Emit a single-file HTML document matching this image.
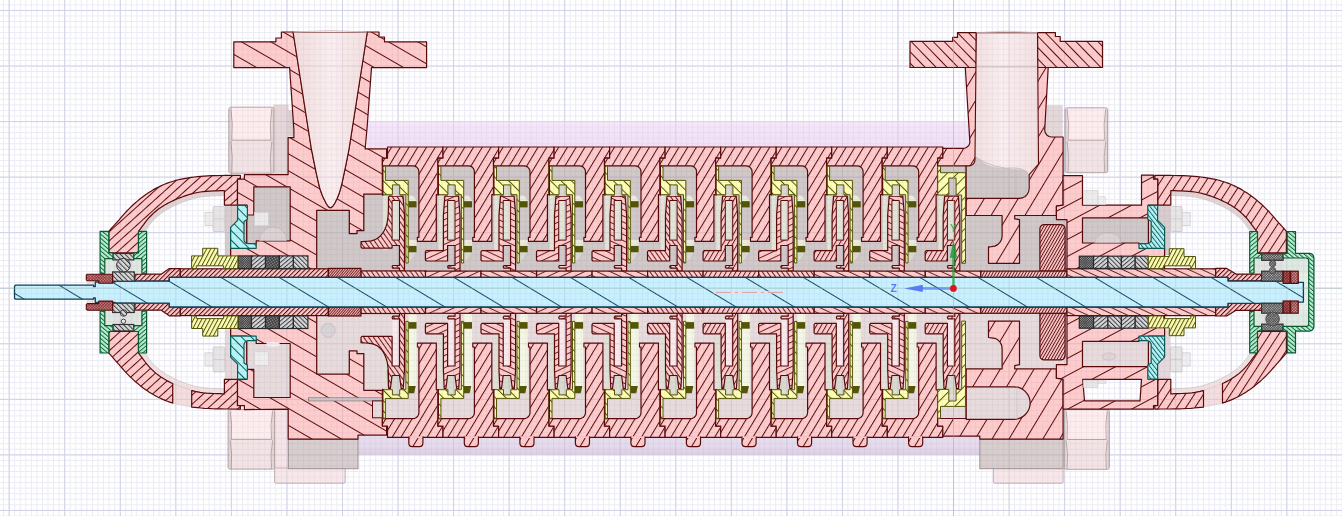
<!DOCTYPE html>
<html lang="en"><head><meta charset="utf-8"><title>Pump section view</title>
<style>html,body{margin:0;padding:0;background:#fff;overflow:hidden}body{width:1342px;height:516px;font-family:"Liberation Sans",sans-serif}svg{display:block;position:absolute;left:0;top:0}</style></head>
<body>
<svg width="1342" height="516" viewBox="0 0 1342 516" font-family="'Liberation Sans', sans-serif">
<defs>
<pattern id="hIn" patternUnits="userSpaceOnUse" width="14.7" height="10" patternTransform="rotate(-60) translate(10.5 0)"><line x1="0.5" y1="-1" x2="0.5" y2="11" stroke="#5a0a0a" stroke-width="1"/></pattern>
<pattern id="hSt" patternUnits="userSpaceOnUse" width="7.5" height="10" patternTransform="rotate(31) translate(1.2 0)"><line x1="0.5" y1="-1" x2="0.5" y2="11" stroke="#5a0a0a" stroke-width="1"/></pattern>
<pattern id="hSt0" patternUnits="userSpaceOnUse" width="7.5" height="10" patternTransform="rotate(31) translate(5.9 0)"><line x1="0.5" y1="-1" x2="0.5" y2="11" stroke="#5a0a0a" stroke-width="1"/></pattern>
<pattern id="hSt1" patternUnits="userSpaceOnUse" width="7.5" height="10" patternTransform="rotate(31) translate(1.2 0)"><line x1="0.5" y1="-1" x2="0.5" y2="11" stroke="#5a0a0a" stroke-width="1"/></pattern>
<pattern id="hSt2" patternUnits="userSpaceOnUse" width="7.5" height="10" patternTransform="rotate(31) translate(4 0)"><line x1="0.5" y1="-1" x2="0.5" y2="11" stroke="#5a0a0a" stroke-width="1"/></pattern>
<pattern id="hSt3" patternUnits="userSpaceOnUse" width="7.5" height="10" patternTransform="rotate(31) translate(6.7 0)"><line x1="0.5" y1="-1" x2="0.5" y2="11" stroke="#5a0a0a" stroke-width="1"/></pattern>
<pattern id="hSt4" patternUnits="userSpaceOnUse" width="7.5" height="10" patternTransform="rotate(31) translate(2 0)"><line x1="0.5" y1="-1" x2="0.5" y2="11" stroke="#5a0a0a" stroke-width="1"/></pattern>
<pattern id="hSt5" patternUnits="userSpaceOnUse" width="7.5" height="10" patternTransform="rotate(31) translate(4.8 0)"><line x1="0.5" y1="-1" x2="0.5" y2="11" stroke="#5a0a0a" stroke-width="1"/></pattern>
<pattern id="hSt6" patternUnits="userSpaceOnUse" width="7.5" height="10" patternTransform="rotate(31) translate(0.1 0)"><line x1="0.5" y1="-1" x2="0.5" y2="11" stroke="#5a0a0a" stroke-width="1"/></pattern>
<pattern id="hSt7" patternUnits="userSpaceOnUse" width="7.5" height="10" patternTransform="rotate(31) translate(2.9 0)"><line x1="0.5" y1="-1" x2="0.5" y2="11" stroke="#5a0a0a" stroke-width="1"/></pattern>
<pattern id="hSt8" patternUnits="userSpaceOnUse" width="7.5" height="10" patternTransform="rotate(31) translate(5.6 0)"><line x1="0.5" y1="-1" x2="0.5" y2="11" stroke="#5a0a0a" stroke-width="1"/></pattern>
<pattern id="hSt9" patternUnits="userSpaceOnUse" width="7.5" height="10" patternTransform="rotate(31) translate(0.9 0)"><line x1="0.5" y1="-1" x2="0.5" y2="11" stroke="#5a0a0a" stroke-width="1"/></pattern>
<pattern id="hOut" patternUnits="userSpaceOnUse" width="14.5" height="10" patternTransform="rotate(31) translate(3 0)"><line x1="0.5" y1="-1" x2="0.5" y2="11" stroke="#5a0a0a" stroke-width="1"/></pattern>
<pattern id="hOut2" patternUnits="userSpaceOnUse" width="15" height="10" patternTransform="rotate(62) translate(7 0)"><line x1="0.5" y1="-1" x2="0.5" y2="11" stroke="#5a0a0a" stroke-width="1"/></pattern>
<pattern id="hFl" patternUnits="userSpaceOnUse" width="7.9" height="10" patternTransform="rotate(-44) translate(2 0)"><line x1="0.5" y1="-1" x2="0.5" y2="11" stroke="#5a0a0a" stroke-width="1"/></pattern>
<pattern id="hArm" patternUnits="userSpaceOnUse" width="6.8" height="10" patternTransform="rotate(48) translate(0 0)"><line x1="0.5" y1="-1" x2="0.5" y2="11" stroke="#5a0a0a" stroke-width="1"/></pattern>
<pattern id="hArmR" patternUnits="userSpaceOnUse" width="7.6" height="10" patternTransform="rotate(33) translate(0 0)"><line x1="0.5" y1="-1" x2="0.5" y2="11" stroke="#5a0a0a" stroke-width="1"/></pattern>
<pattern id="hSl" patternUnits="userSpaceOnUse" width="3.3" height="10" patternTransform="rotate(45) translate(0 0)"><line x1="0.5" y1="-1" x2="0.5" y2="11" stroke="#5a0a0a" stroke-width="1"/></pattern>
<pattern id="hNut" patternUnits="userSpaceOnUse" width="1.9" height="10" patternTransform="rotate(40) translate(0 0)"><line x1="0.5" y1="-1" x2="0.5" y2="11" stroke="#5a0a0a" stroke-width="0.8"/></pattern>
<pattern id="hDrum" patternUnits="userSpaceOnUse" width="2.6" height="10" patternTransform="rotate(30) translate(0 0)"><line x1="0.5" y1="-1" x2="0.5" y2="11" stroke="#5a0a0a" stroke-width="0.9"/></pattern>
<pattern id="hImpA" patternUnits="userSpaceOnUse" width="5.6" height="10" patternTransform="rotate(65) translate(0 0)"><line x1="0.5" y1="-1" x2="0.5" y2="11" stroke="#5a0a0a" stroke-width="0.9"/></pattern>
<pattern id="hImpB" patternUnits="userSpaceOnUse" width="5.6" height="10" patternTransform="rotate(-65) translate(0 0)"><line x1="0.5" y1="-1" x2="0.5" y2="11" stroke="#5a0a0a" stroke-width="0.9"/></pattern>
<pattern id="hImpC" patternUnits="userSpaceOnUse" width="4.2" height="10" patternTransform="rotate(30) translate(0 0)"><line x1="0.5" y1="-1" x2="0.5" y2="11" stroke="#5a0a0a" stroke-width="0.9"/></pattern>
<pattern id="hImpD" patternUnits="userSpaceOnUse" width="4" height="10" patternTransform="rotate(-35) translate(0 0)"><line x1="0.5" y1="-1" x2="0.5" y2="11" stroke="#5a0a0a" stroke-width="0.9"/></pattern>
<pattern id="hYel" patternUnits="userSpaceOnUse" width="7.4" height="10" patternTransform="rotate(-45) translate(2 0)"><line x1="0.5" y1="-1" x2="0.5" y2="11" stroke="#55550a" stroke-width="1"/></pattern>
<pattern id="hYel2" patternUnits="userSpaceOnUse" width="7.4" height="10" patternTransform="rotate(45) translate(0 0)"><line x1="0.5" y1="-1" x2="0.5" y2="11" stroke="#55550a" stroke-width="1"/></pattern>
<pattern id="hGl" patternUnits="userSpaceOnUse" width="3.6" height="10" patternTransform="rotate(28) translate(0 0)"><line x1="0.5" y1="-1" x2="0.5" y2="11" stroke="#55550a" stroke-width="1"/></pattern>
<pattern id="hShaft" patternUnits="userSpaceOnUse" width="30" height="10" patternTransform="rotate(-59) translate(-4.5 0)"><line x1="0.5" y1="-1" x2="0.5" y2="11" stroke="#164c62" stroke-width="1"/></pattern>
<pattern id="hGrL" patternUnits="userSpaceOnUse" width="3.2" height="10" patternTransform="rotate(-50) translate(0 0)"><line x1="0.5" y1="-1" x2="0.5" y2="11" stroke="#0a5a2e" stroke-width="0.9"/></pattern>
<pattern id="hGrR" patternUnits="userSpaceOnUse" width="3.2" height="10" patternTransform="rotate(50) translate(0 0)"><line x1="0.5" y1="-1" x2="0.5" y2="11" stroke="#0a5a2e" stroke-width="0.9"/></pattern>
<pattern id="hCy" patternUnits="userSpaceOnUse" width="6.8" height="10" patternTransform="rotate(-45) translate(0 0)"><line x1="0.5" y1="-1" x2="0.5" y2="11" stroke="#0a5c5c" stroke-width="1"/></pattern>
<pattern id="hCy2" patternUnits="userSpaceOnUse" width="3.4" height="10" patternTransform="rotate(-38) translate(0 0)"><line x1="0.5" y1="-1" x2="0.5" y2="11" stroke="#0a5c5c" stroke-width="0.9"/></pattern>
<pattern id="hBr" patternUnits="userSpaceOnUse" width="3.4" height="10" patternTransform="rotate(-45) translate(0 0)"><line x1="0.5" y1="-1" x2="0.5" y2="11" stroke="#333" stroke-width="0.9"/></pattern>
<pattern id="hPk1" patternUnits="userSpaceOnUse" width="3.2" height="10" patternTransform="rotate(50) translate(0 0)"><line x1="0.5" y1="-1" x2="0.5" y2="11" stroke="#333" stroke-width="0.9"/></pattern>
<pattern id="hPk2" patternUnits="userSpaceOnUse" width="3.2" height="10" patternTransform="rotate(-45) translate(0 0)"><line x1="0.5" y1="-1" x2="0.5" y2="11" stroke="#333" stroke-width="0.9"/></pattern>
<pattern id="xPk" patternUnits="userSpaceOnUse" width="1.6" height="1.6" patternTransform="rotate(45)"><path d="M0.5 0V1.6 M0 0.5H1.6" stroke="#222" stroke-width="0.6" fill="none"/></pattern>
<pattern id="xPk2" patternUnits="userSpaceOnUse" width="1.5" height="1.5" patternTransform="rotate(20)"><path d="M0.5 0V1.5 M0 0.5H1.5" stroke="#222" stroke-width="0.6" fill="none"/></pattern>
<pattern id="xLn" patternUnits="userSpaceOnUse" width="2" height="2" patternTransform="rotate(45)"><path d="M0.5 0V2 M0 0.5H2" stroke="#5a0a0a" stroke-width="0.5" fill="none"/></pattern>
<pattern id="xBr" patternUnits="userSpaceOnUse" width="1.8" height="1.8" patternTransform="rotate(45)"><path d="M0.5 0V1.8 M0 0.5H1.8" stroke="#333" stroke-width="0.6" fill="none"/></pattern>
<linearGradient id="gRod" x1="0" y1="0" x2="0" y2="1"><stop offset="0" stop-color="#f5e7f8"/><stop offset="0.3" stop-color="#f4e4f7"/><stop offset="1" stop-color="#f2e1f5"/></linearGradient>
<linearGradient id="gRodB" x1="0" y1="0" x2="0" y2="1"><stop offset="0" stop-color="#e9dfee"/><stop offset="0.6" stop-color="#e4d9ea"/><stop offset="1" stop-color="#dccfe2"/></linearGradient>
<linearGradient id="gBore" x1="0" y1="0" x2="1" y2="0"><stop offset="0" stop-color="#f0dcdc"/><stop offset="0.5" stop-color="#faeeee"/><stop offset="1" stop-color="#f3e0e0"/></linearGradient>
<pattern id="gMin" patternUnits="userSpaceOnUse" x="3.1" y="4.4" width="5.555" height="5.555"><path d="M0.5 0V5.555 M0 0.5H5.555" stroke="#f5f5fa" stroke-width="1" fill="none"/></pattern>
<pattern id="gMaj" patternUnits="userSpaceOnUse" x="8.7" y="10" width="55.55" height="55.55"><path d="M0.5 0V55.55 M0 0.5H55.55" stroke="#e6e6f2" stroke-width="1" fill="none"/></pattern>
<pattern id="gMinF" patternUnits="userSpaceOnUse" x="3.1" y="4.4" width="5.555" height="5.555"><path d="M0.5 0V5.555 M0 0.5H5.555" stroke="#f4f4fa" stroke-width="1" fill="none"/></pattern>
<pattern id="gMajF" patternUnits="userSpaceOnUse" x="8.7" y="10" width="55.55" height="55.55"><path d="M0.5 0V55.55 M0 0.5H55.55" stroke="#e8e8f4" stroke-width="1" fill="none"/></pattern>
</defs>
<rect x="0" y="0" width="1342" height="516" fill="#ffffff"/>
<rect width="1342" height="516" fill="url(#gMin)"/><rect width="1342" height="516" fill="url(#gMaj)"/>
<rect x="367" y="121.3" width="604" height="27" fill="url(#gRod)"/>
<rect x="358" y="436" width="622" height="18.5" fill="url(#gRodB)"/>
<rect x="273.9" y="105" width="14.2" height="69.6" fill="#e6d8d8" />
<rect x="273.9" y="105" width="14.2" height="69.6" fill="none" stroke="#e2d0d0" stroke-width="0.8"/>
<rect x="228.8" y="107.2" width="45.1" height="33" rx="2" fill="#fdeded" />
<rect x="228.8" y="140.2" width="45.1" height="33" rx="2" fill="#f2e4e4" />
<rect x="228.8" y="109.2" width="45.1" height="31" fill="#fdeded"/>
<rect x="228.8" y="140.2" width="45.1" height="31" fill="#f2e4e4"/>
<rect x="228.8" y="109.2" width="2.6" height="62" fill="#e4d6d6"/><rect x="271.3" y="109.2" width="2.6" height="62" fill="#e4d6d6"/>
<rect x="228.8" y="107.2" width="45.1" height="66" rx="2" fill="none" stroke="#ad9d9d" stroke-width="0.9"/>
<line x1="231.8" y1="140.2" x2="270.9" y2="140.2" stroke="#ad9d9d" stroke-width="0.9"/>
<path d="M230.8 108.2 Q233.3 123.7 231.8 140.2 M271.9 108.2 Q269.4 123.7 270.9 140.2" fill="none" stroke="#ad9d9d" stroke-width="0.8"/>
<path d="M230.8 141.2 Q233.3 156.7 231.8 173.2 M271.9 141.2 Q269.4 156.7 270.9 173.2" fill="none" stroke="#ad9d9d" stroke-width="0.8"/>
<rect x="288.1" y="110" width="5.4" height="26.5" fill="#dccfcf" />
<rect x="274.6" y="409.1" width="13.6" height="60" fill="#f6e4e6" />
<rect x="274.6" y="409.1" width="13.6" height="60" fill="none" stroke="#cbbcbc" stroke-width="0.9"/>
<rect x="228.1" y="409.6" width="46.5" height="29.8" rx="2" fill="#fdeded" />
<rect x="228.1" y="439.4" width="46.5" height="29.8" rx="2" fill="#f2e4e4" />
<rect x="228.1" y="411.6" width="46.5" height="27.8" fill="#fdeded"/>
<rect x="228.1" y="439.4" width="46.5" height="27.8" fill="#f2e4e4"/>
<rect x="228.1" y="411.6" width="2.6" height="55.5" fill="#e4d6d6"/><rect x="272" y="411.6" width="2.6" height="55.5" fill="#e4d6d6"/>
<rect x="228.1" y="409.6" width="46.5" height="59.5" rx="2" fill="none" stroke="#ad9d9d" stroke-width="0.9"/>
<line x1="231.1" y1="439.4" x2="271.6" y2="439.4" stroke="#ad9d9d" stroke-width="0.9"/>
<path d="M230.1 410.6 Q232.6 424.5 231.1 439.4 M272.6 410.6 Q270.1 424.5 271.6 439.4" fill="none" stroke="#ad9d9d" stroke-width="0.8"/>
<path d="M230.1 440.4 Q232.6 454.2 231.1 469.1 M272.6 440.4 Q270.1 454.2 271.6 469.1" fill="none" stroke="#ad9d9d" stroke-width="0.8"/>
<rect x="274.6" y="468" width="70.6" height="15.2" rx="1" fill="#f8e7e9" />
<rect x="274.6" y="468" width="70.6" height="15.2" rx="1" fill="none" stroke="#c3b3b3" stroke-width="1"/>
<rect x="288.4" y="439.1" width="69.6" height="29.6" fill="#d8cece" />
<rect x="288.4" y="439.1" width="69.6" height="29.6" fill="none" stroke="#a39494" stroke-width="1"/>
<rect x="1044.7" y="105.8" width="17.5" height="30.7" fill="#e4d8d8" />
<rect x="1044.7" y="105.8" width="17.5" height="30.7" fill="none" stroke="#e2d0d0" stroke-width="0.8"/>
<rect x="1065.1" y="107.8" width="42.6" height="32.5" rx="2" fill="#fdeded" />
<rect x="1065.1" y="140.2" width="42.6" height="32.4" rx="2" fill="#f2e4e4" />
<rect x="1065.1" y="109.8" width="42.6" height="30.5" fill="#fdeded"/>
<rect x="1065.1" y="140.2" width="42.6" height="30.4" fill="#f2e4e4"/>
<rect x="1065.1" y="109.8" width="2.6" height="60.9" fill="#e4d6d6"/><rect x="1105.1" y="109.8" width="2.6" height="60.9" fill="#e4d6d6"/>
<rect x="1065.1" y="107.8" width="42.6" height="64.9" rx="2" fill="none" stroke="#ad9d9d" stroke-width="0.9"/>
<line x1="1068.1" y1="140.2" x2="1104.7" y2="140.2" stroke="#ad9d9d" stroke-width="0.9"/>
<path d="M1067.1 108.8 Q1069.6 124 1068.1 140.2 M1105.7 108.8 Q1103.2 124 1104.7 140.2" fill="none" stroke="#ad9d9d" stroke-width="0.8"/>
<path d="M1067.1 141.2 Q1069.6 156.5 1068.1 172.7 M1105.7 141.2 Q1103.2 156.5 1104.7 172.7" fill="none" stroke="#ad9d9d" stroke-width="0.8"/>
<rect x="1064.1" y="409.6" width="45.2" height="29.9" rx="2" fill="#fdeded" />
<rect x="1064.1" y="439.5" width="45.2" height="29.8" rx="2" fill="#f2e4e4" />
<rect x="1064.1" y="411.6" width="45.2" height="27.9" fill="#fdeded"/>
<rect x="1064.1" y="439.5" width="45.2" height="27.8" fill="#f2e4e4"/>
<rect x="1064.1" y="411.6" width="2.6" height="55.7" fill="#e4d6d6"/><rect x="1106.7" y="411.6" width="2.6" height="55.7" fill="#e4d6d6"/>
<rect x="1064.1" y="409.6" width="45.2" height="59.7" rx="2" fill="none" stroke="#ad9d9d" stroke-width="0.9"/>
<line x1="1067.1" y1="439.5" x2="1106.3" y2="439.5" stroke="#ad9d9d" stroke-width="0.9"/>
<path d="M1066.1 410.6 Q1068.6 424.5 1067.1 439.5 M1107.3 410.6 Q1104.8 424.5 1106.3 439.5" fill="none" stroke="#ad9d9d" stroke-width="0.8"/>
<path d="M1066.1 440.5 Q1068.6 454.4 1067.1 469.3 M1107.3 440.5 Q1104.8 454.4 1106.3 469.3" fill="none" stroke="#ad9d9d" stroke-width="0.8"/>
<rect x="993.4" y="468" width="69.7" height="15.2" rx="1" fill="#f8e7e9" />
<rect x="993.4" y="468" width="69.7" height="15.2" rx="1" fill="none" stroke="#c3b3b3" stroke-width="1"/>
<rect x="979.8" y="439.1" width="83.3" height="29.6" fill="#d8cece" />
<rect x="979.8" y="439.1" width="83.3" height="29.6" fill="none" stroke="#a39494" stroke-width="1"/>
<rect x="224.8" y="205" width="22.2" height="50" fill="#d8cccd" />
<rect x="224.8" y="329.4" width="22.2" height="50" fill="#e6d9db" />
<rect x="1148.2" y="205" width="22.2" height="50" fill="#d8cccd" />
<rect x="1148.2" y="329.4" width="22.2" height="50" fill="#e6d9db" />
<polygon points="224.4,190.5 222.5,190.6 220,190.7 216.9,190.8 213.6,190.9 210.1,191.1 206.6,191.3 203.3,191.6 200.3,192 197.6,192.5 195,193 192.4,193.7 189.9,194.3 187.4,195.1 185,195.9 182.7,196.7 180.3,197.6 178,198.5 175.6,199.5 173.3,200.6 171,201.7 168.8,202.8 166.7,203.9 164.6,205.1 162.7,206.3 160.9,207.5 159.2,208.6 157.6,209.8 156.1,211 154.6,212.3 153.1,213.6 151.7,215 150.2,216.5 148.6,218.2 146.9,220.2 145.2,222.4 143.6,224.6 142,226.7 140.6,228.6 139.4,230.2 138.5,231.4 143.5,233 144.3,232 145.3,230.6 146.5,228.9 147.8,227.1 149.2,225.2 150.7,223.3 152.2,221.5 153.6,220 155,218.6 156.3,217.4 157.7,216.2 159.1,215 160.6,213.9 162.2,212.8 163.8,211.7 165.5,210.6 167.3,209.5 169.2,208.4 171.2,207.3 173.3,206.3 175.4,205.2 177.6,204.2 179.8,203.3 182,202.4 184.2,201.6 186.5,200.8 188.7,200 191.1,199.3 193.4,198.6 195.9,198 198.4,197.5 201,197 203.9,196.6 207.1,196.3 210.5,196.1 213.9,195.9 217.1,195.8 220.1,195.7 222.6,195.6 224.4,195.5" fill="#e3d5d5" stroke="none"/>
<polygon points="224.4,190.5 222.5,190.6 220,190.7 216.9,190.8 213.6,190.9 210.1,191.1 206.6,191.3 203.3,191.6 200.3,192 197.6,192.5 195,193 192.4,193.7 189.9,194.3 187.4,195.1 185,195.9 182.7,196.7 180.3,197.6 178,198.5 175.6,199.5 173.3,200.6 171,201.7 168.8,202.8 166.7,203.9 164.6,205.1 162.7,206.3 160.9,207.5 159.2,208.6 157.6,209.8 156.1,211 154.6,212.3 153.1,213.6 151.7,215 150.2,216.5 148.6,218.2 146.9,220.2 145.2,222.4 143.6,224.6 142,226.7 140.6,228.6 139.4,230.2 138.5,231.4 143.5,233 144.3,232 145.3,230.6 146.5,228.9 147.8,227.1 149.2,225.2 150.7,223.3 152.2,221.5 153.6,220 155,218.6 156.3,217.4 157.7,216.2 159.1,215 160.6,213.9 162.2,212.8 163.8,211.7 165.5,210.6 167.3,209.5 169.2,208.4 171.2,207.3 173.3,206.3 175.4,205.2 177.6,204.2 179.8,203.3 182,202.4 184.2,201.6 186.5,200.8 188.7,200 191.1,199.3 193.4,198.6 195.9,198 198.4,197.5 201,197 203.9,196.6 207.1,196.3 210.5,196.1 213.9,195.9 217.1,195.8 220.1,195.7 222.6,195.6 224.4,195.5" fill="none" stroke="#d4c2c2" stroke-width="0.7" stroke-linejoin="round" />
<polygon points="108.8,252.9 108.8,231.4 109.5,230.6 110.3,229.7 111.3,228.5 112.5,227.2 113.7,225.8 115,224.3 116.4,222.8 117.7,221.3 119.1,219.8 120.5,218.1 122,216.4 123.6,214.6 125.2,212.8 126.8,211 128.5,209.3 130.2,207.6 131.9,206 133.7,204.3 135.5,202.7 137.4,201.1 139.3,199.5 141.2,197.9 143.2,196.4 145.2,195 147.3,193.6 149.3,192.2 151.5,190.9 153.6,189.6 155.8,188.4 158.1,187.2 160.4,186.1 162.7,185 165.1,184 167.4,183.1 169.8,182.3 172.3,181.5 174.8,180.7 177.4,180 180,179.4 182.8,178.8 185.6,178.3 188.5,177.8 191.5,177.4 194.5,177 197.7,176.7 200.9,176.4 204.3,176.1 207.8,175.9 211.7,175.7 216.2,175.6 220.9,175.5 225.7,175.4 230.2,175.4 234.4,175.4 237.8,175.3 240.4,175.3 240.4,179.2 237.5,179.2 237.5,205.1 224.4,205.1 224.4,190.5 222.5,190.6 220,190.7 216.9,190.8 213.6,190.9 210.1,191.1 206.6,191.3 203.3,191.6 200.3,192 197.6,192.5 195,193 192.4,193.7 189.9,194.3 187.4,195.1 185,195.9 182.7,196.7 180.3,197.6 178,198.5 175.6,199.5 173.3,200.6 171,201.7 168.8,202.8 166.7,203.9 164.6,205.1 162.7,206.3 160.9,207.5 159.2,208.6 157.6,209.8 156.1,211 154.6,212.3 153.1,213.6 151.7,215 150.2,216.5 148.6,218.2 146.9,220.2 145.2,222.4 143.6,224.6 142,226.7 140.6,228.6 139.4,230.2 138.5,231.4 138.5,252.9" fill="#fdcccc" stroke="none"/>
<polygon points="108.8,252.9 108.8,231.4 109.5,230.6 110.3,229.7 111.3,228.5 112.5,227.2 113.7,225.8 115,224.3 116.4,222.8 117.7,221.3 119.1,219.8 120.5,218.1 122,216.4 123.6,214.6 125.2,212.8 126.8,211 128.5,209.3 130.2,207.6 131.9,206 133.7,204.3 135.5,202.7 137.4,201.1 139.3,199.5 141.2,197.9 143.2,196.4 145.2,195 147.3,193.6 149.3,192.2 151.5,190.9 153.6,189.6 155.8,188.4 158.1,187.2 160.4,186.1 162.7,185 165.1,184 167.4,183.1 169.8,182.3 172.3,181.5 174.8,180.7 177.4,180 180,179.4 182.8,178.8 185.6,178.3 188.5,177.8 191.5,177.4 194.5,177 197.7,176.7 200.9,176.4 204.3,176.1 207.8,175.9 211.7,175.7 216.2,175.6 220.9,175.5 225.7,175.4 230.2,175.4 234.4,175.4 237.8,175.3 240.4,175.3 240.4,179.2 237.5,179.2 237.5,205.1 224.4,205.1 224.4,190.5 222.5,190.6 220,190.7 216.9,190.8 213.6,190.9 210.1,191.1 206.6,191.3 203.3,191.6 200.3,192 197.6,192.5 195,193 192.4,193.7 189.9,194.3 187.4,195.1 185,195.9 182.7,196.7 180.3,197.6 178,198.5 175.6,199.5 173.3,200.6 171,201.7 168.8,202.8 166.7,203.9 164.6,205.1 162.7,206.3 160.9,207.5 159.2,208.6 157.6,209.8 156.1,211 154.6,212.3 153.1,213.6 151.7,215 150.2,216.5 148.6,218.2 146.9,220.2 145.2,222.4 143.6,224.6 142,226.7 140.6,228.6 139.4,230.2 138.5,231.4 138.5,252.9" fill="url(#hArm)" stroke="none"/>
<polygon points="108.8,252.9 108.8,231.4 109.5,230.6 110.3,229.7 111.3,228.5 112.5,227.2 113.7,225.8 115,224.3 116.4,222.8 117.7,221.3 119.1,219.8 120.5,218.1 122,216.4 123.6,214.6 125.2,212.8 126.8,211 128.5,209.3 130.2,207.6 131.9,206 133.7,204.3 135.5,202.7 137.4,201.1 139.3,199.5 141.2,197.9 143.2,196.4 145.2,195 147.3,193.6 149.3,192.2 151.5,190.9 153.6,189.6 155.8,188.4 158.1,187.2 160.4,186.1 162.7,185 165.1,184 167.4,183.1 169.8,182.3 172.3,181.5 174.8,180.7 177.4,180 180,179.4 182.8,178.8 185.6,178.3 188.5,177.8 191.5,177.4 194.5,177 197.7,176.7 200.9,176.4 204.3,176.1 207.8,175.9 211.7,175.7 216.2,175.6 220.9,175.5 225.7,175.4 230.2,175.4 234.4,175.4 237.8,175.3 240.4,175.3 240.4,179.2 237.5,179.2 237.5,205.1 224.4,205.1 224.4,190.5 222.5,190.6 220,190.7 216.9,190.8 213.6,190.9 210.1,191.1 206.6,191.3 203.3,191.6 200.3,192 197.6,192.5 195,193 192.4,193.7 189.9,194.3 187.4,195.1 185,195.9 182.7,196.7 180.3,197.6 178,198.5 175.6,199.5 173.3,200.6 171,201.7 168.8,202.8 166.7,203.9 164.6,205.1 162.7,206.3 160.9,207.5 159.2,208.6 157.6,209.8 156.1,211 154.6,212.3 153.1,213.6 151.7,215 150.2,216.5 148.6,218.2 146.9,220.2 145.2,222.4 143.6,224.6 142,226.7 140.6,228.6 139.4,230.2 138.5,231.4 138.5,252.9" fill="none" stroke="#5a0a0a" stroke-width="1.2" stroke-linejoin="round" />
<polygon points="224.4,393.9 222.5,393.8 220,393.7 216.9,393.6 213.6,393.5 210.1,393.3 206.6,393.1 203.3,392.8 200.3,392.4 197.6,391.9 195,391.4 192.4,390.7 189.9,390 187.4,389.3 185,388.5 182.7,387.7 180.3,386.8 178,385.9 175.6,384.9 173.3,383.8 171,382.7 168.8,381.6 166.7,380.5 164.6,379.3 162.7,378.1 160.9,376.9 159.2,375.8 157.6,374.6 156.1,373.4 154.6,372.1 153.1,370.8 151.7,369.4 150.2,367.9 148.6,366.2 146.9,364.2 145.2,362 143.6,359.8 142,357.7 140.6,355.8 139.4,354.2 138.5,353 143.5,351.4 144.3,352.4 145.3,353.8 146.5,355.5 147.8,357.3 149.2,359.2 150.7,361.1 152.2,362.9 153.6,364.4 155,365.8 156.3,367 157.7,368.2 159.1,369.4 160.6,370.5 162.2,371.6 163.8,372.7 165.5,373.8 167.3,374.9 169.2,376 171.2,377.1 173.3,378.1 175.4,379.2 177.6,380.2 179.8,381.1 182,382 184.2,382.8 186.5,383.6 188.7,384.4 191.1,385.1 193.4,385.8 195.9,386.4 198.4,386.9 201,387.4 203.9,387.8 207.1,388.1 210.5,388.3 213.9,388.5 217.1,388.6 220.1,388.7 222.6,388.8 224.4,388.9" fill="#f0e2e2" stroke="none"/>
<polygon points="224.4,393.9 222.5,393.8 220,393.7 216.9,393.6 213.6,393.5 210.1,393.3 206.6,393.1 203.3,392.8 200.3,392.4 197.6,391.9 195,391.4 192.4,390.7 189.9,390 187.4,389.3 185,388.5 182.7,387.7 180.3,386.8 178,385.9 175.6,384.9 173.3,383.8 171,382.7 168.8,381.6 166.7,380.5 164.6,379.3 162.7,378.1 160.9,376.9 159.2,375.8 157.6,374.6 156.1,373.4 154.6,372.1 153.1,370.8 151.7,369.4 150.2,367.9 148.6,366.2 146.9,364.2 145.2,362 143.6,359.8 142,357.7 140.6,355.8 139.4,354.2 138.5,353 143.5,351.4 144.3,352.4 145.3,353.8 146.5,355.5 147.8,357.3 149.2,359.2 150.7,361.1 152.2,362.9 153.6,364.4 155,365.8 156.3,367 157.7,368.2 159.1,369.4 160.6,370.5 162.2,371.6 163.8,372.7 165.5,373.8 167.3,374.9 169.2,376 171.2,377.1 173.3,378.1 175.4,379.2 177.6,380.2 179.8,381.1 182,382 184.2,382.8 186.5,383.6 188.7,384.4 191.1,385.1 193.4,385.8 195.9,386.4 198.4,386.9 201,387.4 203.9,387.8 207.1,388.1 210.5,388.3 213.9,388.5 217.1,388.6 220.1,388.7 222.6,388.8 224.4,388.9" fill="none" stroke="#d4c2c2" stroke-width="0.7" stroke-linejoin="round" />
<polygon points="172.7,403.1 191.7,407.1 191.7,390.5 172.7,383.5" fill="#f5dede" stroke="none"/>
<polygon points="172.7,403.1 191.7,407.1 191.7,390.5 172.7,383.5" fill="none" stroke="#e0cccc" stroke-width="0.7" stroke-linejoin="round" />
<polygon points="108.8,331.5 108.8,353 109.5,353.8 110.3,354.7 111.3,355.9 112.5,357.2 113.7,358.6 115,360.1 116.4,361.6 117.7,363.1 119.1,364.6 120.5,366.3 122,368 123.6,369.8 125.2,371.6 126.8,373.4 128.5,375.1 130.2,376.8 131.9,378.4 133.7,380.1 135.5,381.7 137.4,383.3 139.3,384.9 141.2,386.5 143.2,388 145.2,389.4 147.3,390.8 149.3,392.2 151.5,393.5 153.6,394.8 155.8,396 158.1,397.2 160.4,398.3 162.7,399.4 165.1,400.4 167.4,401.3 169.8,402.1 172.3,402.9 172.7,403.1 172.7,383.5 171,382.7 168.8,381.6 166.7,380.5 164.6,379.3 162.7,378.1 160.9,376.9 159.2,375.8 157.6,374.6 156.1,373.4 154.6,372.1 153.1,370.8 151.7,369.4 150.2,367.9 148.6,366.2 146.9,364.2 145.2,362 143.6,359.8 142,357.7 140.6,355.8 139.4,354.2 138.5,353 138.5,331.5" fill="#fdcccc" stroke="none"/>
<polygon points="108.8,331.5 108.8,353 109.5,353.8 110.3,354.7 111.3,355.9 112.5,357.2 113.7,358.6 115,360.1 116.4,361.6 117.7,363.1 119.1,364.6 120.5,366.3 122,368 123.6,369.8 125.2,371.6 126.8,373.4 128.5,375.1 130.2,376.8 131.9,378.4 133.7,380.1 135.5,381.7 137.4,383.3 139.3,384.9 141.2,386.5 143.2,388 145.2,389.4 147.3,390.8 149.3,392.2 151.5,393.5 153.6,394.8 155.8,396 158.1,397.2 160.4,398.3 162.7,399.4 165.1,400.4 167.4,401.3 169.8,402.1 172.3,402.9 172.7,403.1 172.7,383.5 171,382.7 168.8,381.6 166.7,380.5 164.6,379.3 162.7,378.1 160.9,376.9 159.2,375.8 157.6,374.6 156.1,373.4 154.6,372.1 153.1,370.8 151.7,369.4 150.2,367.9 148.6,366.2 146.9,364.2 145.2,362 143.6,359.8 142,357.7 140.6,355.8 139.4,354.2 138.5,353 138.5,331.5" fill="url(#hArm)" stroke="none"/>
<polygon points="108.8,331.5 108.8,353 109.5,353.8 110.3,354.7 111.3,355.9 112.5,357.2 113.7,358.6 115,360.1 116.4,361.6 117.7,363.1 119.1,364.6 120.5,366.3 122,368 123.6,369.8 125.2,371.6 126.8,373.4 128.5,375.1 130.2,376.8 131.9,378.4 133.7,380.1 135.5,381.7 137.4,383.3 139.3,384.9 141.2,386.5 143.2,388 145.2,389.4 147.3,390.8 149.3,392.2 151.5,393.5 153.6,394.8 155.8,396 158.1,397.2 160.4,398.3 162.7,399.4 165.1,400.4 167.4,401.3 169.8,402.1 172.3,402.9 172.7,403.1 172.7,383.5 171,382.7 168.8,381.6 166.7,380.5 164.6,379.3 162.7,378.1 160.9,376.9 159.2,375.8 157.6,374.6 156.1,373.4 154.6,372.1 153.1,370.8 151.7,369.4 150.2,367.9 148.6,366.2 146.9,364.2 145.2,362 143.6,359.8 142,357.7 140.6,355.8 139.4,354.2 138.5,353 138.5,331.5" fill="none" stroke="#5a0a0a" stroke-width="1.2" stroke-linejoin="round" />
<polygon points="191.7,407.1 194.5,407.4 197.7,407.7 200.9,408 204.3,408.3 207.8,408.5 211.7,408.7 216.2,408.8 220.9,408.9 225.7,409 230.2,409 234.4,409 237.8,409.1 240.4,409.1 240.4,405.2 237.5,405.2 237.5,379.3 224.4,379.3 224.4,393.9 222.5,393.8 220,393.7 216.9,393.6 213.6,393.5 210.1,393.3 206.6,393.1 203.3,392.8 200.3,392.4 197.6,391.9 195,391.4 192.4,390.7 191.7,390.5" fill="#fdcccc" stroke="none"/>
<polygon points="191.7,407.1 194.5,407.4 197.7,407.7 200.9,408 204.3,408.3 207.8,408.5 211.7,408.7 216.2,408.8 220.9,408.9 225.7,409 230.2,409 234.4,409 237.8,409.1 240.4,409.1 240.4,405.2 237.5,405.2 237.5,379.3 224.4,379.3 224.4,393.9 222.5,393.8 220,393.7 216.9,393.6 213.6,393.5 210.1,393.3 206.6,393.1 203.3,392.8 200.3,392.4 197.6,391.9 195,391.4 192.4,390.7 191.7,390.5" fill="url(#hArm)" stroke="none"/>
<polygon points="191.7,407.1 194.5,407.4 197.7,407.7 200.9,408 204.3,408.3 207.8,408.5 211.7,408.7 216.2,408.8 220.9,408.9 225.7,409 230.2,409 234.4,409 237.8,409.1 240.4,409.1 240.4,405.2 237.5,405.2 237.5,379.3 224.4,379.3 224.4,393.9 222.5,393.8 220,393.7 216.9,393.6 213.6,393.5 210.1,393.3 206.6,393.1 203.3,392.8 200.3,392.4 197.6,391.9 195,391.4 192.4,390.7 191.7,390.5" fill="none" stroke="#5a0a0a" stroke-width="1.2" stroke-linejoin="round" />
<polygon points="1170.8,190.5 1172.7,190.6 1175.2,190.7 1178.3,190.8 1181.6,190.9 1185.1,191.1 1188.6,191.3 1191.9,191.6 1194.9,192 1197.6,192.5 1200.2,193 1202.8,193.7 1205.3,194.3 1207.8,195.1 1210.2,195.9 1212.5,196.7 1214.9,197.6 1217.2,198.5 1219.6,199.5 1221.9,200.6 1224.2,201.7 1226.4,202.8 1228.5,203.9 1230.6,205.1 1232.5,206.3 1234.3,207.5 1236,208.6 1237.6,209.8 1239.1,211 1240.6,212.3 1242.1,213.6 1243.5,215 1245,216.5 1246.6,218.2 1248.3,220.2 1250,222.4 1251.6,224.6 1253.2,226.7 1254.6,228.6 1255.8,230.2 1256.7,231.4 1251.7,233 1250.9,232 1249.9,230.6 1248.7,228.9 1247.4,227.1 1246,225.2 1244.5,223.3 1243,221.5 1241.6,220 1240.2,218.6 1238.9,217.4 1237.5,216.2 1236.1,215 1234.6,213.9 1233,212.8 1231.4,211.7 1229.7,210.6 1227.9,209.5 1226,208.4 1224,207.3 1221.9,206.3 1219.8,205.2 1217.6,204.2 1215.4,203.3 1213.2,202.4 1211,201.6 1208.7,200.8 1206.5,200 1204.1,199.3 1201.8,198.6 1199.3,198 1196.8,197.5 1194.2,197 1191.3,196.6 1188.1,196.3 1184.7,196.1 1181.3,195.9 1178.1,195.8 1175.1,195.7 1172.6,195.6 1170.8,195.5" fill="#e3d5d5" stroke="none"/>
<polygon points="1170.8,190.5 1172.7,190.6 1175.2,190.7 1178.3,190.8 1181.6,190.9 1185.1,191.1 1188.6,191.3 1191.9,191.6 1194.9,192 1197.6,192.5 1200.2,193 1202.8,193.7 1205.3,194.3 1207.8,195.1 1210.2,195.9 1212.5,196.7 1214.9,197.6 1217.2,198.5 1219.6,199.5 1221.9,200.6 1224.2,201.7 1226.4,202.8 1228.5,203.9 1230.6,205.1 1232.5,206.3 1234.3,207.5 1236,208.6 1237.6,209.8 1239.1,211 1240.6,212.3 1242.1,213.6 1243.5,215 1245,216.5 1246.6,218.2 1248.3,220.2 1250,222.4 1251.6,224.6 1253.2,226.7 1254.6,228.6 1255.8,230.2 1256.7,231.4 1251.7,233 1250.9,232 1249.9,230.6 1248.7,228.9 1247.4,227.1 1246,225.2 1244.5,223.3 1243,221.5 1241.6,220 1240.2,218.6 1238.9,217.4 1237.5,216.2 1236.1,215 1234.6,213.9 1233,212.8 1231.4,211.7 1229.7,210.6 1227.9,209.5 1226,208.4 1224,207.3 1221.9,206.3 1219.8,205.2 1217.6,204.2 1215.4,203.3 1213.2,202.4 1211,201.6 1208.7,200.8 1206.5,200 1204.1,199.3 1201.8,198.6 1199.3,198 1196.8,197.5 1194.2,197 1191.3,196.6 1188.1,196.3 1184.7,196.1 1181.3,195.9 1178.1,195.8 1175.1,195.7 1172.6,195.6 1170.8,195.5" fill="none" stroke="#d4c2c2" stroke-width="0.7" stroke-linejoin="round" />
<polygon points="1286.4,252.9 1286.4,231.4 1285.7,230.6 1284.9,229.7 1283.9,228.5 1282.7,227.2 1281.5,225.8 1280.2,224.3 1278.8,222.8 1277.5,221.3 1276.1,219.8 1274.7,218.1 1273.2,216.4 1271.6,214.6 1270,212.8 1268.4,211 1266.7,209.3 1265,207.6 1263.3,206 1261.5,204.3 1259.7,202.7 1257.8,201.1 1255.9,199.5 1254,197.9 1252,196.4 1250,195 1247.9,193.6 1245.9,192.2 1243.7,190.9 1241.6,189.6 1239.4,188.4 1237.1,187.2 1234.8,186.1 1232.5,185 1230.1,184 1227.8,183.1 1225.4,182.3 1222.9,181.5 1220.4,180.7 1217.8,180 1215.2,179.4 1212.4,178.8 1209.6,178.3 1206.7,177.8 1203.7,177.4 1200.7,177 1197.5,176.7 1194.3,176.4 1190.9,176.1 1187.4,175.9 1183.5,175.7 1179,175.6 1174.3,175.5 1169.5,175.4 1165,175.4 1160.8,175.4 1157.4,175.3 1154.8,175.3 1154.8,179.2 1157.7,179.2 1157.7,205.1 1170.8,205.1 1170.8,190.5 1172.7,190.6 1175.2,190.7 1178.3,190.8 1181.6,190.9 1185.1,191.1 1188.6,191.3 1191.9,191.6 1194.9,192 1197.6,192.5 1200.2,193 1202.8,193.7 1205.3,194.3 1207.8,195.1 1210.2,195.9 1212.5,196.7 1214.9,197.6 1217.2,198.5 1219.6,199.5 1221.9,200.6 1224.2,201.7 1226.4,202.8 1228.5,203.9 1230.6,205.1 1232.5,206.3 1234.3,207.5 1236,208.6 1237.6,209.8 1239.1,211 1240.6,212.3 1242.1,213.6 1243.5,215 1245,216.5 1246.6,218.2 1248.3,220.2 1250,222.4 1251.6,224.6 1253.2,226.7 1254.6,228.6 1255.8,230.2 1256.7,231.4 1256.7,252.9" fill="#fdcccc" stroke="none"/>
<polygon points="1286.4,252.9 1286.4,231.4 1285.7,230.6 1284.9,229.7 1283.9,228.5 1282.7,227.2 1281.5,225.8 1280.2,224.3 1278.8,222.8 1277.5,221.3 1276.1,219.8 1274.7,218.1 1273.2,216.4 1271.6,214.6 1270,212.8 1268.4,211 1266.7,209.3 1265,207.6 1263.3,206 1261.5,204.3 1259.7,202.7 1257.8,201.1 1255.9,199.5 1254,197.9 1252,196.4 1250,195 1247.9,193.6 1245.9,192.2 1243.7,190.9 1241.6,189.6 1239.4,188.4 1237.1,187.2 1234.8,186.1 1232.5,185 1230.1,184 1227.8,183.1 1225.4,182.3 1222.9,181.5 1220.4,180.7 1217.8,180 1215.2,179.4 1212.4,178.8 1209.6,178.3 1206.7,177.8 1203.7,177.4 1200.7,177 1197.5,176.7 1194.3,176.4 1190.9,176.1 1187.4,175.9 1183.5,175.7 1179,175.6 1174.3,175.5 1169.5,175.4 1165,175.4 1160.8,175.4 1157.4,175.3 1154.8,175.3 1154.8,179.2 1157.7,179.2 1157.7,205.1 1170.8,205.1 1170.8,190.5 1172.7,190.6 1175.2,190.7 1178.3,190.8 1181.6,190.9 1185.1,191.1 1188.6,191.3 1191.9,191.6 1194.9,192 1197.6,192.5 1200.2,193 1202.8,193.7 1205.3,194.3 1207.8,195.1 1210.2,195.9 1212.5,196.7 1214.9,197.6 1217.2,198.5 1219.6,199.5 1221.9,200.6 1224.2,201.7 1226.4,202.8 1228.5,203.9 1230.6,205.1 1232.5,206.3 1234.3,207.5 1236,208.6 1237.6,209.8 1239.1,211 1240.6,212.3 1242.1,213.6 1243.5,215 1245,216.5 1246.6,218.2 1248.3,220.2 1250,222.4 1251.6,224.6 1253.2,226.7 1254.6,228.6 1255.8,230.2 1256.7,231.4 1256.7,252.9" fill="url(#hArmR)" stroke="none"/>
<polygon points="1286.4,252.9 1286.4,231.4 1285.7,230.6 1284.9,229.7 1283.9,228.5 1282.7,227.2 1281.5,225.8 1280.2,224.3 1278.8,222.8 1277.5,221.3 1276.1,219.8 1274.7,218.1 1273.2,216.4 1271.6,214.6 1270,212.8 1268.4,211 1266.7,209.3 1265,207.6 1263.3,206 1261.5,204.3 1259.7,202.7 1257.8,201.1 1255.9,199.5 1254,197.9 1252,196.4 1250,195 1247.9,193.6 1245.9,192.2 1243.7,190.9 1241.6,189.6 1239.4,188.4 1237.1,187.2 1234.8,186.1 1232.5,185 1230.1,184 1227.8,183.1 1225.4,182.3 1222.9,181.5 1220.4,180.7 1217.8,180 1215.2,179.4 1212.4,178.8 1209.6,178.3 1206.7,177.8 1203.7,177.4 1200.7,177 1197.5,176.7 1194.3,176.4 1190.9,176.1 1187.4,175.9 1183.5,175.7 1179,175.6 1174.3,175.5 1169.5,175.4 1165,175.4 1160.8,175.4 1157.4,175.3 1154.8,175.3 1154.8,179.2 1157.7,179.2 1157.7,205.1 1170.8,205.1 1170.8,190.5 1172.7,190.6 1175.2,190.7 1178.3,190.8 1181.6,190.9 1185.1,191.1 1188.6,191.3 1191.9,191.6 1194.9,192 1197.6,192.5 1200.2,193 1202.8,193.7 1205.3,194.3 1207.8,195.1 1210.2,195.9 1212.5,196.7 1214.9,197.6 1217.2,198.5 1219.6,199.5 1221.9,200.6 1224.2,201.7 1226.4,202.8 1228.5,203.9 1230.6,205.1 1232.5,206.3 1234.3,207.5 1236,208.6 1237.6,209.8 1239.1,211 1240.6,212.3 1242.1,213.6 1243.5,215 1245,216.5 1246.6,218.2 1248.3,220.2 1250,222.4 1251.6,224.6 1253.2,226.7 1254.6,228.6 1255.8,230.2 1256.7,231.4 1256.7,252.9" fill="none" stroke="#5a0a0a" stroke-width="1.2" stroke-linejoin="round" />
<polygon points="1170.8,393.9 1172.7,393.8 1175.2,393.7 1178.3,393.6 1181.6,393.5 1185.1,393.3 1188.6,393.1 1191.9,392.8 1194.9,392.4 1197.6,391.9 1200.2,391.4 1202.8,390.7 1205.3,390 1207.8,389.3 1210.2,388.5 1212.5,387.7 1214.9,386.8 1217.2,385.9 1219.6,384.9 1221.9,383.8 1224.2,382.7 1226.4,381.6 1228.5,380.5 1230.6,379.3 1232.5,378.1 1234.3,376.9 1236,375.8 1237.6,374.6 1239.1,373.4 1240.6,372.1 1242.1,370.8 1243.5,369.4 1245,367.9 1246.6,366.2 1248.3,364.2 1250,362 1251.6,359.8 1253.2,357.7 1254.6,355.8 1255.8,354.2 1256.7,353 1251.7,351.4 1250.9,352.4 1249.9,353.8 1248.7,355.5 1247.4,357.3 1246,359.2 1244.5,361.1 1243,362.9 1241.6,364.4 1240.2,365.8 1238.9,367 1237.5,368.2 1236.1,369.4 1234.6,370.5 1233,371.6 1231.4,372.7 1229.7,373.8 1227.9,374.9 1226,376 1224,377.1 1221.9,378.1 1219.8,379.2 1217.6,380.2 1215.4,381.1 1213.2,382 1211,382.8 1208.7,383.6 1206.5,384.4 1204.1,385.1 1201.8,385.8 1199.3,386.4 1196.8,386.9 1194.2,387.4 1191.3,387.8 1188.1,388.1 1184.7,388.3 1181.3,388.5 1178.1,388.6 1175.1,388.7 1172.6,388.8 1170.8,388.9" fill="#f0e2e2" stroke="none"/>
<polygon points="1170.8,393.9 1172.7,393.8 1175.2,393.7 1178.3,393.6 1181.6,393.5 1185.1,393.3 1188.6,393.1 1191.9,392.8 1194.9,392.4 1197.6,391.9 1200.2,391.4 1202.8,390.7 1205.3,390 1207.8,389.3 1210.2,388.5 1212.5,387.7 1214.9,386.8 1217.2,385.9 1219.6,384.9 1221.9,383.8 1224.2,382.7 1226.4,381.6 1228.5,380.5 1230.6,379.3 1232.5,378.1 1234.3,376.9 1236,375.8 1237.6,374.6 1239.1,373.4 1240.6,372.1 1242.1,370.8 1243.5,369.4 1245,367.9 1246.6,366.2 1248.3,364.2 1250,362 1251.6,359.8 1253.2,357.7 1254.6,355.8 1255.8,354.2 1256.7,353 1251.7,351.4 1250.9,352.4 1249.9,353.8 1248.7,355.5 1247.4,357.3 1246,359.2 1244.5,361.1 1243,362.9 1241.6,364.4 1240.2,365.8 1238.9,367 1237.5,368.2 1236.1,369.4 1234.6,370.5 1233,371.6 1231.4,372.7 1229.7,373.8 1227.9,374.9 1226,376 1224,377.1 1221.9,378.1 1219.8,379.2 1217.6,380.2 1215.4,381.1 1213.2,382 1211,382.8 1208.7,383.6 1206.5,384.4 1204.1,385.1 1201.8,385.8 1199.3,386.4 1196.8,386.9 1194.2,387.4 1191.3,387.8 1188.1,388.1 1184.7,388.3 1181.3,388.5 1178.1,388.6 1175.1,388.7 1172.6,388.8 1170.8,388.9" fill="none" stroke="#d4c2c2" stroke-width="0.7" stroke-linejoin="round" />
<polygon points="1222.5,403.1 1203.5,407.1 1203.5,390.5 1222.5,383.5" fill="#f5dede" stroke="none"/>
<polygon points="1222.5,403.1 1203.5,407.1 1203.5,390.5 1222.5,383.5" fill="none" stroke="#e0cccc" stroke-width="0.7" stroke-linejoin="round" />
<polygon points="1286.4,331.5 1286.4,353 1285.7,353.8 1284.9,354.7 1283.9,355.9 1282.7,357.2 1281.5,358.6 1280.2,360.1 1278.8,361.6 1277.5,363.1 1276.1,364.6 1274.7,366.3 1273.2,368 1271.6,369.8 1270,371.6 1268.4,373.4 1266.7,375.1 1265,376.8 1263.3,378.4 1261.5,380.1 1259.7,381.7 1257.8,383.3 1255.9,384.9 1254,386.5 1252,388 1250,389.4 1247.9,390.8 1245.9,392.2 1243.7,393.5 1241.6,394.8 1239.4,396 1237.1,397.2 1234.8,398.3 1232.5,399.4 1230.1,400.4 1227.8,401.3 1225.4,402.1 1222.9,402.9 1222.5,403.1 1222.5,383.5 1224.2,382.7 1226.4,381.6 1228.5,380.5 1230.6,379.3 1232.5,378.1 1234.3,376.9 1236,375.8 1237.6,374.6 1239.1,373.4 1240.6,372.1 1242.1,370.8 1243.5,369.4 1245,367.9 1246.6,366.2 1248.3,364.2 1250,362 1251.6,359.8 1253.2,357.7 1254.6,355.8 1255.8,354.2 1256.7,353 1256.7,331.5" fill="#fdcccc" stroke="none"/>
<polygon points="1286.4,331.5 1286.4,353 1285.7,353.8 1284.9,354.7 1283.9,355.9 1282.7,357.2 1281.5,358.6 1280.2,360.1 1278.8,361.6 1277.5,363.1 1276.1,364.6 1274.7,366.3 1273.2,368 1271.6,369.8 1270,371.6 1268.4,373.4 1266.7,375.1 1265,376.8 1263.3,378.4 1261.5,380.1 1259.7,381.7 1257.8,383.3 1255.9,384.9 1254,386.5 1252,388 1250,389.4 1247.9,390.8 1245.9,392.2 1243.7,393.5 1241.6,394.8 1239.4,396 1237.1,397.2 1234.8,398.3 1232.5,399.4 1230.1,400.4 1227.8,401.3 1225.4,402.1 1222.9,402.9 1222.5,403.1 1222.5,383.5 1224.2,382.7 1226.4,381.6 1228.5,380.5 1230.6,379.3 1232.5,378.1 1234.3,376.9 1236,375.8 1237.6,374.6 1239.1,373.4 1240.6,372.1 1242.1,370.8 1243.5,369.4 1245,367.9 1246.6,366.2 1248.3,364.2 1250,362 1251.6,359.8 1253.2,357.7 1254.6,355.8 1255.8,354.2 1256.7,353 1256.7,331.5" fill="url(#hArmR)" stroke="none"/>
<polygon points="1286.4,331.5 1286.4,353 1285.7,353.8 1284.9,354.7 1283.9,355.9 1282.7,357.2 1281.5,358.6 1280.2,360.1 1278.8,361.6 1277.5,363.1 1276.1,364.6 1274.7,366.3 1273.2,368 1271.6,369.8 1270,371.6 1268.4,373.4 1266.7,375.1 1265,376.8 1263.3,378.4 1261.5,380.1 1259.7,381.7 1257.8,383.3 1255.9,384.9 1254,386.5 1252,388 1250,389.4 1247.9,390.8 1245.9,392.2 1243.7,393.5 1241.6,394.8 1239.4,396 1237.1,397.2 1234.8,398.3 1232.5,399.4 1230.1,400.4 1227.8,401.3 1225.4,402.1 1222.9,402.9 1222.5,403.1 1222.5,383.5 1224.2,382.7 1226.4,381.6 1228.5,380.5 1230.6,379.3 1232.5,378.1 1234.3,376.9 1236,375.8 1237.6,374.6 1239.1,373.4 1240.6,372.1 1242.1,370.8 1243.5,369.4 1245,367.9 1246.6,366.2 1248.3,364.2 1250,362 1251.6,359.8 1253.2,357.7 1254.6,355.8 1255.8,354.2 1256.7,353 1256.7,331.5" fill="none" stroke="#5a0a0a" stroke-width="1.2" stroke-linejoin="round" />
<polygon points="1203.5,407.1 1200.7,407.4 1197.5,407.7 1194.3,408 1190.9,408.3 1187.4,408.5 1183.5,408.7 1179,408.8 1174.3,408.9 1169.5,409 1165,409 1160.8,409 1157.4,409.1 1154.8,409.1 1154.8,405.2 1157.7,405.2 1157.7,379.3 1170.8,379.3 1170.8,393.9 1172.7,393.8 1175.2,393.7 1178.3,393.6 1181.6,393.5 1185.1,393.3 1188.6,393.1 1191.9,392.8 1194.9,392.4 1197.6,391.9 1200.2,391.4 1202.8,390.7 1203.5,390.5" fill="#fdcccc" stroke="none"/>
<polygon points="1203.5,407.1 1200.7,407.4 1197.5,407.7 1194.3,408 1190.9,408.3 1187.4,408.5 1183.5,408.7 1179,408.8 1174.3,408.9 1169.5,409 1165,409 1160.8,409 1157.4,409.1 1154.8,409.1 1154.8,405.2 1157.7,405.2 1157.7,379.3 1170.8,379.3 1170.8,393.9 1172.7,393.8 1175.2,393.7 1178.3,393.6 1181.6,393.5 1185.1,393.3 1188.6,393.1 1191.9,392.8 1194.9,392.4 1197.6,391.9 1200.2,391.4 1202.8,390.7 1203.5,390.5" fill="url(#hArmR)" stroke="none"/>
<polygon points="1203.5,407.1 1200.7,407.4 1197.5,407.7 1194.3,408 1190.9,408.3 1187.4,408.5 1183.5,408.7 1179,408.8 1174.3,408.9 1169.5,409 1165,409 1160.8,409 1157.4,409.1 1154.8,409.1 1154.8,405.2 1157.7,405.2 1157.7,379.3 1170.8,379.3 1170.8,393.9 1172.7,393.8 1175.2,393.7 1178.3,393.6 1181.6,393.5 1185.1,393.3 1188.6,393.1 1191.9,392.8 1194.9,392.4 1197.6,391.9 1200.2,391.4 1202.8,390.7 1203.5,390.5" fill="none" stroke="#5a0a0a" stroke-width="1.2" stroke-linejoin="round" />
<rect x="382.4" y="160" width="584.6" height="132.2" fill="#d1c8c8" />
<rect x="382.4" y="292.2" width="584.6" height="132.2" fill="#e8dbdc" />
<polygon points="233.8,41.8 275.9,41.8 275.9,38 281.4,38 281.4,32 293.1,32 311.4,149 311.4,149 312.3,153.2 313.4,159.1 314.9,166.1 316.3,173.2 317.8,179.8 319,185 320,188.8 321,191.8 321.9,194.3 322.7,196.3 323.6,198.2 324.5,200 325.5,201.9 326.4,203.7 327.4,205.3 328.4,206.5 329.4,207.4 330.4,207.7 331.4,207.4 332.4,206.5 333.4,205.3 334.4,203.7 335.4,201.9 336.3,200 337.2,198.2 338,196.3 338.8,194.3 339.6,191.8 340.5,188.8 341.5,185 342.7,179.8 344.1,173.2 345.6,166.1 347,159.1 348.2,153.2 349,149 349,149 367.3,32 379,32 379,37 384.5,37 384.5,41.8 426.6,41.8 426.6,67.6 371.5,67.6 367.3,125 365.2,148.8 386.6,148.8 386.6,158.7 382.4,158.7 382.4,425.7 386.6,425.7 386.6,435.2 358,435.2 358,439.1 288.2,439.1 288.2,409.1 244.4,409.6 244.4,405.6 237.5,405.6 237.5,379.3 246.8,379.3 246.8,336.1 230.6,336.1 230.6,292.2 230.6,248.3 246.8,248.3 246.8,205.1 237.5,205.1 237.5,179.2 244.4,179.2 244.4,174.6 288.1,174.6 288.1,137.7 293.9,137.7 293.9,130 289.6,67.6 233.8,67.6" fill="#fdcccc" stroke="none"/>
<polygon points="233.8,41.8 275.9,41.8 275.9,38 281.4,38 281.4,32 293.1,32 311.4,149 311.4,149 312.3,153.2 313.4,159.1 314.9,166.1 316.3,173.2 317.8,179.8 319,185 320,188.8 321,191.8 321.9,194.3 322.7,196.3 323.6,198.2 324.5,200 325.5,201.9 326.4,203.7 327.4,205.3 328.4,206.5 329.4,207.4 330.4,207.7 331.4,207.4 332.4,206.5 333.4,205.3 334.4,203.7 335.4,201.9 336.3,200 337.2,198.2 338,196.3 338.8,194.3 339.6,191.8 340.5,188.8 341.5,185 342.7,179.8 344.1,173.2 345.6,166.1 347,159.1 348.2,153.2 349,149 349,149 367.3,32 379,32 379,37 384.5,37 384.5,41.8 426.6,41.8 426.6,67.6 371.5,67.6 367.3,125 365.2,148.8 386.6,148.8 386.6,158.7 382.4,158.7 382.4,425.7 386.6,425.7 386.6,435.2 358,435.2 358,439.1 288.2,439.1 288.2,409.1 244.4,409.6 244.4,405.6 237.5,405.6 237.5,379.3 246.8,379.3 246.8,336.1 230.6,336.1 230.6,292.2 230.6,248.3 246.8,248.3 246.8,205.1 237.5,205.1 237.5,179.2 244.4,179.2 244.4,174.6 288.1,174.6 288.1,137.7 293.9,137.7 293.9,130 289.6,67.6 233.8,67.6" fill="url(#hIn)" stroke="none"/>
<polygon points="233.8,41.8 275.9,41.8 275.9,38 281.4,38 281.4,32 293.1,32 311.4,149 311.4,149 312.3,153.2 313.4,159.1 314.9,166.1 316.3,173.2 317.8,179.8 319,185 320,188.8 321,191.8 321.9,194.3 322.7,196.3 323.6,198.2 324.5,200 325.5,201.9 326.4,203.7 327.4,205.3 328.4,206.5 329.4,207.4 330.4,207.7 331.4,207.4 332.4,206.5 333.4,205.3 334.4,203.7 335.4,201.9 336.3,200 337.2,198.2 338,196.3 338.8,194.3 339.6,191.8 340.5,188.8 341.5,185 342.7,179.8 344.1,173.2 345.6,166.1 347,159.1 348.2,153.2 349,149 349,149 367.3,32 379,32 379,37 384.5,37 384.5,41.8 426.6,41.8 426.6,67.6 371.5,67.6 367.3,125 365.2,148.8 386.6,148.8 386.6,158.7 382.4,158.7 382.4,425.7 386.6,425.7 386.6,435.2 358,435.2 358,439.1 288.2,439.1 288.2,409.1 244.4,409.6 244.4,405.6 237.5,405.6 237.5,379.3 246.8,379.3 246.8,336.1 230.6,336.1 230.6,292.2 230.6,248.3 246.8,248.3 246.8,205.1 237.5,205.1 237.5,179.2 244.4,179.2 244.4,174.6 288.1,174.6 288.1,137.7 293.9,137.7 293.9,130 289.6,67.6 233.8,67.6" fill="none" stroke="#5a0a0a" stroke-width="1.2" stroke-linejoin="round" />
<polygon points="293.1,32 311.4,149 311.4,149 312.3,153.2 313.4,159.1 314.9,166.1 316.3,173.2 317.8,179.8 319,185 320,188.8 321,191.8 321.9,194.3 322.7,196.3 323.6,198.2 324.5,200 325.5,201.9 326.4,203.7 327.4,205.3 328.4,206.5 329.4,207.4 330.4,207.7 331.4,207.4 332.4,206.5 333.4,205.3 334.4,203.7 335.4,201.9 336.3,200 337.2,198.2 338,196.3 338.8,194.3 339.6,191.8 340.5,188.8 341.5,185 342.7,179.8 344.1,173.2 345.6,166.1 347,159.1 348.2,153.2 349,149 349,149 367.3,32" fill="url(#gBore)" stroke="none"/>
<polygon points="293.1,32 311.4,149 311.4,149 312.3,153.2 313.4,159.1 314.9,166.1 316.3,173.2 317.8,179.8 319,185 320,188.8 321,191.8 321.9,194.3 322.7,196.3 323.6,198.2 324.5,200 325.5,201.9 326.4,203.7 327.4,205.3 328.4,206.5 329.4,207.4 330.4,207.7 331.4,207.4 332.4,206.5 333.4,205.3 334.4,203.7 335.4,201.9 336.3,200 337.2,198.2 338,196.3 338.8,194.3 339.6,191.8 340.5,188.8 341.5,185 342.7,179.8 344.1,173.2 345.6,166.1 347,159.1 348.2,153.2 349,149 349,149 367.3,32" fill="none" stroke="#5a0a0a" stroke-width="1.1" stroke-linejoin="round" />
<path d="M293.1 32 Q330 29 367.3 32" fill="#f7eaea" stroke="#d8c4c4" stroke-width="0.8"/>
<polygon points="253.8,186.9 290.2,186.9 290.2,240.9 256.2,240.9 256.2,244 246.8,244 246.8,215 253.8,215" fill="#d1c8c8" stroke="none"/>
<polygon points="253.8,186.9 290.2,186.9 290.2,240.9 256.2,240.9 256.2,244 246.8,244 246.8,215 253.8,215" fill="none" stroke="#5a0a0a" stroke-width="1.2" stroke-linejoin="round" />
<polygon points="253.8,397.5 290.2,397.5 290.2,343.5 256.2,343.5 256.2,340.4 246.8,340.4 246.8,369.4 253.8,369.4" fill="#e8dbdc" stroke="none"/>
<polygon points="253.8,397.5 290.2,397.5 290.2,343.5 256.2,343.5 256.2,340.4 246.8,340.4 246.8,369.4 253.8,369.4" fill="none" stroke="#5a0a0a" stroke-width="1.2" stroke-linejoin="round" />
<polygon points="316.7,210.3 349.3,210.3 349.3,233.6 357,233.6 357,230.7 363.8,230.7 363.8,194.1 382.4,194.1 382.4,196 383.3,196 383.3,292.2 316.7,292.2" fill="#d1c8c8" stroke="none"/>
<polygon points="316.7,374.1 349.3,374.1 349.3,350.8 357,350.8 357,353.7 363.8,353.7 363.8,390.3 382.4,390.3 382.4,388.4 383.3,388.4 383.3,292.2 316.7,292.2" fill="#e8dbdc" stroke="none"/>
<polyline points="382.4,194.1 363.8,194.1 363.8,230.7 357,230.7 357,233.6 349.3,233.6 349.3,210.3 316.7,210.3 316.7,270" fill="none" stroke="#5a0a0a" stroke-width="1.25" stroke-linejoin="round"/>
<polyline points="382.4,390.3 363.8,390.3 363.8,353.7 357,353.7 357,350.8 349.3,350.8 349.3,374.1 316.7,374.1 316.7,314.4" fill="none" stroke="#5a0a0a" stroke-width="1.25" stroke-linejoin="round"/>
<path d="M259.5 240.5 A13.5 13.5 0 0 1 286.5 240.5 Z" fill="#ddd3d3" stroke="#c9b9b9" stroke-width="0.8"/>
<rect x="254.4" y="212.5" width="14" height="13.1" fill="#eceaea" />
<rect x="254.4" y="212.5" width="14" height="13.1" fill="none" stroke="#d5d0d0" stroke-width="0.7"/>
<rect x="254.4" y="351.8" width="14" height="13.8" fill="#efeded" />
<rect x="254.4" y="351.8" width="14" height="13.8" fill="none" stroke="#d5d0d0" stroke-width="0.7"/>
<ellipse cx="273" cy="344.2" rx="7" ry="2.5" fill="#f6f0f0"/>
<circle cx="328.2" cy="330.3" r="7" fill="#d9d5d6" stroke="#c5bcbc" stroke-width="0.8"/>
<rect x="308.5" y="397.8" width="73.7" height="3.1" fill="#d8d4d8" />
<rect x="308.5" y="397.8" width="73.7" height="3.1" fill="none" stroke="#8a7a7a" stroke-width="0.8"/>
<rect x="372.5" y="400.9" width="9.9" height="16.9" fill="#e8dbdc" />
<rect x="372.5" y="400.9" width="9.9" height="16.9" fill="none" stroke="#5a0a0a" stroke-width="1"/>
<polygon points="387.5,147 443,147 443,158.2 437.9,158.2 437.9,194.6 436.3,194.6 436.3,241.3 417.3,241.3 417.3,237.4 418.9,237.4 418.9,171.8 418.9,171.8 418.6,169.9 417.8,168.3 416.4,166.9 414.8,166.1 412.9,165.8 382.4,165.8 382.4,158.2 387.5,158.2" fill="#fdcccc" stroke="none"/>
<polygon points="387.5,147 443,147 443,158.2 437.9,158.2 437.9,194.6 436.3,194.6 436.3,241.3 417.3,241.3 417.3,237.4 418.9,237.4 418.9,171.8 418.9,171.8 418.6,169.9 417.8,168.3 416.4,166.9 414.8,166.1 412.9,165.8 382.4,165.8 382.4,158.2 387.5,158.2" fill="url(#hSt0)" stroke="none"/>
<polygon points="387.5,147 443,147 443,158.2 437.9,158.2 437.9,194.6 436.3,194.6 436.3,241.3 417.3,241.3 417.3,237.4 418.9,237.4 418.9,171.8 418.9,171.8 418.6,169.9 417.8,168.3 416.4,166.9 414.8,166.1 412.9,165.8 382.4,165.8 382.4,158.2 387.5,158.2" fill="none" stroke="#5a0a0a" stroke-width="1.2" stroke-linejoin="round" />
<polygon points="387.5,437.4 443,437.4 443,426.2 437.9,426.2 437.9,389.8 436.3,389.8 436.3,343.1 417.3,343.1 417.3,347 418.9,347 418.9,412.6 418.9,412.6 418.6,414.5 417.8,416.1 416.4,417.5 414.8,418.3 412.9,418.6 382.4,418.6 382.4,426.2 387.5,426.2" fill="#fdcccc" stroke="none"/>
<polygon points="387.5,437.4 443,437.4 443,426.2 437.9,426.2 437.9,389.8 436.3,389.8 436.3,343.1 417.3,343.1 417.3,347 418.9,347 418.9,412.6 418.9,412.6 418.6,414.5 417.8,416.1 416.4,417.5 414.8,418.3 412.9,418.6 382.4,418.6 382.4,426.2 387.5,426.2" fill="url(#hSt0)" stroke="none"/>
<polygon points="387.5,437.4 443,437.4 443,426.2 437.9,426.2 437.9,389.8 436.3,389.8 436.3,343.1 417.3,343.1 417.3,347 418.9,347 418.9,412.6 418.9,412.6 418.6,414.5 417.8,416.1 416.4,417.5 414.8,418.3 412.9,418.6 382.4,418.6 382.4,426.2 387.5,426.2" fill="none" stroke="#5a0a0a" stroke-width="1.2" stroke-linejoin="round" />
<polygon points="443,147 498.6,147 498.6,158.2 493.5,158.2 493.5,194.6 491.8,194.6 491.8,241.3 472.8,241.3 472.8,237.4 474.4,237.4 474.4,171.8 474.4,171.8 474.1,169.9 473.3,168.3 472,166.9 470.3,166.1 468.4,165.8 437.9,165.8 437.9,158.2 443,158.2" fill="#fdcccc" stroke="none"/>
<polygon points="443,147 498.6,147 498.6,158.2 493.5,158.2 493.5,194.6 491.8,194.6 491.8,241.3 472.8,241.3 472.8,237.4 474.4,237.4 474.4,171.8 474.4,171.8 474.1,169.9 473.3,168.3 472,166.9 470.3,166.1 468.4,165.8 437.9,165.8 437.9,158.2 443,158.2" fill="url(#hSt1)" stroke="none"/>
<polygon points="443,147 498.6,147 498.6,158.2 493.5,158.2 493.5,194.6 491.8,194.6 491.8,241.3 472.8,241.3 472.8,237.4 474.4,237.4 474.4,171.8 474.4,171.8 474.1,169.9 473.3,168.3 472,166.9 470.3,166.1 468.4,165.8 437.9,165.8 437.9,158.2 443,158.2" fill="none" stroke="#5a0a0a" stroke-width="1.2" stroke-linejoin="round" />
<polygon points="443,437.4 498.6,437.4 498.6,426.2 493.5,426.2 493.5,389.8 491.8,389.8 491.8,343.1 472.8,343.1 472.8,347 474.4,347 474.4,412.6 474.4,412.6 474.1,414.5 473.3,416.1 472,417.5 470.3,418.3 468.4,418.6 437.9,418.6 437.9,426.2 443,426.2" fill="#fdcccc" stroke="none"/>
<polygon points="443,437.4 498.6,437.4 498.6,426.2 493.5,426.2 493.5,389.8 491.8,389.8 491.8,343.1 472.8,343.1 472.8,347 474.4,347 474.4,412.6 474.4,412.6 474.1,414.5 473.3,416.1 472,417.5 470.3,418.3 468.4,418.6 437.9,418.6 437.9,426.2 443,426.2" fill="url(#hSt1)" stroke="none"/>
<polygon points="443,437.4 498.6,437.4 498.6,426.2 493.5,426.2 493.5,389.8 491.8,389.8 491.8,343.1 472.8,343.1 472.8,347 474.4,347 474.4,412.6 474.4,412.6 474.1,414.5 473.3,416.1 472,417.5 470.3,418.3 468.4,418.6 437.9,418.6 437.9,426.2 443,426.2" fill="none" stroke="#5a0a0a" stroke-width="1.2" stroke-linejoin="round" />
<polygon points="498.6,147 554.1,147 554.1,158.2 549,158.2 549,194.6 547.4,194.6 547.4,241.3 528.4,241.3 528.4,237.4 530,237.4 530,171.8 530,171.8 529.7,169.9 528.8,168.3 527.5,166.9 525.8,166.1 524,165.8 493.5,165.8 493.5,158.2 498.6,158.2" fill="#fdcccc" stroke="none"/>
<polygon points="498.6,147 554.1,147 554.1,158.2 549,158.2 549,194.6 547.4,194.6 547.4,241.3 528.4,241.3 528.4,237.4 530,237.4 530,171.8 530,171.8 529.7,169.9 528.8,168.3 527.5,166.9 525.8,166.1 524,165.8 493.5,165.8 493.5,158.2 498.6,158.2" fill="url(#hSt2)" stroke="none"/>
<polygon points="498.6,147 554.1,147 554.1,158.2 549,158.2 549,194.6 547.4,194.6 547.4,241.3 528.4,241.3 528.4,237.4 530,237.4 530,171.8 530,171.8 529.7,169.9 528.8,168.3 527.5,166.9 525.8,166.1 524,165.8 493.5,165.8 493.5,158.2 498.6,158.2" fill="none" stroke="#5a0a0a" stroke-width="1.2" stroke-linejoin="round" />
<polygon points="498.6,437.4 554.1,437.4 554.1,426.2 549,426.2 549,389.8 547.4,389.8 547.4,343.1 528.4,343.1 528.4,347 530,347 530,412.6 530,412.6 529.7,414.5 528.8,416.1 527.5,417.5 525.8,418.3 524,418.6 493.5,418.6 493.5,426.2 498.6,426.2" fill="#fdcccc" stroke="none"/>
<polygon points="498.6,437.4 554.1,437.4 554.1,426.2 549,426.2 549,389.8 547.4,389.8 547.4,343.1 528.4,343.1 528.4,347 530,347 530,412.6 530,412.6 529.7,414.5 528.8,416.1 527.5,417.5 525.8,418.3 524,418.6 493.5,418.6 493.5,426.2 498.6,426.2" fill="url(#hSt2)" stroke="none"/>
<polygon points="498.6,437.4 554.1,437.4 554.1,426.2 549,426.2 549,389.8 547.4,389.8 547.4,343.1 528.4,343.1 528.4,347 530,347 530,412.6 530,412.6 529.7,414.5 528.8,416.1 527.5,417.5 525.8,418.3 524,418.6 493.5,418.6 493.5,426.2 498.6,426.2" fill="none" stroke="#5a0a0a" stroke-width="1.2" stroke-linejoin="round" />
<polygon points="554.1,147 609.6,147 609.6,158.2 604.5,158.2 604.5,194.6 602.9,194.6 602.9,241.3 583.9,241.3 583.9,237.4 585.5,237.4 585.5,171.8 585.5,171.8 585.2,169.9 584.3,168.3 583,166.9 581.3,166.1 579.5,165.8 549,165.8 549,158.2 554.1,158.2" fill="#fdcccc" stroke="none"/>
<polygon points="554.1,147 609.6,147 609.6,158.2 604.5,158.2 604.5,194.6 602.9,194.6 602.9,241.3 583.9,241.3 583.9,237.4 585.5,237.4 585.5,171.8 585.5,171.8 585.2,169.9 584.3,168.3 583,166.9 581.3,166.1 579.5,165.8 549,165.8 549,158.2 554.1,158.2" fill="url(#hSt3)" stroke="none"/>
<polygon points="554.1,147 609.6,147 609.6,158.2 604.5,158.2 604.5,194.6 602.9,194.6 602.9,241.3 583.9,241.3 583.9,237.4 585.5,237.4 585.5,171.8 585.5,171.8 585.2,169.9 584.3,168.3 583,166.9 581.3,166.1 579.5,165.8 549,165.8 549,158.2 554.1,158.2" fill="none" stroke="#5a0a0a" stroke-width="1.2" stroke-linejoin="round" />
<polygon points="554.1,437.4 609.6,437.4 609.6,426.2 604.5,426.2 604.5,389.8 602.9,389.8 602.9,343.1 583.9,343.1 583.9,347 585.5,347 585.5,412.6 585.5,412.6 585.2,414.5 584.3,416.1 583,417.5 581.3,418.3 579.5,418.6 549,418.6 549,426.2 554.1,426.2" fill="#fdcccc" stroke="none"/>
<polygon points="554.1,437.4 609.6,437.4 609.6,426.2 604.5,426.2 604.5,389.8 602.9,389.8 602.9,343.1 583.9,343.1 583.9,347 585.5,347 585.5,412.6 585.5,412.6 585.2,414.5 584.3,416.1 583,417.5 581.3,418.3 579.5,418.6 549,418.6 549,426.2 554.1,426.2" fill="url(#hSt3)" stroke="none"/>
<polygon points="554.1,437.4 609.6,437.4 609.6,426.2 604.5,426.2 604.5,389.8 602.9,389.8 602.9,343.1 583.9,343.1 583.9,347 585.5,347 585.5,412.6 585.5,412.6 585.2,414.5 584.3,416.1 583,417.5 581.3,418.3 579.5,418.6 549,418.6 549,426.2 554.1,426.2" fill="none" stroke="#5a0a0a" stroke-width="1.2" stroke-linejoin="round" />
<polygon points="609.6,147 665.1,147 665.1,158.2 660,158.2 660,194.6 658.4,194.6 658.4,241.3 639.4,241.3 639.4,237.4 641,237.4 641,171.8 641,171.8 640.7,169.9 639.9,168.3 638.5,166.9 636.9,166.1 635,165.8 604.5,165.8 604.5,158.2 609.6,158.2" fill="#fdcccc" stroke="none"/>
<polygon points="609.6,147 665.1,147 665.1,158.2 660,158.2 660,194.6 658.4,194.6 658.4,241.3 639.4,241.3 639.4,237.4 641,237.4 641,171.8 641,171.8 640.7,169.9 639.9,168.3 638.5,166.9 636.9,166.1 635,165.8 604.5,165.8 604.5,158.2 609.6,158.2" fill="url(#hSt4)" stroke="none"/>
<polygon points="609.6,147 665.1,147 665.1,158.2 660,158.2 660,194.6 658.4,194.6 658.4,241.3 639.4,241.3 639.4,237.4 641,237.4 641,171.8 641,171.8 640.7,169.9 639.9,168.3 638.5,166.9 636.9,166.1 635,165.8 604.5,165.8 604.5,158.2 609.6,158.2" fill="none" stroke="#5a0a0a" stroke-width="1.2" stroke-linejoin="round" />
<polygon points="609.6,437.4 665.1,437.4 665.1,426.2 660,426.2 660,389.8 658.4,389.8 658.4,343.1 639.4,343.1 639.4,347 641,347 641,412.6 641,412.6 640.7,414.5 639.9,416.1 638.5,417.5 636.9,418.3 635,418.6 604.5,418.6 604.5,426.2 609.6,426.2" fill="#fdcccc" stroke="none"/>
<polygon points="609.6,437.4 665.1,437.4 665.1,426.2 660,426.2 660,389.8 658.4,389.8 658.4,343.1 639.4,343.1 639.4,347 641,347 641,412.6 641,412.6 640.7,414.5 639.9,416.1 638.5,417.5 636.9,418.3 635,418.6 604.5,418.6 604.5,426.2 609.6,426.2" fill="url(#hSt4)" stroke="none"/>
<polygon points="609.6,437.4 665.1,437.4 665.1,426.2 660,426.2 660,389.8 658.4,389.8 658.4,343.1 639.4,343.1 639.4,347 641,347 641,412.6 641,412.6 640.7,414.5 639.9,416.1 638.5,417.5 636.9,418.3 635,418.6 604.5,418.6 604.5,426.2 609.6,426.2" fill="none" stroke="#5a0a0a" stroke-width="1.2" stroke-linejoin="round" />
<polygon points="665.1,147 720.7,147 720.7,158.2 715.6,158.2 715.6,194.6 713.9,194.6 713.9,241.3 694.9,241.3 694.9,237.4 696.5,237.4 696.5,171.8 696.5,171.8 696.3,169.9 695.4,168.3 694.1,166.9 692.4,166.1 690.5,165.8 660,165.8 660,158.2 665.1,158.2" fill="#fdcccc" stroke="none"/>
<polygon points="665.1,147 720.7,147 720.7,158.2 715.6,158.2 715.6,194.6 713.9,194.6 713.9,241.3 694.9,241.3 694.9,237.4 696.5,237.4 696.5,171.8 696.5,171.8 696.3,169.9 695.4,168.3 694.1,166.9 692.4,166.1 690.5,165.8 660,165.8 660,158.2 665.1,158.2" fill="url(#hSt5)" stroke="none"/>
<polygon points="665.1,147 720.7,147 720.7,158.2 715.6,158.2 715.6,194.6 713.9,194.6 713.9,241.3 694.9,241.3 694.9,237.4 696.5,237.4 696.5,171.8 696.5,171.8 696.3,169.9 695.4,168.3 694.1,166.9 692.4,166.1 690.5,165.8 660,165.8 660,158.2 665.1,158.2" fill="none" stroke="#5a0a0a" stroke-width="1.2" stroke-linejoin="round" />
<polygon points="665.1,437.4 720.7,437.4 720.7,426.2 715.6,426.2 715.6,389.8 713.9,389.8 713.9,343.1 694.9,343.1 694.9,347 696.5,347 696.5,412.6 696.5,412.6 696.3,414.5 695.4,416.1 694.1,417.5 692.4,418.3 690.5,418.6 660,418.6 660,426.2 665.1,426.2" fill="#fdcccc" stroke="none"/>
<polygon points="665.1,437.4 720.7,437.4 720.7,426.2 715.6,426.2 715.6,389.8 713.9,389.8 713.9,343.1 694.9,343.1 694.9,347 696.5,347 696.5,412.6 696.5,412.6 696.3,414.5 695.4,416.1 694.1,417.5 692.4,418.3 690.5,418.6 660,418.6 660,426.2 665.1,426.2" fill="url(#hSt5)" stroke="none"/>
<polygon points="665.1,437.4 720.7,437.4 720.7,426.2 715.6,426.2 715.6,389.8 713.9,389.8 713.9,343.1 694.9,343.1 694.9,347 696.5,347 696.5,412.6 696.5,412.6 696.3,414.5 695.4,416.1 694.1,417.5 692.4,418.3 690.5,418.6 660,418.6 660,426.2 665.1,426.2" fill="none" stroke="#5a0a0a" stroke-width="1.2" stroke-linejoin="round" />
<polygon points="720.7,147 776.2,147 776.2,158.2 771.1,158.2 771.1,194.6 769.5,194.6 769.5,241.3 750.5,241.3 750.5,237.4 752.1,237.4 752.1,171.8 752.1,171.8 751.8,169.9 750.9,168.3 749.6,166.9 747.9,166.1 746.1,165.8 715.6,165.8 715.6,158.2 720.7,158.2" fill="#fdcccc" stroke="none"/>
<polygon points="720.7,147 776.2,147 776.2,158.2 771.1,158.2 771.1,194.6 769.5,194.6 769.5,241.3 750.5,241.3 750.5,237.4 752.1,237.4 752.1,171.8 752.1,171.8 751.8,169.9 750.9,168.3 749.6,166.9 747.9,166.1 746.1,165.8 715.6,165.8 715.6,158.2 720.7,158.2" fill="url(#hSt6)" stroke="none"/>
<polygon points="720.7,147 776.2,147 776.2,158.2 771.1,158.2 771.1,194.6 769.5,194.6 769.5,241.3 750.5,241.3 750.5,237.4 752.1,237.4 752.1,171.8 752.1,171.8 751.8,169.9 750.9,168.3 749.6,166.9 747.9,166.1 746.1,165.8 715.6,165.8 715.6,158.2 720.7,158.2" fill="none" stroke="#5a0a0a" stroke-width="1.2" stroke-linejoin="round" />
<polygon points="720.7,437.4 776.2,437.4 776.2,426.2 771.1,426.2 771.1,389.8 769.5,389.8 769.5,343.1 750.5,343.1 750.5,347 752.1,347 752.1,412.6 752.1,412.6 751.8,414.5 750.9,416.1 749.6,417.5 747.9,418.3 746.1,418.6 715.6,418.6 715.6,426.2 720.7,426.2" fill="#fdcccc" stroke="none"/>
<polygon points="720.7,437.4 776.2,437.4 776.2,426.2 771.1,426.2 771.1,389.8 769.5,389.8 769.5,343.1 750.5,343.1 750.5,347 752.1,347 752.1,412.6 752.1,412.6 751.8,414.5 750.9,416.1 749.6,417.5 747.9,418.3 746.1,418.6 715.6,418.6 715.6,426.2 720.7,426.2" fill="url(#hSt6)" stroke="none"/>
<polygon points="720.7,437.4 776.2,437.4 776.2,426.2 771.1,426.2 771.1,389.8 769.5,389.8 769.5,343.1 750.5,343.1 750.5,347 752.1,347 752.1,412.6 752.1,412.6 751.8,414.5 750.9,416.1 749.6,417.5 747.9,418.3 746.1,418.6 715.6,418.6 715.6,426.2 720.7,426.2" fill="none" stroke="#5a0a0a" stroke-width="1.2" stroke-linejoin="round" />
<polygon points="776.2,147 831.7,147 831.7,158.2 826.6,158.2 826.6,194.6 825,194.6 825,241.3 806,241.3 806,237.4 807.6,237.4 807.6,171.8 807.6,171.8 807.3,169.9 806.5,168.3 805.1,166.9 803.5,166.1 801.6,165.8 771.1,165.8 771.1,158.2 776.2,158.2" fill="#fdcccc" stroke="none"/>
<polygon points="776.2,147 831.7,147 831.7,158.2 826.6,158.2 826.6,194.6 825,194.6 825,241.3 806,241.3 806,237.4 807.6,237.4 807.6,171.8 807.6,171.8 807.3,169.9 806.5,168.3 805.1,166.9 803.5,166.1 801.6,165.8 771.1,165.8 771.1,158.2 776.2,158.2" fill="url(#hSt7)" stroke="none"/>
<polygon points="776.2,147 831.7,147 831.7,158.2 826.6,158.2 826.6,194.6 825,194.6 825,241.3 806,241.3 806,237.4 807.6,237.4 807.6,171.8 807.6,171.8 807.3,169.9 806.5,168.3 805.1,166.9 803.5,166.1 801.6,165.8 771.1,165.8 771.1,158.2 776.2,158.2" fill="none" stroke="#5a0a0a" stroke-width="1.2" stroke-linejoin="round" />
<polygon points="776.2,437.4 831.7,437.4 831.7,426.2 826.6,426.2 826.6,389.8 825,389.8 825,343.1 806,343.1 806,347 807.6,347 807.6,412.6 807.6,412.6 807.3,414.5 806.5,416.1 805.1,417.5 803.5,418.3 801.6,418.6 771.1,418.6 771.1,426.2 776.2,426.2" fill="#fdcccc" stroke="none"/>
<polygon points="776.2,437.4 831.7,437.4 831.7,426.2 826.6,426.2 826.6,389.8 825,389.8 825,343.1 806,343.1 806,347 807.6,347 807.6,412.6 807.6,412.6 807.3,414.5 806.5,416.1 805.1,417.5 803.5,418.3 801.6,418.6 771.1,418.6 771.1,426.2 776.2,426.2" fill="url(#hSt7)" stroke="none"/>
<polygon points="776.2,437.4 831.7,437.4 831.7,426.2 826.6,426.2 826.6,389.8 825,389.8 825,343.1 806,343.1 806,347 807.6,347 807.6,412.6 807.6,412.6 807.3,414.5 806.5,416.1 805.1,417.5 803.5,418.3 801.6,418.6 771.1,418.6 771.1,426.2 776.2,426.2" fill="none" stroke="#5a0a0a" stroke-width="1.2" stroke-linejoin="round" />
<polygon points="831.7,147 887.3,147 887.3,158.2 882.2,158.2 882.2,194.6 880.5,194.6 880.5,241.3 861.5,241.3 861.5,237.4 863.1,237.4 863.1,171.8 863.1,171.8 862.8,169.9 862,168.3 860.7,166.9 859,166.1 857.1,165.8 826.6,165.8 826.6,158.2 831.7,158.2" fill="#fdcccc" stroke="none"/>
<polygon points="831.7,147 887.3,147 887.3,158.2 882.2,158.2 882.2,194.6 880.5,194.6 880.5,241.3 861.5,241.3 861.5,237.4 863.1,237.4 863.1,171.8 863.1,171.8 862.8,169.9 862,168.3 860.7,166.9 859,166.1 857.1,165.8 826.6,165.8 826.6,158.2 831.7,158.2" fill="url(#hSt8)" stroke="none"/>
<polygon points="831.7,147 887.3,147 887.3,158.2 882.2,158.2 882.2,194.6 880.5,194.6 880.5,241.3 861.5,241.3 861.5,237.4 863.1,237.4 863.1,171.8 863.1,171.8 862.8,169.9 862,168.3 860.7,166.9 859,166.1 857.1,165.8 826.6,165.8 826.6,158.2 831.7,158.2" fill="none" stroke="#5a0a0a" stroke-width="1.2" stroke-linejoin="round" />
<polygon points="831.7,437.4 887.3,437.4 887.3,426.2 882.2,426.2 882.2,389.8 880.5,389.8 880.5,343.1 861.5,343.1 861.5,347 863.1,347 863.1,412.6 863.1,412.6 862.8,414.5 862,416.1 860.7,417.5 859,418.3 857.1,418.6 826.6,418.6 826.6,426.2 831.7,426.2" fill="#fdcccc" stroke="none"/>
<polygon points="831.7,437.4 887.3,437.4 887.3,426.2 882.2,426.2 882.2,389.8 880.5,389.8 880.5,343.1 861.5,343.1 861.5,347 863.1,347 863.1,412.6 863.1,412.6 862.8,414.5 862,416.1 860.7,417.5 859,418.3 857.1,418.6 826.6,418.6 826.6,426.2 831.7,426.2" fill="url(#hSt8)" stroke="none"/>
<polygon points="831.7,437.4 887.3,437.4 887.3,426.2 882.2,426.2 882.2,389.8 880.5,389.8 880.5,343.1 861.5,343.1 861.5,347 863.1,347 863.1,412.6 863.1,412.6 862.8,414.5 862,416.1 860.7,417.5 859,418.3 857.1,418.6 826.6,418.6 826.6,426.2 831.7,426.2" fill="none" stroke="#5a0a0a" stroke-width="1.2" stroke-linejoin="round" />
<polygon points="887.3,147 942.8,147 942.8,158.2 937.7,158.2 937.7,194.6 936.1,194.6 936.1,241.3 917.1,241.3 917.1,237.4 918.7,237.4 918.7,171.8 918.7,171.8 918.4,169.9 917.5,168.3 916.2,166.9 914.5,166.1 912.7,165.8 882.2,165.8 882.2,158.2 887.3,158.2" fill="#fdcccc" stroke="none"/>
<polygon points="887.3,147 942.8,147 942.8,158.2 937.7,158.2 937.7,194.6 936.1,194.6 936.1,241.3 917.1,241.3 917.1,237.4 918.7,237.4 918.7,171.8 918.7,171.8 918.4,169.9 917.5,168.3 916.2,166.9 914.5,166.1 912.7,165.8 882.2,165.8 882.2,158.2 887.3,158.2" fill="url(#hSt9)" stroke="none"/>
<polygon points="887.3,147 942.8,147 942.8,158.2 937.7,158.2 937.7,194.6 936.1,194.6 936.1,241.3 917.1,241.3 917.1,237.4 918.7,237.4 918.7,171.8 918.7,171.8 918.4,169.9 917.5,168.3 916.2,166.9 914.5,166.1 912.7,165.8 882.2,165.8 882.2,158.2 887.3,158.2" fill="none" stroke="#5a0a0a" stroke-width="1.2" stroke-linejoin="round" />
<polygon points="887.3,437.4 942.8,437.4 942.8,426.2 937.7,426.2 937.7,389.8 936.1,389.8 936.1,343.1 917.1,343.1 917.1,347 918.7,347 918.7,412.6 918.7,412.6 918.4,414.5 917.5,416.1 916.2,417.5 914.5,418.3 912.7,418.6 882.2,418.6 882.2,426.2 887.3,426.2" fill="#fdcccc" stroke="none"/>
<polygon points="887.3,437.4 942.8,437.4 942.8,426.2 937.7,426.2 937.7,389.8 936.1,389.8 936.1,343.1 917.1,343.1 917.1,347 918.7,347 918.7,412.6 918.7,412.6 918.4,414.5 917.5,416.1 916.2,417.5 914.5,418.3 912.7,418.6 882.2,418.6 882.2,426.2 887.3,426.2" fill="url(#hSt9)" stroke="none"/>
<polygon points="887.3,437.4 942.8,437.4 942.8,426.2 937.7,426.2 937.7,389.8 936.1,389.8 936.1,343.1 917.1,343.1 917.1,347 918.7,347 918.7,412.6 918.7,412.6 918.4,414.5 917.5,416.1 916.2,417.5 914.5,418.3 912.7,418.6 882.2,418.6 882.2,426.2 887.3,426.2" fill="none" stroke="#5a0a0a" stroke-width="1.2" stroke-linejoin="round" />
<path d="M408.8 436.6 V443 Q408.8 446.6 412.3 446.6 H419.4 Q422.9 446.6 422.9 443 V436.6" fill="#fdcccc" stroke="none" />
<path d="M408.8 436.6 V443 Q408.8 446.6 412.3 446.6 H419.4 Q422.9 446.6 422.9 443 V436.6" fill="url(#hSt0)" stroke="none"/>
<path d="M408.8 436.6 V443 Q408.8 446.6 412.3 446.6 H419.4 Q422.9 446.6 422.9 443 V436.6" fill="none" stroke="#5a0a0a" stroke-width="1.2" stroke-linejoin="round"/>
<line x1="409.5" y1="437.2" x2="422.2" y2="437.2" stroke="#fdcccc" stroke-width="1.6"/>
<path d="M464.3 436.6 V443 Q464.3 446.6 467.8 446.6 H474.9 Q478.4 446.6 478.4 443 V436.6" fill="#fdcccc" stroke="none" />
<path d="M464.3 436.6 V443 Q464.3 446.6 467.8 446.6 H474.9 Q478.4 446.6 478.4 443 V436.6" fill="url(#hSt1)" stroke="none"/>
<path d="M464.3 436.6 V443 Q464.3 446.6 467.8 446.6 H474.9 Q478.4 446.6 478.4 443 V436.6" fill="none" stroke="#5a0a0a" stroke-width="1.2" stroke-linejoin="round"/>
<line x1="465" y1="437.2" x2="477.7" y2="437.2" stroke="#fdcccc" stroke-width="1.6"/>
<path d="M519.9 436.6 V443 Q519.9 446.6 523.4 446.6 H530.5 Q534 446.6 534 443 V436.6" fill="#fdcccc" stroke="none" />
<path d="M519.9 436.6 V443 Q519.9 446.6 523.4 446.6 H530.5 Q534 446.6 534 443 V436.6" fill="url(#hSt2)" stroke="none"/>
<path d="M519.9 436.6 V443 Q519.9 446.6 523.4 446.6 H530.5 Q534 446.6 534 443 V436.6" fill="none" stroke="#5a0a0a" stroke-width="1.2" stroke-linejoin="round"/>
<line x1="520.6" y1="437.2" x2="533.3" y2="437.2" stroke="#fdcccc" stroke-width="1.6"/>
<path d="M575.4 436.6 V443 Q575.4 446.6 578.9 446.6 H586 Q589.5 446.6 589.5 443 V436.6" fill="#fdcccc" stroke="none" />
<path d="M575.4 436.6 V443 Q575.4 446.6 578.9 446.6 H586 Q589.5 446.6 589.5 443 V436.6" fill="url(#hSt3)" stroke="none"/>
<path d="M575.4 436.6 V443 Q575.4 446.6 578.9 446.6 H586 Q589.5 446.6 589.5 443 V436.6" fill="none" stroke="#5a0a0a" stroke-width="1.2" stroke-linejoin="round"/>
<line x1="576.1" y1="437.2" x2="588.8" y2="437.2" stroke="#fdcccc" stroke-width="1.6"/>
<path d="M630.9 436.6 V443 Q630.9 446.6 634.4 446.6 H641.5 Q645 446.6 645 443 V436.6" fill="#fdcccc" stroke="none" />
<path d="M630.9 436.6 V443 Q630.9 446.6 634.4 446.6 H641.5 Q645 446.6 645 443 V436.6" fill="url(#hSt4)" stroke="none"/>
<path d="M630.9 436.6 V443 Q630.9 446.6 634.4 446.6 H641.5 Q645 446.6 645 443 V436.6" fill="none" stroke="#5a0a0a" stroke-width="1.2" stroke-linejoin="round"/>
<line x1="631.6" y1="437.2" x2="644.3" y2="437.2" stroke="#fdcccc" stroke-width="1.6"/>
<path d="M686.4 436.6 V443 Q686.4 446.6 689.9 446.6 H697 Q700.5 446.6 700.5 443 V436.6" fill="#fdcccc" stroke="none" />
<path d="M686.4 436.6 V443 Q686.4 446.6 689.9 446.6 H697 Q700.5 446.6 700.5 443 V436.6" fill="url(#hSt5)" stroke="none"/>
<path d="M686.4 436.6 V443 Q686.4 446.6 689.9 446.6 H697 Q700.5 446.6 700.5 443 V436.6" fill="none" stroke="#5a0a0a" stroke-width="1.2" stroke-linejoin="round"/>
<line x1="687.1" y1="437.2" x2="699.8" y2="437.2" stroke="#fdcccc" stroke-width="1.6"/>
<path d="M742 436.6 V443 Q742 446.6 745.5 446.6 H752.6 Q756.1 446.6 756.1 443 V436.6" fill="#fdcccc" stroke="none" />
<path d="M742 436.6 V443 Q742 446.6 745.5 446.6 H752.6 Q756.1 446.6 756.1 443 V436.6" fill="url(#hSt6)" stroke="none"/>
<path d="M742 436.6 V443 Q742 446.6 745.5 446.6 H752.6 Q756.1 446.6 756.1 443 V436.6" fill="none" stroke="#5a0a0a" stroke-width="1.2" stroke-linejoin="round"/>
<line x1="742.7" y1="437.2" x2="755.4" y2="437.2" stroke="#fdcccc" stroke-width="1.6"/>
<path d="M797.5 436.6 V443 Q797.5 446.6 801 446.6 H808.1 Q811.6 446.6 811.6 443 V436.6" fill="#fdcccc" stroke="none" />
<path d="M797.5 436.6 V443 Q797.5 446.6 801 446.6 H808.1 Q811.6 446.6 811.6 443 V436.6" fill="url(#hSt7)" stroke="none"/>
<path d="M797.5 436.6 V443 Q797.5 446.6 801 446.6 H808.1 Q811.6 446.6 811.6 443 V436.6" fill="none" stroke="#5a0a0a" stroke-width="1.2" stroke-linejoin="round"/>
<line x1="798.2" y1="437.2" x2="810.9" y2="437.2" stroke="#fdcccc" stroke-width="1.6"/>
<path d="M853 436.6 V443 Q853 446.6 856.5 446.6 H863.6 Q867.1 446.6 867.1 443 V436.6" fill="#fdcccc" stroke="none" />
<path d="M853 436.6 V443 Q853 446.6 856.5 446.6 H863.6 Q867.1 446.6 867.1 443 V436.6" fill="url(#hSt8)" stroke="none"/>
<path d="M853 436.6 V443 Q853 446.6 856.5 446.6 H863.6 Q867.1 446.6 867.1 443 V436.6" fill="none" stroke="#5a0a0a" stroke-width="1.2" stroke-linejoin="round"/>
<line x1="853.7" y1="437.2" x2="866.4" y2="437.2" stroke="#fdcccc" stroke-width="1.6"/>
<path d="M908.6 436.6 V443 Q908.6 446.6 912.1 446.6 H919.2 Q922.7 446.6 922.7 443 V436.6" fill="#fdcccc" stroke="none" />
<path d="M908.6 436.6 V443 Q908.6 446.6 912.1 446.6 H919.2 Q922.7 446.6 922.7 443 V436.6" fill="url(#hSt9)" stroke="none"/>
<path d="M908.6 436.6 V443 Q908.6 446.6 912.1 446.6 H919.2 Q922.7 446.6 922.7 443 V436.6" fill="none" stroke="#5a0a0a" stroke-width="1.2" stroke-linejoin="round"/>
<line x1="909.3" y1="437.2" x2="922" y2="437.2" stroke="#fdcccc" stroke-width="1.6"/>
<polygon points="910,41.3 952.7,41.3 952.7,37.4 957.5,37.4 957.5,32.6 976.3,32.6 976.3,67.5 910,67.5" fill="#fdcccc" stroke="none"/>
<polygon points="910,41.3 952.7,41.3 952.7,37.4 957.5,37.4 957.5,32.6 976.3,32.6 976.3,67.5 910,67.5" fill="url(#hFl)" stroke="none"/>
<polygon points="910,41.3 952.7,41.3 952.7,37.4 957.5,37.4 957.5,32.6 976.3,32.6 976.3,67.5 910,67.5" fill="none" stroke="#5a0a0a" stroke-width="1.2" stroke-linejoin="round" />
<polygon points="1037.5,32.6 1055.4,32.6 1055.4,36.5 1060.2,36.5 1060.2,41.3 1102.5,41.3 1102.5,67.5 1037.5,67.5" fill="#fdcccc" stroke="none"/>
<polygon points="1037.5,32.6 1055.4,32.6 1055.4,36.5 1060.2,36.5 1060.2,41.3 1102.5,41.3 1102.5,67.5 1037.5,67.5" fill="url(#hFl)" stroke="none"/>
<polygon points="1037.5,32.6 1055.4,32.6 1055.4,36.5 1060.2,36.5 1060.2,41.3 1102.5,41.3 1102.5,67.5 1037.5,67.5" fill="none" stroke="#5a0a0a" stroke-width="1.2" stroke-linejoin="round" />
<rect x="966.2" y="215.5" width="100.8" height="76.7" fill="#d1c8c8" />
<rect x="966.2" y="292.2" width="100.8" height="76.7" fill="#e8dbdc" />
<polygon points="942.8,148.4 963,148.4 963,148.4 965.4,148 967.5,146.8 969.1,144.9 969.9,142.6 965.3,67.5 1048.2,67.5 1044.7,130 1044.7,130 1045.2,132.7 1046.8,134.9 1049,136.5 1051.7,137 1063.1,137 1063.1,205.2 1056.4,206.2 1056.4,215.5 1014.7,215.5 1014.7,218.8 1019.5,219.7 1019.5,263.3 988.5,263.3 988.5,246.9 991.5,246.6 994.8,246.1 997.7,244.6 1000.1,242.2 1001.6,239.3 1002.1,236 1002.1,215.5 966.2,215.5 966.2,165.9 937.7,165.9 937.7,158.2 942.8,158.2" fill="#fdcccc" stroke="none"/>
<polygon points="942.8,148.4 963,148.4 963,148.4 965.4,148 967.5,146.8 969.1,144.9 969.9,142.6 965.3,67.5 1048.2,67.5 1044.7,130 1044.7,130 1045.2,132.7 1046.8,134.9 1049,136.5 1051.7,137 1063.1,137 1063.1,205.2 1056.4,206.2 1056.4,215.5 1014.7,215.5 1014.7,218.8 1019.5,219.7 1019.5,263.3 988.5,263.3 988.5,246.9 991.5,246.6 994.8,246.1 997.7,244.6 1000.1,242.2 1001.6,239.3 1002.1,236 1002.1,215.5 966.2,215.5 966.2,165.9 937.7,165.9 937.7,158.2 942.8,158.2" fill="url(#hOut)" stroke="none"/>
<polygon points="942.8,148.4 963,148.4 963,148.4 965.4,148 967.5,146.8 969.1,144.9 969.9,142.6 965.3,67.5 1048.2,67.5 1044.7,130 1044.7,130 1045.2,132.7 1046.8,134.9 1049,136.5 1051.7,137 1063.1,137 1063.1,205.2 1056.4,206.2 1056.4,215.5 1014.7,215.5 1014.7,218.8 1019.5,219.7 1019.5,263.3 988.5,263.3 988.5,246.9 991.5,246.6 994.8,246.1 997.7,244.6 1000.1,242.2 1001.6,239.3 1002.1,236 1002.1,215.5 966.2,215.5 966.2,165.9 937.7,165.9 937.7,158.2 942.8,158.2" fill="none" stroke="#5a0a0a" stroke-width="1.2" stroke-linejoin="round" />
<polygon points="942.8,436.2 979.8,436.2 979.8,439.1 1063.1,439.1 1063.1,379.2 1056.4,378.2 1056.4,368.9 1014.7,368.9 1014.7,365.6 1019.5,364.7 1019.5,321.1 988.5,321.1 988.5,337.5 991.5,337.8 994.8,338.3 997.7,339.8 1000.1,342.2 1001.6,345.1 1002.1,348.4 1002.1,368.9 966.2,368.9 966.2,418.5 937.7,418.5 937.7,426.2 942.8,426.2" fill="#fdcccc" stroke="none"/>
<polygon points="942.8,436.2 979.8,436.2 979.8,439.1 1063.1,439.1 1063.1,379.2 1056.4,378.2 1056.4,368.9 1014.7,368.9 1014.7,365.6 1019.5,364.7 1019.5,321.1 988.5,321.1 988.5,337.5 991.5,337.8 994.8,338.3 997.7,339.8 1000.1,342.2 1001.6,345.1 1002.1,348.4 1002.1,368.9 966.2,368.9 966.2,418.5 937.7,418.5 937.7,426.2 942.8,426.2" fill="url(#hOut)" stroke="none"/>
<polygon points="942.8,436.2 979.8,436.2 979.8,439.1 1063.1,439.1 1063.1,379.2 1056.4,378.2 1056.4,368.9 1014.7,368.9 1014.7,365.6 1019.5,364.7 1019.5,321.1 988.5,321.1 988.5,337.5 991.5,337.8 994.8,338.3 997.7,339.8 1000.1,342.2 1001.6,345.1 1002.1,348.4 1002.1,368.9 966.2,368.9 966.2,418.5 937.7,418.5 937.7,426.2 942.8,426.2" fill="none" stroke="#5a0a0a" stroke-width="1.2" stroke-linejoin="round" />
<polygon points="976.3,32.6 1037.5,32.6 1038.5,164 1029.2,174.6 1029.2,188.4 1029.2,188.4 1028.7,191.5 1027.3,194.3 1025.1,196.5 1022.3,197.9 1019.2,198.4 966.2,198.4 966.2,165.9 969,165.9 969,165.9 971.3,165.4 973.2,164.1 974.5,162.2 975,159.9 975,156.2" fill="url(#gBore)" stroke="none"/>
<polygon points="975,156.2 975,156.2 977,157.6 979.7,159.8 982.9,162.1 986.4,164.4 990,166 993.8,167 997.9,167.5 1002.1,167.9 1006.2,168.1 1010,168.5 1013.5,168.9 1016.9,169.2 1020,169.5 1022.8,169.9 1025,170.5 1026.6,171.5 1027.7,172.7 1028.3,174 1028.8,175.2 1029.2,176 1029.2,188.4 1029.2,188.4 1028.7,191.5 1027.3,194.3 1025.1,196.5 1022.3,197.9 1019.2,198.4 966.2,198.4 966.2,165.9 969,165.9 969,165.9 971.3,165.4 973.2,164.1 974.5,162.2 975,159.9" fill="#d1c8c8" stroke="none"/>
<path d="M975.5 157 Q995 170 1016 168 Q1027 169 1029 176" fill="none" stroke="#c4b6b6" stroke-width="0.8"/>
<path d="M1016 168 V197" fill="none" stroke="#c4b6b6" stroke-width="0.7"/>
<path d="M976.3 66.9 H1037.8" fill="none" stroke="#cbb9b9" stroke-width="0.8"/>
<polygon points="976.3,32.6 1037.5,32.6 1038.5,164 1029.2,174.6 1029.2,188.4 1029.2,188.4 1028.7,191.5 1027.3,194.3 1025.1,196.5 1022.3,197.9 1019.2,198.4 966.2,198.4 966.2,165.9 969,165.9 969,165.9 971.3,165.4 973.2,164.1 974.5,162.2 975,159.9 975,156.2" fill="none" stroke="#5a0a0a" stroke-width="1.1" stroke-linejoin="round" />
<path d="M976.3 32.6 Q1007 29.6 1037.5 32.6" fill="#f7eaea" stroke="#d8c4c4" stroke-width="0.8"/>
<path d="M966.2 386.8 H1013.9 A16.25 16.25 0 0 1 1013.9 419.3 H966.2 Z" fill="#e8dbdc" stroke="none" />
<path d="M966.2 386.8 H1013.9 A16.25 16.25 0 0 1 1013.9 419.3 H966.2 Z" fill="none" stroke="#5a0a0a" stroke-width="1.2" stroke-linejoin="round"/>
<path d="M1017 387 V419" fill="none" stroke="#cdbfc2" stroke-width="0.7"/>
<polygon points="1063.1,175.6 1082.5,175.6 1082.5,205.2 1141.5,205.2 1141.5,175.1 1153.5,175.1 1153.5,179.2 1157.7,179.2 1157.7,205.2 1148.4,205.2 1148.4,248.3 1164.6,248.3 1164.6,292.2 1164.6,336.1 1148.4,336.1 1148.4,379.2 1157.7,379.2 1157.7,405.6 1153.5,405.6 1153.5,409.1 1063.1,409.1 1063.1,379.2 1056.4,378.2 1056.4,364.7 1067,364.7 1067,292.2 1067,219.7 1056.4,219.7 1056.4,206.2 1063.1,205.2" fill="#fdcccc" stroke="none"/>
<polygon points="1063.1,175.6 1082.5,175.6 1082.5,205.2 1141.5,205.2 1141.5,175.1 1153.5,175.1 1153.5,179.2 1157.7,179.2 1157.7,205.2 1148.4,205.2 1148.4,248.3 1164.6,248.3 1164.6,292.2 1164.6,336.1 1148.4,336.1 1148.4,379.2 1157.7,379.2 1157.7,405.6 1153.5,405.6 1153.5,409.1 1063.1,409.1 1063.1,379.2 1056.4,378.2 1056.4,364.7 1067,364.7 1067,292.2 1067,219.7 1056.4,219.7 1056.4,206.2 1063.1,205.2" fill="url(#hOut2)" stroke="none"/>
<polygon points="1063.1,175.6 1082.5,175.6 1082.5,205.2 1141.5,205.2 1141.5,175.1 1153.5,175.1 1153.5,179.2 1157.7,179.2 1157.7,205.2 1148.4,205.2 1148.4,248.3 1164.6,248.3 1164.6,292.2 1164.6,336.1 1148.4,336.1 1148.4,379.2 1157.7,379.2 1157.7,405.6 1153.5,405.6 1153.5,409.1 1063.1,409.1 1063.1,379.2 1056.4,378.2 1056.4,364.7 1067,364.7 1067,292.2 1067,219.7 1056.4,219.7 1056.4,206.2 1063.1,205.2" fill="none" stroke="#5a0a0a" stroke-width="1.2" stroke-linejoin="round" />
<polygon points="1082.5,217.8 1148.4,217.8 1148.4,244 1139,244 1139,243 1082.5,243" fill="#d1c8c8" stroke="none"/>
<polygon points="1082.5,217.8 1148.4,217.8 1148.4,244 1139,244 1139,243 1082.5,243" fill="none" stroke="#5a0a0a" stroke-width="1.2" stroke-linejoin="round" />
<polygon points="1082.5,366.6 1148.4,366.6 1148.4,340.4 1139,340.4 1139,341.4 1082.5,341.4" fill="#e8dbdc" stroke="none"/>
<polygon points="1082.5,366.6 1148.4,366.6 1148.4,340.4 1139,340.4 1139,341.4 1082.5,341.4" fill="none" stroke="#5a0a0a" stroke-width="1.2" stroke-linejoin="round" />
<path d="M1095 242.6 A13 10 0 0 1 1121 242.6 Z" fill="#ddd3d3" stroke="#c9b9b9" stroke-width="0.8"/>
<ellipse cx="1109" cy="356.5" rx="7" ry="3.6" fill="#ded6d8" stroke="#cdc0c2" stroke-width="0.7"/>
<rect x="1083.5" y="190.7" width="14.5" height="13.9" fill="#ececec" />
<rect x="1083.5" y="190.7" width="14.5" height="13.9" fill="none" stroke="#d5d0d0" stroke-width="0.7"/>
<rect x="1098" y="196.5" width="7.5" height="8.1" fill="#f0f0f0" />
<rect x="1098" y="196.5" width="7.5" height="8.1" fill="none" stroke="#dad6d6" stroke-width="0.6"/>
<polygon points="1082.7,379.4 1141.5,379.4 1140,400.9 1084.5,400.9" fill="#ffffff" stroke="none"/>
<polygon points="1082.7,379.4 1141.5,379.4 1140,400.9 1084.5,400.9" fill="url(#gMin)" stroke="none"/>
<polygon points="1082.7,379.4 1141.5,379.4 1140,400.9 1084.5,400.9" fill="url(#gMaj)" stroke="none"/>
<polygon points="1082.7,379.4 1141.5,379.4 1140,400.9 1084.5,400.9" fill="none" stroke="#5a0a0a" stroke-width="1.2" stroke-linejoin="round" />
<rect x="1083.5" y="380.2" width="14.5" height="7.3" fill="#e9e6e6" />
<rect x="1083.5" y="380.2" width="14.5" height="7.3" fill="none" stroke="#d5d0d0" stroke-width="0.6"/>
<rect x="1098" y="380.2" width="8" height="3.3" fill="#eeeaea" />
<rect x="1098" y="380.2" width="8" height="3.3" fill="none" stroke="#d5d0d0" stroke-width="0.6"/>
<path d="M408.4 200.9 V196 Q413.8 194 416.5 200.9 Z" fill="#ebebe0" stroke="none" />
<rect x="408.4" y="201.2" width="8.1" height="6.2" fill="#55550a" />
<rect x="408.4" y="240" width="8.1" height="5.6" fill="#ebebe0" />
<rect x="408.4" y="246" width="8.1" height="6.5" fill="#55550a" />
<polygon points="408.4,252.5 416.5,252.5 408.4,263" fill="#dcd9cf" stroke="none"/>
<rect x="383.1" y="196" width="4.7" height="54" fill="#e3e3d6" />
<polygon points="389.4,196.2 403,196.2 404.5,215 404.5,271.1 399.5,271.1 399.5,268.2 392.8,268.2 392.1,266.8 392.8,265.5 399.5,265.5 399.5,245.5 392.1,245.5 392,248.1 362,248.1 361,247.1 361,241.7 362.8,241.6 365.4,241.4 368.3,241.2 371.2,240.8 373.7,240.2 375.7,239.3 377.5,238.3 379.1,237.1 380.6,235.7 381.9,234.2 383.1,232.6 384.1,230.8 385,228.9 385.8,227 386.5,224.9 387.1,222.8 387.5,220.7 387.8,218.4 388.1,216 388.3,213.3 388.4,210.1 388.5,206.3 388.5,202.6 388.5,199.3 388.5,197" fill="#fdcccc" stroke="none"/>
<polygon points="389.4,196.2 403,196.2 404.5,215 404.5,271.1 399.5,271.1 399.5,268.2 392.8,268.2 392.1,266.8 392.8,265.5 399.5,265.5 399.5,245.5 392.1,245.5 392,248.1 362,248.1 361,247.1 361,241.7 362.8,241.6 365.4,241.4 368.3,241.2 371.2,240.8 373.7,240.2 375.7,239.3 377.5,238.3 379.1,237.1 380.6,235.7 381.9,234.2 383.1,232.6 384.1,230.8 385,228.9 385.8,227 386.5,224.9 387.1,222.8 387.5,220.7 387.8,218.4 388.1,216 388.3,213.3 388.4,210.1 388.5,206.3 388.5,202.6 388.5,199.3 388.5,197" fill="url(#hImpD)" stroke="none"/>
<polygon points="389.4,196.2 403,196.2 404.5,215 404.5,271.1 399.5,271.1 399.5,268.2 392.8,268.2 392.1,266.8 392.8,265.5 399.5,265.5 399.5,245.5 392.1,245.5 392,248.1 362,248.1 361,247.1 361,241.7 362.8,241.6 365.4,241.4 368.3,241.2 371.2,240.8 373.7,240.2 375.7,239.3 377.5,238.3 379.1,237.1 380.6,235.7 381.9,234.2 383.1,232.6 384.1,230.8 385,228.9 385.8,227 386.5,224.9 387.1,222.8 387.5,220.7 387.8,218.4 388.1,216 388.3,213.3 388.4,210.1 388.5,206.3 388.5,202.6 388.5,199.3 388.5,197" fill="none" stroke="#5a0a0a" stroke-width="1.2" stroke-linejoin="round" />
<polygon points="392.1,200.5 399.5,200.5 399.5,240.1 392.1,240.1" fill="#e3e3d6" stroke="none"/>
<polygon points="392.1,200.5 399.5,200.5 399.5,240.1 392.1,240.1" fill="none" stroke="#5a0a0a" stroke-width="1" stroke-linejoin="round" />
<polygon points="392.4,184.9 399.7,184.9 399.7,196 392.4,196" fill="#d9d9cf" stroke="none"/>
<polygon points="382.4,166.2 385.4,166.2 385.4,180.4 408.2,180.4 408.2,263 405.9,263 405.9,194.7 399.7,194.7 399.7,184.9 392.4,184.9 392.4,194.7 382.4,194.7" fill="#ffffb6" stroke="none"/>
<polygon points="382.4,166.2 385.4,166.2 385.4,180.4 408.2,180.4 408.2,263 405.9,263 405.9,194.7 399.7,194.7 399.7,184.9 392.4,184.9 392.4,194.7 382.4,194.7" fill="url(#hYel)" stroke="none"/>
<polygon points="382.4,166.2 385.4,166.2 385.4,180.4 408.2,180.4 408.2,263 405.9,263 405.9,194.7 399.7,194.7 399.7,184.9 392.4,184.9 392.4,194.7 382.4,194.7" fill="none" stroke="#55550a" stroke-width="1" stroke-linejoin="round" />
<line x1="382.8" y1="165.8" x2="382.8" y2="195.5" stroke="#5a0a0a" stroke-width="1.3"/>
<rect x="408.4" y="314" width="8.1" height="75.8" fill="#f5f7e5" />
<rect x="408.4" y="322.1" width="8.1" height="6.6" fill="#55550a" />
<polygon points="408.4,386 415.8,386 414.1,393.3 408.4,393.3" fill="#55550a" stroke="none"/>
<rect x="383.1" y="334.4" width="4.7" height="54" fill="#dfe1d5" />
<polygon points="392.1,375.5 399.5,375.5 401.1,388.5 399.9,394.5 392.1,394.5 390.5,388.5" fill="#d9d9d0" stroke="none"/>
<rect x="392.1" y="318.9" width="7.4" height="47.1" fill="#f9e9ea" />
<polygon points="399.5,313.3 404.5,313.3 404.5,370 403.2,388.5 401.2,388.5 399.5,375.5 392.1,375.5 390.4,388.5 388.7,388.5 387.9,370 388.5,387.4 388.5,385.1 388.5,381.8 388.5,378.1 388.4,374.3 388.3,371.1 388.1,368.4 387.8,366 387.5,363.7 387.1,361.6 386.5,359.5 385.8,357.4 385,355.5 384.1,353.6 383.1,351.8 381.9,350.2 380.6,348.7 379.1,347.3 377.5,346.1 375.7,345.1 373.7,344.2 371.2,343.6 368.3,343.2 365.4,343 362.8,342.8 361,342.7 361,337.3 362,336.3 392.1,336.3 392.1,366 399.5,366 399.5,318.9 392.8,318.9 392.1,317.5 392.8,316.2 399.5,316.2" fill="#fdcccc" stroke="none"/>
<polygon points="399.5,313.3 404.5,313.3 404.5,370 403.2,388.5 401.2,388.5 399.5,375.5 392.1,375.5 390.4,388.5 388.7,388.5 387.9,370 388.5,387.4 388.5,385.1 388.5,381.8 388.5,378.1 388.4,374.3 388.3,371.1 388.1,368.4 387.8,366 387.5,363.7 387.1,361.6 386.5,359.5 385.8,357.4 385,355.5 384.1,353.6 383.1,351.8 381.9,350.2 380.6,348.7 379.1,347.3 377.5,346.1 375.7,345.1 373.7,344.2 371.2,343.6 368.3,343.2 365.4,343 362.8,342.8 361,342.7 361,337.3 362,336.3 392.1,336.3 392.1,366 399.5,366 399.5,318.9 392.8,318.9 392.1,317.5 392.8,316.2 399.5,316.2" fill="url(#hImpD)" stroke="none"/>
<polygon points="399.5,313.3 404.5,313.3 404.5,370 403.2,388.5 401.2,388.5 399.5,375.5 392.1,375.5 390.4,388.5 388.7,388.5 387.9,370 388.5,387.4 388.5,385.1 388.5,381.8 388.5,378.1 388.4,374.3 388.3,371.1 388.1,368.4 387.8,366 387.5,363.7 387.1,361.6 386.5,359.5 385.8,357.4 385,355.5 384.1,353.6 383.1,351.8 381.9,350.2 380.6,348.7 379.1,347.3 377.5,346.1 375.7,345.1 373.7,344.2 371.2,343.6 368.3,343.2 365.4,343 362.8,342.8 361,342.7 361,337.3 362,336.3 392.1,336.3 392.1,366 399.5,366 399.5,318.9 392.8,318.9 392.1,317.5 392.8,316.2 399.5,316.2" fill="none" stroke="#5a0a0a" stroke-width="1.2" stroke-linejoin="round" />
<polygon points="392.4,394.9 399.7,394.9 399.7,388.4 392.4,388.4" fill="#deded4" stroke="none"/>
<polygon points="382.4,418.2 385.4,418.2 385.4,398.4 408.2,398.4 408.2,321.4 405.9,321.4 405.9,389.7 399.7,389.7 399.7,394.9 392.4,394.9 392.4,389.7 382.4,389.7" fill="#ffffb6" stroke="none"/>
<polygon points="382.4,418.2 385.4,418.2 385.4,398.4 408.2,398.4 408.2,321.4 405.9,321.4 405.9,389.7 399.7,389.7 399.7,394.9 392.4,394.9 392.4,389.7 382.4,389.7" fill="url(#hYel)" stroke="none"/>
<polygon points="382.4,418.2 385.4,418.2 385.4,398.4 408.2,398.4 408.2,321.4 405.9,321.4 405.9,389.7 399.7,389.7 399.7,394.9 392.4,394.9 392.4,389.7 382.4,389.7" fill="none" stroke="#55550a" stroke-width="1" stroke-linejoin="round" />
<line x1="382.8" y1="388.9" x2="382.8" y2="418.6" stroke="#5a0a0a" stroke-width="1.3"/>
<path d="M463.9 200.9 V196 Q469.3 194 472 200.9 Z" fill="#ebebe0" stroke="none" />
<rect x="463.9" y="201.2" width="8.1" height="6.2" fill="#55550a" />
<rect x="463.9" y="240" width="8.1" height="5.6" fill="#ebebe0" />
<rect x="463.9" y="246" width="8.1" height="6.5" fill="#55550a" />
<polygon points="463.9,252.5 472,252.5 463.9,263" fill="#dcd9cf" stroke="none"/>
<rect x="438.6" y="196" width="4.7" height="54" fill="#e3e3d6" />
<polygon points="444.9,196.2 458.5,196.2 460,215 460,271.1 455,271.1 455,268.2 448.3,268.2 447.6,266.8 448.3,265.5 455,265.5 455,245.5 447.6,245.5 447.6,261 426.4,261 425.4,260 425.4,251.6 426.4,250.6 443.4,250.6 443.4,215" fill="#fdcccc" stroke="none"/>
<polygon points="444.9,196.2 458.5,196.2 460,215 460,271.1 455,271.1 455,268.2 448.3,268.2 447.6,266.8 448.3,265.5 455,265.5 455,245.5 447.6,245.5 447.6,261 426.4,261 425.4,260 425.4,251.6 426.4,250.6 443.4,250.6 443.4,215" fill="url(#hImpA)" stroke="none"/>
<polygon points="444.9,196.2 458.5,196.2 460,215 460,271.1 455,271.1 455,268.2 448.3,268.2 447.6,266.8 448.3,265.5 455,265.5 455,245.5 447.6,245.5 447.6,261 426.4,261 425.4,260 425.4,251.6 426.4,250.6 443.4,250.6 443.4,215" fill="none" stroke="#5a0a0a" stroke-width="1.2" stroke-linejoin="round" />
<polygon points="447.6,200.5 455,200.5 455,240.1 447.6,240.1" fill="#e3e3d6" stroke="none"/>
<polygon points="447.6,200.5 455,200.5 455,240.1 447.6,240.1" fill="none" stroke="#5a0a0a" stroke-width="1" stroke-linejoin="round" />
<polygon points="447.9,184.9 455.2,184.9 455.2,196 447.9,196" fill="#d9d9cf" stroke="none"/>
<polygon points="437.9,166.2 440.9,166.2 440.9,180.4 463.7,180.4 463.7,263 461.4,263 461.4,194.7 455.2,194.7 455.2,184.9 447.9,184.9 447.9,194.7 437.9,194.7" fill="#ffffb6" stroke="none"/>
<polygon points="437.9,166.2 440.9,166.2 440.9,180.4 463.7,180.4 463.7,263 461.4,263 461.4,194.7 455.2,194.7 455.2,184.9 447.9,184.9 447.9,194.7 437.9,194.7" fill="url(#hYel)" stroke="none"/>
<polygon points="437.9,166.2 440.9,166.2 440.9,180.4 463.7,180.4 463.7,263 461.4,263 461.4,194.7 455.2,194.7 455.2,184.9 447.9,184.9 447.9,194.7 437.9,194.7" fill="none" stroke="#55550a" stroke-width="1" stroke-linejoin="round" />
<line x1="438.3" y1="165.8" x2="438.3" y2="195.5" stroke="#5a0a0a" stroke-width="1.3"/>
<rect x="463.9" y="314" width="8.1" height="75.8" fill="#f5f7e5" />
<rect x="463.9" y="322.1" width="8.1" height="6.6" fill="#55550a" />
<polygon points="463.9,386 471.3,386 469.6,393.3 463.9,393.3" fill="#55550a" stroke="none"/>
<rect x="438.6" y="334.4" width="4.7" height="54" fill="#dfe1d5" />
<polygon points="447.6,375.5 455,375.5 456.6,388.5 455.4,394.5 447.6,394.5 446,388.5" fill="#d9d9d0" stroke="none"/>
<rect x="447.6" y="318.9" width="7.4" height="47.1" fill="#f9e9ea" />
<polygon points="455,313.3 460,313.3 460,370 458.7,388.5 456.7,388.5 455,375.5 447.6,375.5 445.9,388.5 444.2,388.5 443.4,370 443.4,333.8 426.4,333.8 425.4,332.8 425.4,324.4 426.4,323.4 447.6,323.4 447.6,366 455,366 455,318.9 448.3,318.9 447.6,317.5 448.3,316.2 455,316.2" fill="#fdcccc" stroke="none"/>
<polygon points="455,313.3 460,313.3 460,370 458.7,388.5 456.7,388.5 455,375.5 447.6,375.5 445.9,388.5 444.2,388.5 443.4,370 443.4,333.8 426.4,333.8 425.4,332.8 425.4,324.4 426.4,323.4 447.6,323.4 447.6,366 455,366 455,318.9 448.3,318.9 447.6,317.5 448.3,316.2 455,316.2" fill="url(#hImpA)" stroke="none"/>
<polygon points="455,313.3 460,313.3 460,370 458.7,388.5 456.7,388.5 455,375.5 447.6,375.5 445.9,388.5 444.2,388.5 443.4,370 443.4,333.8 426.4,333.8 425.4,332.8 425.4,324.4 426.4,323.4 447.6,323.4 447.6,366 455,366 455,318.9 448.3,318.9 447.6,317.5 448.3,316.2 455,316.2" fill="none" stroke="#5a0a0a" stroke-width="1.2" stroke-linejoin="round" />
<polygon points="447.9,394.9 455.2,394.9 455.2,388.4 447.9,388.4" fill="#deded4" stroke="none"/>
<polygon points="437.9,418.2 440.9,418.2 440.9,398.4 463.7,398.4 463.7,321.4 461.4,321.4 461.4,389.7 455.2,389.7 455.2,394.9 447.9,394.9 447.9,389.7 437.9,389.7" fill="#ffffb6" stroke="none"/>
<polygon points="437.9,418.2 440.9,418.2 440.9,398.4 463.7,398.4 463.7,321.4 461.4,321.4 461.4,389.7 455.2,389.7 455.2,394.9 447.9,394.9 447.9,389.7 437.9,389.7" fill="url(#hYel)" stroke="none"/>
<polygon points="437.9,418.2 440.9,418.2 440.9,398.4 463.7,398.4 463.7,321.4 461.4,321.4 461.4,389.7 455.2,389.7 455.2,394.9 447.9,394.9 447.9,389.7 437.9,389.7" fill="none" stroke="#55550a" stroke-width="1" stroke-linejoin="round" />
<line x1="438.3" y1="388.9" x2="438.3" y2="418.6" stroke="#5a0a0a" stroke-width="1.3"/>
<path d="M519.5 200.9 V196 Q524.9 194 527.6 200.9 Z" fill="#ebebe0" stroke="none" />
<rect x="519.5" y="201.2" width="8.1" height="6.2" fill="#55550a" />
<rect x="519.5" y="240" width="8.1" height="5.6" fill="#ebebe0" />
<rect x="519.5" y="246" width="8.1" height="6.5" fill="#55550a" />
<polygon points="519.5,252.5 527.6,252.5 519.5,263" fill="#dcd9cf" stroke="none"/>
<rect x="494.2" y="196" width="4.7" height="54" fill="#e3e3d6" />
<polygon points="500.5,196.2 514.1,196.2 515.6,215 515.6,271.1 510.6,271.1 510.6,268.2 503.9,268.2 503.2,266.8 503.9,265.5 510.6,265.5 510.6,245.5 503.2,245.5 503.2,261 482,261 481,260 481,251.6 482,250.6 499,250.6 499,215" fill="#fdcccc" stroke="none"/>
<polygon points="500.5,196.2 514.1,196.2 515.6,215 515.6,271.1 510.6,271.1 510.6,268.2 503.9,268.2 503.2,266.8 503.9,265.5 510.6,265.5 510.6,245.5 503.2,245.5 503.2,261 482,261 481,260 481,251.6 482,250.6 499,250.6 499,215" fill="url(#hImpB)" stroke="none"/>
<polygon points="500.5,196.2 514.1,196.2 515.6,215 515.6,271.1 510.6,271.1 510.6,268.2 503.9,268.2 503.2,266.8 503.9,265.5 510.6,265.5 510.6,245.5 503.2,245.5 503.2,261 482,261 481,260 481,251.6 482,250.6 499,250.6 499,215" fill="none" stroke="#5a0a0a" stroke-width="1.2" stroke-linejoin="round" />
<polygon points="503.2,200.5 510.6,200.5 510.6,240.1 503.2,240.1" fill="#e3e3d6" stroke="none"/>
<polygon points="503.2,200.5 510.6,200.5 510.6,240.1 503.2,240.1" fill="none" stroke="#5a0a0a" stroke-width="1" stroke-linejoin="round" />
<polygon points="503.5,184.9 510.8,184.9 510.8,196 503.5,196" fill="#d9d9cf" stroke="none"/>
<polygon points="493.5,166.2 496.5,166.2 496.5,180.4 519.3,180.4 519.3,263 517,263 517,194.7 510.8,194.7 510.8,184.9 503.5,184.9 503.5,194.7 493.5,194.7" fill="#ffffb6" stroke="none"/>
<polygon points="493.5,166.2 496.5,166.2 496.5,180.4 519.3,180.4 519.3,263 517,263 517,194.7 510.8,194.7 510.8,184.9 503.5,184.9 503.5,194.7 493.5,194.7" fill="url(#hYel)" stroke="none"/>
<polygon points="493.5,166.2 496.5,166.2 496.5,180.4 519.3,180.4 519.3,263 517,263 517,194.7 510.8,194.7 510.8,184.9 503.5,184.9 503.5,194.7 493.5,194.7" fill="none" stroke="#55550a" stroke-width="1" stroke-linejoin="round" />
<line x1="493.9" y1="165.8" x2="493.9" y2="195.5" stroke="#5a0a0a" stroke-width="1.3"/>
<rect x="519.5" y="314" width="8.1" height="75.8" fill="#f5f7e5" />
<rect x="519.5" y="322.1" width="8.1" height="6.6" fill="#55550a" />
<polygon points="519.5,386 526.9,386 525.2,393.3 519.5,393.3" fill="#55550a" stroke="none"/>
<rect x="494.2" y="334.4" width="4.7" height="54" fill="#dfe1d5" />
<polygon points="503.2,375.5 510.6,375.5 512.2,388.5 511,394.5 503.2,394.5 501.6,388.5" fill="#d9d9d0" stroke="none"/>
<rect x="503.2" y="318.9" width="7.4" height="47.1" fill="#f9e9ea" />
<polygon points="510.6,313.3 515.6,313.3 515.6,370 514.3,388.5 512.3,388.5 510.6,375.5 503.2,375.5 501.5,388.5 499.8,388.5 499,370 499,333.8 482,333.8 481,332.8 481,324.4 482,323.4 503.2,323.4 503.2,366 510.6,366 510.6,318.9 503.9,318.9 503.2,317.5 503.9,316.2 510.6,316.2" fill="#fdcccc" stroke="none"/>
<polygon points="510.6,313.3 515.6,313.3 515.6,370 514.3,388.5 512.3,388.5 510.6,375.5 503.2,375.5 501.5,388.5 499.8,388.5 499,370 499,333.8 482,333.8 481,332.8 481,324.4 482,323.4 503.2,323.4 503.2,366 510.6,366 510.6,318.9 503.9,318.9 503.2,317.5 503.9,316.2 510.6,316.2" fill="url(#hImpB)" stroke="none"/>
<polygon points="510.6,313.3 515.6,313.3 515.6,370 514.3,388.5 512.3,388.5 510.6,375.5 503.2,375.5 501.5,388.5 499.8,388.5 499,370 499,333.8 482,333.8 481,332.8 481,324.4 482,323.4 503.2,323.4 503.2,366 510.6,366 510.6,318.9 503.9,318.9 503.2,317.5 503.9,316.2 510.6,316.2" fill="none" stroke="#5a0a0a" stroke-width="1.2" stroke-linejoin="round" />
<polygon points="503.5,394.9 510.8,394.9 510.8,388.4 503.5,388.4" fill="#deded4" stroke="none"/>
<polygon points="493.5,418.2 496.5,418.2 496.5,398.4 519.3,398.4 519.3,321.4 517,321.4 517,389.7 510.8,389.7 510.8,394.9 503.5,394.9 503.5,389.7 493.5,389.7" fill="#ffffb6" stroke="none"/>
<polygon points="493.5,418.2 496.5,418.2 496.5,398.4 519.3,398.4 519.3,321.4 517,321.4 517,389.7 510.8,389.7 510.8,394.9 503.5,394.9 503.5,389.7 493.5,389.7" fill="url(#hYel)" stroke="none"/>
<polygon points="493.5,418.2 496.5,418.2 496.5,398.4 519.3,398.4 519.3,321.4 517,321.4 517,389.7 510.8,389.7 510.8,394.9 503.5,394.9 503.5,389.7 493.5,389.7" fill="none" stroke="#55550a" stroke-width="1" stroke-linejoin="round" />
<line x1="493.9" y1="388.9" x2="493.9" y2="418.6" stroke="#5a0a0a" stroke-width="1.3"/>
<path d="M575 200.9 V196 Q580.4 194 583.1 200.9 Z" fill="#ebebe0" stroke="none" />
<rect x="575" y="201.2" width="8.1" height="6.2" fill="#55550a" />
<rect x="575" y="240" width="8.1" height="5.6" fill="#ebebe0" />
<rect x="575" y="246" width="8.1" height="6.5" fill="#55550a" />
<polygon points="575,252.5 583.1,252.5 575,263" fill="#dcd9cf" stroke="none"/>
<rect x="549.7" y="196" width="4.7" height="54" fill="#e3e3d6" />
<polygon points="556,196.2 569.6,196.2 571.1,215 571.1,271.1 566.1,271.1 566.1,268.2 559.4,268.2 558.7,266.8 559.4,265.5 566.1,265.5 566.1,245.5 558.7,245.5 558.7,261 537.5,261 536.5,260 536.5,251.6 537.5,250.6 554.5,250.6 554.5,215" fill="#fdcccc" stroke="none"/>
<polygon points="556,196.2 569.6,196.2 571.1,215 571.1,271.1 566.1,271.1 566.1,268.2 559.4,268.2 558.7,266.8 559.4,265.5 566.1,265.5 566.1,245.5 558.7,245.5 558.7,261 537.5,261 536.5,260 536.5,251.6 537.5,250.6 554.5,250.6 554.5,215" fill="url(#hImpA)" stroke="none"/>
<polygon points="556,196.2 569.6,196.2 571.1,215 571.1,271.1 566.1,271.1 566.1,268.2 559.4,268.2 558.7,266.8 559.4,265.5 566.1,265.5 566.1,245.5 558.7,245.5 558.7,261 537.5,261 536.5,260 536.5,251.6 537.5,250.6 554.5,250.6 554.5,215" fill="none" stroke="#5a0a0a" stroke-width="1.2" stroke-linejoin="round" />
<polygon points="558.7,200.5 566.1,200.5 566.1,240.1 558.7,240.1" fill="#e3e3d6" stroke="none"/>
<polygon points="558.7,200.5 566.1,200.5 566.1,240.1 558.7,240.1" fill="none" stroke="#5a0a0a" stroke-width="1" stroke-linejoin="round" />
<polygon points="559,184.9 566.3,184.9 566.3,196 559,196" fill="#d9d9cf" stroke="none"/>
<polygon points="549,166.2 552,166.2 552,180.4 574.8,180.4 574.8,263 572.5,263 572.5,194.7 566.3,194.7 566.3,184.9 559,184.9 559,194.7 549,194.7" fill="#ffffb6" stroke="none"/>
<polygon points="549,166.2 552,166.2 552,180.4 574.8,180.4 574.8,263 572.5,263 572.5,194.7 566.3,194.7 566.3,184.9 559,184.9 559,194.7 549,194.7" fill="url(#hYel)" stroke="none"/>
<polygon points="549,166.2 552,166.2 552,180.4 574.8,180.4 574.8,263 572.5,263 572.5,194.7 566.3,194.7 566.3,184.9 559,184.9 559,194.7 549,194.7" fill="none" stroke="#55550a" stroke-width="1" stroke-linejoin="round" />
<line x1="549.4" y1="165.8" x2="549.4" y2="195.5" stroke="#5a0a0a" stroke-width="1.3"/>
<rect x="575" y="314" width="8.1" height="75.8" fill="#f5f7e5" />
<rect x="575" y="322.1" width="8.1" height="6.6" fill="#55550a" />
<polygon points="575,386 582.4,386 580.7,393.3 575,393.3" fill="#55550a" stroke="none"/>
<rect x="549.7" y="334.4" width="4.7" height="54" fill="#dfe1d5" />
<polygon points="558.7,375.5 566.1,375.5 567.7,388.5 566.5,394.5 558.7,394.5 557.1,388.5" fill="#d9d9d0" stroke="none"/>
<rect x="558.7" y="318.9" width="7.4" height="47.1" fill="#f9e9ea" />
<polygon points="566.1,313.3 571.1,313.3 571.1,370 569.8,388.5 567.8,388.5 566.1,375.5 558.7,375.5 557,388.5 555.3,388.5 554.5,370 554.5,333.8 537.5,333.8 536.5,332.8 536.5,324.4 537.5,323.4 558.7,323.4 558.7,366 566.1,366 566.1,318.9 559.4,318.9 558.7,317.5 559.4,316.2 566.1,316.2" fill="#fdcccc" stroke="none"/>
<polygon points="566.1,313.3 571.1,313.3 571.1,370 569.8,388.5 567.8,388.5 566.1,375.5 558.7,375.5 557,388.5 555.3,388.5 554.5,370 554.5,333.8 537.5,333.8 536.5,332.8 536.5,324.4 537.5,323.4 558.7,323.4 558.7,366 566.1,366 566.1,318.9 559.4,318.9 558.7,317.5 559.4,316.2 566.1,316.2" fill="url(#hImpA)" stroke="none"/>
<polygon points="566.1,313.3 571.1,313.3 571.1,370 569.8,388.5 567.8,388.5 566.1,375.5 558.7,375.5 557,388.5 555.3,388.5 554.5,370 554.5,333.8 537.5,333.8 536.5,332.8 536.5,324.4 537.5,323.4 558.7,323.4 558.7,366 566.1,366 566.1,318.9 559.4,318.9 558.7,317.5 559.4,316.2 566.1,316.2" fill="none" stroke="#5a0a0a" stroke-width="1.2" stroke-linejoin="round" />
<polygon points="559,394.9 566.3,394.9 566.3,388.4 559,388.4" fill="#deded4" stroke="none"/>
<polygon points="549,418.2 552,418.2 552,398.4 574.8,398.4 574.8,321.4 572.5,321.4 572.5,389.7 566.3,389.7 566.3,394.9 559,394.9 559,389.7 549,389.7" fill="#ffffb6" stroke="none"/>
<polygon points="549,418.2 552,418.2 552,398.4 574.8,398.4 574.8,321.4 572.5,321.4 572.5,389.7 566.3,389.7 566.3,394.9 559,394.9 559,389.7 549,389.7" fill="url(#hYel)" stroke="none"/>
<polygon points="549,418.2 552,418.2 552,398.4 574.8,398.4 574.8,321.4 572.5,321.4 572.5,389.7 566.3,389.7 566.3,394.9 559,394.9 559,389.7 549,389.7" fill="none" stroke="#55550a" stroke-width="1" stroke-linejoin="round" />
<line x1="549.4" y1="388.9" x2="549.4" y2="418.6" stroke="#5a0a0a" stroke-width="1.3"/>
<path d="M630.5 200.9 V196 Q635.9 194 638.6 200.9 Z" fill="#ebebe0" stroke="none" />
<rect x="630.5" y="201.2" width="8.1" height="6.2" fill="#55550a" />
<rect x="630.5" y="240" width="8.1" height="5.6" fill="#ebebe0" />
<rect x="630.5" y="246" width="8.1" height="6.5" fill="#55550a" />
<polygon points="630.5,252.5 638.6,252.5 630.5,263" fill="#dcd9cf" stroke="none"/>
<rect x="605.2" y="196" width="4.7" height="54" fill="#e3e3d6" />
<polygon points="611.5,196.2 625.1,196.2 626.6,215 626.6,271.1 621.6,271.1 621.6,268.2 614.9,268.2 614.2,266.8 614.9,265.5 621.6,265.5 621.6,245.5 614.2,245.5 614.2,261 593,261 592,260 592,251.6 593,250.6 610,250.6 610,215" fill="#fdcccc" stroke="none"/>
<polygon points="611.5,196.2 625.1,196.2 626.6,215 626.6,271.1 621.6,271.1 621.6,268.2 614.9,268.2 614.2,266.8 614.9,265.5 621.6,265.5 621.6,245.5 614.2,245.5 614.2,261 593,261 592,260 592,251.6 593,250.6 610,250.6 610,215" fill="url(#hImpB)" stroke="none"/>
<polygon points="611.5,196.2 625.1,196.2 626.6,215 626.6,271.1 621.6,271.1 621.6,268.2 614.9,268.2 614.2,266.8 614.9,265.5 621.6,265.5 621.6,245.5 614.2,245.5 614.2,261 593,261 592,260 592,251.6 593,250.6 610,250.6 610,215" fill="none" stroke="#5a0a0a" stroke-width="1.2" stroke-linejoin="round" />
<polygon points="614.2,200.5 621.6,200.5 621.6,240.1 614.2,240.1" fill="#e3e3d6" stroke="none"/>
<polygon points="614.2,200.5 621.6,200.5 621.6,240.1 614.2,240.1" fill="none" stroke="#5a0a0a" stroke-width="1" stroke-linejoin="round" />
<polygon points="614.5,184.9 621.8,184.9 621.8,196 614.5,196" fill="#d9d9cf" stroke="none"/>
<polygon points="604.5,166.2 607.5,166.2 607.5,180.4 630.3,180.4 630.3,263 628,263 628,194.7 621.8,194.7 621.8,184.9 614.5,184.9 614.5,194.7 604.5,194.7" fill="#ffffb6" stroke="none"/>
<polygon points="604.5,166.2 607.5,166.2 607.5,180.4 630.3,180.4 630.3,263 628,263 628,194.7 621.8,194.7 621.8,184.9 614.5,184.9 614.5,194.7 604.5,194.7" fill="url(#hYel)" stroke="none"/>
<polygon points="604.5,166.2 607.5,166.2 607.5,180.4 630.3,180.4 630.3,263 628,263 628,194.7 621.8,194.7 621.8,184.9 614.5,184.9 614.5,194.7 604.5,194.7" fill="none" stroke="#55550a" stroke-width="1" stroke-linejoin="round" />
<line x1="604.9" y1="165.8" x2="604.9" y2="195.5" stroke="#5a0a0a" stroke-width="1.3"/>
<rect x="630.5" y="314" width="8.1" height="75.8" fill="#f5f7e5" />
<rect x="630.5" y="322.1" width="8.1" height="6.6" fill="#55550a" />
<polygon points="630.5,386 637.9,386 636.2,393.3 630.5,393.3" fill="#55550a" stroke="none"/>
<rect x="605.2" y="334.4" width="4.7" height="54" fill="#dfe1d5" />
<polygon points="614.2,375.5 621.6,375.5 623.2,388.5 622,394.5 614.2,394.5 612.6,388.5" fill="#d9d9d0" stroke="none"/>
<rect x="614.2" y="318.9" width="7.4" height="47.1" fill="#f9e9ea" />
<polygon points="621.6,313.3 626.6,313.3 626.6,370 625.3,388.5 623.3,388.5 621.6,375.5 614.2,375.5 612.5,388.5 610.8,388.5 610,370 610,333.8 593,333.8 592,332.8 592,324.4 593,323.4 614.2,323.4 614.2,366 621.6,366 621.6,318.9 614.9,318.9 614.2,317.5 614.9,316.2 621.6,316.2" fill="#fdcccc" stroke="none"/>
<polygon points="621.6,313.3 626.6,313.3 626.6,370 625.3,388.5 623.3,388.5 621.6,375.5 614.2,375.5 612.5,388.5 610.8,388.5 610,370 610,333.8 593,333.8 592,332.8 592,324.4 593,323.4 614.2,323.4 614.2,366 621.6,366 621.6,318.9 614.9,318.9 614.2,317.5 614.9,316.2 621.6,316.2" fill="url(#hImpB)" stroke="none"/>
<polygon points="621.6,313.3 626.6,313.3 626.6,370 625.3,388.5 623.3,388.5 621.6,375.5 614.2,375.5 612.5,388.5 610.8,388.5 610,370 610,333.8 593,333.8 592,332.8 592,324.4 593,323.4 614.2,323.4 614.2,366 621.6,366 621.6,318.9 614.9,318.9 614.2,317.5 614.9,316.2 621.6,316.2" fill="none" stroke="#5a0a0a" stroke-width="1.2" stroke-linejoin="round" />
<polygon points="614.5,394.9 621.8,394.9 621.8,388.4 614.5,388.4" fill="#deded4" stroke="none"/>
<polygon points="604.5,418.2 607.5,418.2 607.5,398.4 630.3,398.4 630.3,321.4 628,321.4 628,389.7 621.8,389.7 621.8,394.9 614.5,394.9 614.5,389.7 604.5,389.7" fill="#ffffb6" stroke="none"/>
<polygon points="604.5,418.2 607.5,418.2 607.5,398.4 630.3,398.4 630.3,321.4 628,321.4 628,389.7 621.8,389.7 621.8,394.9 614.5,394.9 614.5,389.7 604.5,389.7" fill="url(#hYel)" stroke="none"/>
<polygon points="604.5,418.2 607.5,418.2 607.5,398.4 630.3,398.4 630.3,321.4 628,321.4 628,389.7 621.8,389.7 621.8,394.9 614.5,394.9 614.5,389.7 604.5,389.7" fill="none" stroke="#55550a" stroke-width="1" stroke-linejoin="round" />
<line x1="604.9" y1="388.9" x2="604.9" y2="418.6" stroke="#5a0a0a" stroke-width="1.3"/>
<path d="M686 200.9 V196 Q691.4 194 694.1 200.9 Z" fill="#ebebe0" stroke="none" />
<rect x="686" y="201.2" width="8.1" height="6.2" fill="#55550a" />
<rect x="686" y="240" width="8.1" height="5.6" fill="#ebebe0" />
<rect x="686" y="246" width="8.1" height="6.5" fill="#55550a" />
<polygon points="686,252.5 694.1,252.5 686,263" fill="#dcd9cf" stroke="none"/>
<rect x="660.7" y="196" width="4.7" height="54" fill="#e3e3d6" />
<polygon points="667,196.2 680.6,196.2 682.1,215 682.1,271.1 677.1,271.1 677.1,268.2 670.4,268.2 669.7,266.8 670.4,265.5 677.1,265.5 677.1,245.5 669.7,245.5 669.7,261 648.5,261 647.5,260 647.5,251.6 648.5,250.6 665.5,250.6 665.5,215" fill="#fdcccc" stroke="none"/>
<polygon points="667,196.2 680.6,196.2 682.1,215 682.1,271.1 677.1,271.1 677.1,268.2 670.4,268.2 669.7,266.8 670.4,265.5 677.1,265.5 677.1,245.5 669.7,245.5 669.7,261 648.5,261 647.5,260 647.5,251.6 648.5,250.6 665.5,250.6 665.5,215" fill="url(#hImpD)" stroke="none"/>
<polygon points="667,196.2 680.6,196.2 682.1,215 682.1,271.1 677.1,271.1 677.1,268.2 670.4,268.2 669.7,266.8 670.4,265.5 677.1,265.5 677.1,245.5 669.7,245.5 669.7,261 648.5,261 647.5,260 647.5,251.6 648.5,250.6 665.5,250.6 665.5,215" fill="none" stroke="#5a0a0a" stroke-width="1.2" stroke-linejoin="round" />
<polygon points="669.7,200.5 677.1,200.5 677.1,240.1 669.7,240.1" fill="#e3e3d6" stroke="none"/>
<polygon points="669.7,200.5 677.1,200.5 677.1,240.1 669.7,240.1" fill="none" stroke="#5a0a0a" stroke-width="1" stroke-linejoin="round" />
<polygon points="670,184.9 677.3,184.9 677.3,196 670,196" fill="#d9d9cf" stroke="none"/>
<polygon points="660,166.2 663,166.2 663,180.4 685.8,180.4 685.8,263 683.5,263 683.5,194.7 677.3,194.7 677.3,184.9 670,184.9 670,194.7 660,194.7" fill="#ffffb6" stroke="none"/>
<polygon points="660,166.2 663,166.2 663,180.4 685.8,180.4 685.8,263 683.5,263 683.5,194.7 677.3,194.7 677.3,184.9 670,184.9 670,194.7 660,194.7" fill="url(#hYel)" stroke="none"/>
<polygon points="660,166.2 663,166.2 663,180.4 685.8,180.4 685.8,263 683.5,263 683.5,194.7 677.3,194.7 677.3,184.9 670,184.9 670,194.7 660,194.7" fill="none" stroke="#55550a" stroke-width="1" stroke-linejoin="round" />
<line x1="660.4" y1="165.8" x2="660.4" y2="195.5" stroke="#5a0a0a" stroke-width="1.3"/>
<rect x="686" y="314" width="8.1" height="75.8" fill="#f5f7e5" />
<rect x="686" y="322.1" width="8.1" height="6.6" fill="#55550a" />
<polygon points="686,386 693.4,386 691.7,393.3 686,393.3" fill="#55550a" stroke="none"/>
<rect x="660.7" y="334.4" width="4.7" height="54" fill="#dfe1d5" />
<polygon points="669.7,375.5 677.1,375.5 678.7,388.5 677.5,394.5 669.7,394.5 668.1,388.5" fill="#d9d9d0" stroke="none"/>
<rect x="669.7" y="318.9" width="7.4" height="47.1" fill="#f9e9ea" />
<polygon points="677.1,313.3 682.1,313.3 682.1,370 680.8,388.5 678.8,388.5 677.1,375.5 669.7,375.5 668,388.5 666.3,388.5 665.5,370 665.5,333.8 648.5,333.8 647.5,332.8 647.5,324.4 648.5,323.4 669.7,323.4 669.7,366 677.1,366 677.1,318.9 670.4,318.9 669.7,317.5 670.4,316.2 677.1,316.2" fill="#fdcccc" stroke="none"/>
<polygon points="677.1,313.3 682.1,313.3 682.1,370 680.8,388.5 678.8,388.5 677.1,375.5 669.7,375.5 668,388.5 666.3,388.5 665.5,370 665.5,333.8 648.5,333.8 647.5,332.8 647.5,324.4 648.5,323.4 669.7,323.4 669.7,366 677.1,366 677.1,318.9 670.4,318.9 669.7,317.5 670.4,316.2 677.1,316.2" fill="url(#hImpD)" stroke="none"/>
<polygon points="677.1,313.3 682.1,313.3 682.1,370 680.8,388.5 678.8,388.5 677.1,375.5 669.7,375.5 668,388.5 666.3,388.5 665.5,370 665.5,333.8 648.5,333.8 647.5,332.8 647.5,324.4 648.5,323.4 669.7,323.4 669.7,366 677.1,366 677.1,318.9 670.4,318.9 669.7,317.5 670.4,316.2 677.1,316.2" fill="none" stroke="#5a0a0a" stroke-width="1.2" stroke-linejoin="round" />
<polygon points="670,394.9 677.3,394.9 677.3,388.4 670,388.4" fill="#deded4" stroke="none"/>
<polygon points="660,418.2 663,418.2 663,398.4 685.8,398.4 685.8,321.4 683.5,321.4 683.5,389.7 677.3,389.7 677.3,394.9 670,394.9 670,389.7 660,389.7" fill="#ffffb6" stroke="none"/>
<polygon points="660,418.2 663,418.2 663,398.4 685.8,398.4 685.8,321.4 683.5,321.4 683.5,389.7 677.3,389.7 677.3,394.9 670,394.9 670,389.7 660,389.7" fill="url(#hYel)" stroke="none"/>
<polygon points="660,418.2 663,418.2 663,398.4 685.8,398.4 685.8,321.4 683.5,321.4 683.5,389.7 677.3,389.7 677.3,394.9 670,394.9 670,389.7 660,389.7" fill="none" stroke="#55550a" stroke-width="1" stroke-linejoin="round" />
<line x1="660.4" y1="388.9" x2="660.4" y2="418.6" stroke="#5a0a0a" stroke-width="1.3"/>
<path d="M741.6 200.9 V196 Q747 194 749.7 200.9 Z" fill="#ebebe0" stroke="none" />
<rect x="741.6" y="201.2" width="8.1" height="6.2" fill="#55550a" />
<rect x="741.6" y="240" width="8.1" height="5.6" fill="#ebebe0" />
<rect x="741.6" y="246" width="8.1" height="6.5" fill="#55550a" />
<polygon points="741.6,252.5 749.7,252.5 741.6,263" fill="#dcd9cf" stroke="none"/>
<rect x="716.3" y="196" width="4.7" height="54" fill="#e3e3d6" />
<polygon points="722.6,196.2 736.2,196.2 737.7,215 737.7,271.1 732.7,271.1 732.7,268.2 726,268.2 725.3,266.8 726,265.5 732.7,265.5 732.7,245.5 725.3,245.5 725.3,261 704.1,261 703.1,260 703.1,251.6 704.1,250.6 721.1,250.6 721.1,215" fill="#fdcccc" stroke="none"/>
<polygon points="722.6,196.2 736.2,196.2 737.7,215 737.7,271.1 732.7,271.1 732.7,268.2 726,268.2 725.3,266.8 726,265.5 732.7,265.5 732.7,245.5 725.3,245.5 725.3,261 704.1,261 703.1,260 703.1,251.6 704.1,250.6 721.1,250.6 721.1,215" fill="url(#hImpC)" stroke="none"/>
<polygon points="722.6,196.2 736.2,196.2 737.7,215 737.7,271.1 732.7,271.1 732.7,268.2 726,268.2 725.3,266.8 726,265.5 732.7,265.5 732.7,245.5 725.3,245.5 725.3,261 704.1,261 703.1,260 703.1,251.6 704.1,250.6 721.1,250.6 721.1,215" fill="none" stroke="#5a0a0a" stroke-width="1.2" stroke-linejoin="round" />
<polygon points="725.3,200.5 732.7,200.5 732.7,240.1 725.3,240.1" fill="#e3e3d6" stroke="none"/>
<polygon points="725.3,200.5 732.7,200.5 732.7,240.1 725.3,240.1" fill="none" stroke="#5a0a0a" stroke-width="1" stroke-linejoin="round" />
<polygon points="725.6,184.9 732.9,184.9 732.9,196 725.6,196" fill="#d9d9cf" stroke="none"/>
<polygon points="715.6,166.2 718.6,166.2 718.6,180.4 741.4,180.4 741.4,263 739.1,263 739.1,194.7 732.9,194.7 732.9,184.9 725.6,184.9 725.6,194.7 715.6,194.7" fill="#ffffb6" stroke="none"/>
<polygon points="715.6,166.2 718.6,166.2 718.6,180.4 741.4,180.4 741.4,263 739.1,263 739.1,194.7 732.9,194.7 732.9,184.9 725.6,184.9 725.6,194.7 715.6,194.7" fill="url(#hYel)" stroke="none"/>
<polygon points="715.6,166.2 718.6,166.2 718.6,180.4 741.4,180.4 741.4,263 739.1,263 739.1,194.7 732.9,194.7 732.9,184.9 725.6,184.9 725.6,194.7 715.6,194.7" fill="none" stroke="#55550a" stroke-width="1" stroke-linejoin="round" />
<line x1="716" y1="165.8" x2="716" y2="195.5" stroke="#5a0a0a" stroke-width="1.3"/>
<rect x="741.6" y="314" width="8.1" height="75.8" fill="#f5f7e5" />
<rect x="741.6" y="322.1" width="8.1" height="6.6" fill="#55550a" />
<polygon points="741.6,386 749,386 747.3,393.3 741.6,393.3" fill="#55550a" stroke="none"/>
<rect x="716.3" y="334.4" width="4.7" height="54" fill="#dfe1d5" />
<polygon points="725.3,375.5 732.7,375.5 734.3,388.5 733.1,394.5 725.3,394.5 723.7,388.5" fill="#d9d9d0" stroke="none"/>
<rect x="725.3" y="318.9" width="7.4" height="47.1" fill="#f9e9ea" />
<polygon points="732.7,313.3 737.7,313.3 737.7,370 736.4,388.5 734.4,388.5 732.7,375.5 725.3,375.5 723.6,388.5 721.9,388.5 721.1,370 721.1,333.8 704.1,333.8 703.1,332.8 703.1,324.4 704.1,323.4 725.3,323.4 725.3,366 732.7,366 732.7,318.9 726,318.9 725.3,317.5 726,316.2 732.7,316.2" fill="#fdcccc" stroke="none"/>
<polygon points="732.7,313.3 737.7,313.3 737.7,370 736.4,388.5 734.4,388.5 732.7,375.5 725.3,375.5 723.6,388.5 721.9,388.5 721.1,370 721.1,333.8 704.1,333.8 703.1,332.8 703.1,324.4 704.1,323.4 725.3,323.4 725.3,366 732.7,366 732.7,318.9 726,318.9 725.3,317.5 726,316.2 732.7,316.2" fill="url(#hImpC)" stroke="none"/>
<polygon points="732.7,313.3 737.7,313.3 737.7,370 736.4,388.5 734.4,388.5 732.7,375.5 725.3,375.5 723.6,388.5 721.9,388.5 721.1,370 721.1,333.8 704.1,333.8 703.1,332.8 703.1,324.4 704.1,323.4 725.3,323.4 725.3,366 732.7,366 732.7,318.9 726,318.9 725.3,317.5 726,316.2 732.7,316.2" fill="none" stroke="#5a0a0a" stroke-width="1.2" stroke-linejoin="round" />
<polygon points="725.6,394.9 732.9,394.9 732.9,388.4 725.6,388.4" fill="#deded4" stroke="none"/>
<polygon points="715.6,418.2 718.6,418.2 718.6,398.4 741.4,398.4 741.4,321.4 739.1,321.4 739.1,389.7 732.9,389.7 732.9,394.9 725.6,394.9 725.6,389.7 715.6,389.7" fill="#ffffb6" stroke="none"/>
<polygon points="715.6,418.2 718.6,418.2 718.6,398.4 741.4,398.4 741.4,321.4 739.1,321.4 739.1,389.7 732.9,389.7 732.9,394.9 725.6,394.9 725.6,389.7 715.6,389.7" fill="url(#hYel)" stroke="none"/>
<polygon points="715.6,418.2 718.6,418.2 718.6,398.4 741.4,398.4 741.4,321.4 739.1,321.4 739.1,389.7 732.9,389.7 732.9,394.9 725.6,394.9 725.6,389.7 715.6,389.7" fill="none" stroke="#55550a" stroke-width="1" stroke-linejoin="round" />
<line x1="716" y1="388.9" x2="716" y2="418.6" stroke="#5a0a0a" stroke-width="1.3"/>
<path d="M797.1 200.9 V196 Q802.5 194 805.2 200.9 Z" fill="#ebebe0" stroke="none" />
<rect x="797.1" y="201.2" width="8.1" height="6.2" fill="#55550a" />
<rect x="797.1" y="240" width="8.1" height="5.6" fill="#ebebe0" />
<rect x="797.1" y="246" width="8.1" height="6.5" fill="#55550a" />
<polygon points="797.1,252.5 805.2,252.5 797.1,263" fill="#dcd9cf" stroke="none"/>
<rect x="771.8" y="196" width="4.7" height="54" fill="#e3e3d6" />
<polygon points="778.1,196.2 791.7,196.2 793.2,215 793.2,271.1 788.2,271.1 788.2,268.2 781.5,268.2 780.8,266.8 781.5,265.5 788.2,265.5 788.2,245.5 780.8,245.5 780.8,261 759.6,261 758.6,260 758.6,251.6 759.6,250.6 776.6,250.6 776.6,215" fill="#fdcccc" stroke="none"/>
<polygon points="778.1,196.2 791.7,196.2 793.2,215 793.2,271.1 788.2,271.1 788.2,268.2 781.5,268.2 780.8,266.8 781.5,265.5 788.2,265.5 788.2,245.5 780.8,245.5 780.8,261 759.6,261 758.6,260 758.6,251.6 759.6,250.6 776.6,250.6 776.6,215" fill="url(#hImpA)" stroke="none"/>
<polygon points="778.1,196.2 791.7,196.2 793.2,215 793.2,271.1 788.2,271.1 788.2,268.2 781.5,268.2 780.8,266.8 781.5,265.5 788.2,265.5 788.2,245.5 780.8,245.5 780.8,261 759.6,261 758.6,260 758.6,251.6 759.6,250.6 776.6,250.6 776.6,215" fill="none" stroke="#5a0a0a" stroke-width="1.2" stroke-linejoin="round" />
<polygon points="780.8,200.5 788.2,200.5 788.2,240.1 780.8,240.1" fill="#e3e3d6" stroke="none"/>
<polygon points="780.8,200.5 788.2,200.5 788.2,240.1 780.8,240.1" fill="none" stroke="#5a0a0a" stroke-width="1" stroke-linejoin="round" />
<polygon points="781.1,184.9 788.4,184.9 788.4,196 781.1,196" fill="#d9d9cf" stroke="none"/>
<polygon points="771.1,166.2 774.1,166.2 774.1,180.4 796.9,180.4 796.9,263 794.6,263 794.6,194.7 788.4,194.7 788.4,184.9 781.1,184.9 781.1,194.7 771.1,194.7" fill="#ffffb6" stroke="none"/>
<polygon points="771.1,166.2 774.1,166.2 774.1,180.4 796.9,180.4 796.9,263 794.6,263 794.6,194.7 788.4,194.7 788.4,184.9 781.1,184.9 781.1,194.7 771.1,194.7" fill="url(#hYel)" stroke="none"/>
<polygon points="771.1,166.2 774.1,166.2 774.1,180.4 796.9,180.4 796.9,263 794.6,263 794.6,194.7 788.4,194.7 788.4,184.9 781.1,184.9 781.1,194.7 771.1,194.7" fill="none" stroke="#55550a" stroke-width="1" stroke-linejoin="round" />
<line x1="771.5" y1="165.8" x2="771.5" y2="195.5" stroke="#5a0a0a" stroke-width="1.3"/>
<rect x="797.1" y="314" width="8.1" height="75.8" fill="#f5f7e5" />
<rect x="797.1" y="322.1" width="8.1" height="6.6" fill="#55550a" />
<polygon points="797.1,386 804.5,386 802.8,393.3 797.1,393.3" fill="#55550a" stroke="none"/>
<rect x="771.8" y="334.4" width="4.7" height="54" fill="#dfe1d5" />
<polygon points="780.8,375.5 788.2,375.5 789.8,388.5 788.6,394.5 780.8,394.5 779.2,388.5" fill="#d9d9d0" stroke="none"/>
<rect x="780.8" y="318.9" width="7.4" height="47.1" fill="#f9e9ea" />
<polygon points="788.2,313.3 793.2,313.3 793.2,370 791.9,388.5 789.9,388.5 788.2,375.5 780.8,375.5 779.1,388.5 777.4,388.5 776.6,370 776.6,333.8 759.6,333.8 758.6,332.8 758.6,324.4 759.6,323.4 780.8,323.4 780.8,366 788.2,366 788.2,318.9 781.5,318.9 780.8,317.5 781.5,316.2 788.2,316.2" fill="#fdcccc" stroke="none"/>
<polygon points="788.2,313.3 793.2,313.3 793.2,370 791.9,388.5 789.9,388.5 788.2,375.5 780.8,375.5 779.1,388.5 777.4,388.5 776.6,370 776.6,333.8 759.6,333.8 758.6,332.8 758.6,324.4 759.6,323.4 780.8,323.4 780.8,366 788.2,366 788.2,318.9 781.5,318.9 780.8,317.5 781.5,316.2 788.2,316.2" fill="url(#hImpA)" stroke="none"/>
<polygon points="788.2,313.3 793.2,313.3 793.2,370 791.9,388.5 789.9,388.5 788.2,375.5 780.8,375.5 779.1,388.5 777.4,388.5 776.6,370 776.6,333.8 759.6,333.8 758.6,332.8 758.6,324.4 759.6,323.4 780.8,323.4 780.8,366 788.2,366 788.2,318.9 781.5,318.9 780.8,317.5 781.5,316.2 788.2,316.2" fill="none" stroke="#5a0a0a" stroke-width="1.2" stroke-linejoin="round" />
<polygon points="781.1,394.9 788.4,394.9 788.4,388.4 781.1,388.4" fill="#deded4" stroke="none"/>
<polygon points="771.1,418.2 774.1,418.2 774.1,398.4 796.9,398.4 796.9,321.4 794.6,321.4 794.6,389.7 788.4,389.7 788.4,394.9 781.1,394.9 781.1,389.7 771.1,389.7" fill="#ffffb6" stroke="none"/>
<polygon points="771.1,418.2 774.1,418.2 774.1,398.4 796.9,398.4 796.9,321.4 794.6,321.4 794.6,389.7 788.4,389.7 788.4,394.9 781.1,394.9 781.1,389.7 771.1,389.7" fill="url(#hYel)" stroke="none"/>
<polygon points="771.1,418.2 774.1,418.2 774.1,398.4 796.9,398.4 796.9,321.4 794.6,321.4 794.6,389.7 788.4,389.7 788.4,394.9 781.1,394.9 781.1,389.7 771.1,389.7" fill="none" stroke="#55550a" stroke-width="1" stroke-linejoin="round" />
<line x1="771.5" y1="388.9" x2="771.5" y2="418.6" stroke="#5a0a0a" stroke-width="1.3"/>
<path d="M852.6 200.9 V196 Q858 194 860.7 200.9 Z" fill="#ebebe0" stroke="none" />
<rect x="852.6" y="201.2" width="8.1" height="6.2" fill="#55550a" />
<rect x="852.6" y="240" width="8.1" height="5.6" fill="#ebebe0" />
<rect x="852.6" y="246" width="8.1" height="6.5" fill="#55550a" />
<polygon points="852.6,252.5 860.7,252.5 852.6,263" fill="#dcd9cf" stroke="none"/>
<rect x="827.3" y="196" width="4.7" height="54" fill="#e3e3d6" />
<polygon points="833.6,196.2 847.2,196.2 848.7,215 848.7,271.1 843.7,271.1 843.7,268.2 837,268.2 836.3,266.8 837,265.5 843.7,265.5 843.7,245.5 836.3,245.5 836.3,261 815.1,261 814.1,260 814.1,251.6 815.1,250.6 832.1,250.6 832.1,215" fill="#fdcccc" stroke="none"/>
<polygon points="833.6,196.2 847.2,196.2 848.7,215 848.7,271.1 843.7,271.1 843.7,268.2 837,268.2 836.3,266.8 837,265.5 843.7,265.5 843.7,245.5 836.3,245.5 836.3,261 815.1,261 814.1,260 814.1,251.6 815.1,250.6 832.1,250.6 832.1,215" fill="url(#hImpC)" stroke="none"/>
<polygon points="833.6,196.2 847.2,196.2 848.7,215 848.7,271.1 843.7,271.1 843.7,268.2 837,268.2 836.3,266.8 837,265.5 843.7,265.5 843.7,245.5 836.3,245.5 836.3,261 815.1,261 814.1,260 814.1,251.6 815.1,250.6 832.1,250.6 832.1,215" fill="none" stroke="#5a0a0a" stroke-width="1.2" stroke-linejoin="round" />
<polygon points="836.3,200.5 843.7,200.5 843.7,240.1 836.3,240.1" fill="#e3e3d6" stroke="none"/>
<polygon points="836.3,200.5 843.7,200.5 843.7,240.1 836.3,240.1" fill="none" stroke="#5a0a0a" stroke-width="1" stroke-linejoin="round" />
<polygon points="836.6,184.9 843.9,184.9 843.9,196 836.6,196" fill="#d9d9cf" stroke="none"/>
<polygon points="826.6,166.2 829.6,166.2 829.6,180.4 852.4,180.4 852.4,263 850.1,263 850.1,194.7 843.9,194.7 843.9,184.9 836.6,184.9 836.6,194.7 826.6,194.7" fill="#ffffb6" stroke="none"/>
<polygon points="826.6,166.2 829.6,166.2 829.6,180.4 852.4,180.4 852.4,263 850.1,263 850.1,194.7 843.9,194.7 843.9,184.9 836.6,184.9 836.6,194.7 826.6,194.7" fill="url(#hYel)" stroke="none"/>
<polygon points="826.6,166.2 829.6,166.2 829.6,180.4 852.4,180.4 852.4,263 850.1,263 850.1,194.7 843.9,194.7 843.9,184.9 836.6,184.9 836.6,194.7 826.6,194.7" fill="none" stroke="#55550a" stroke-width="1" stroke-linejoin="round" />
<line x1="827" y1="165.8" x2="827" y2="195.5" stroke="#5a0a0a" stroke-width="1.3"/>
<rect x="852.6" y="314" width="8.1" height="75.8" fill="#f5f7e5" />
<rect x="852.6" y="322.1" width="8.1" height="6.6" fill="#55550a" />
<polygon points="852.6,386 860,386 858.3,393.3 852.6,393.3" fill="#55550a" stroke="none"/>
<rect x="827.3" y="334.4" width="4.7" height="54" fill="#dfe1d5" />
<polygon points="836.3,375.5 843.7,375.5 845.3,388.5 844.1,394.5 836.3,394.5 834.7,388.5" fill="#d9d9d0" stroke="none"/>
<rect x="836.3" y="318.9" width="7.4" height="47.1" fill="#f9e9ea" />
<polygon points="843.7,313.3 848.7,313.3 848.7,370 847.4,388.5 845.4,388.5 843.7,375.5 836.3,375.5 834.6,388.5 832.9,388.5 832.1,370 832.1,333.8 815.1,333.8 814.1,332.8 814.1,324.4 815.1,323.4 836.3,323.4 836.3,366 843.7,366 843.7,318.9 837,318.9 836.3,317.5 837,316.2 843.7,316.2" fill="#fdcccc" stroke="none"/>
<polygon points="843.7,313.3 848.7,313.3 848.7,370 847.4,388.5 845.4,388.5 843.7,375.5 836.3,375.5 834.6,388.5 832.9,388.5 832.1,370 832.1,333.8 815.1,333.8 814.1,332.8 814.1,324.4 815.1,323.4 836.3,323.4 836.3,366 843.7,366 843.7,318.9 837,318.9 836.3,317.5 837,316.2 843.7,316.2" fill="url(#hImpC)" stroke="none"/>
<polygon points="843.7,313.3 848.7,313.3 848.7,370 847.4,388.5 845.4,388.5 843.7,375.5 836.3,375.5 834.6,388.5 832.9,388.5 832.1,370 832.1,333.8 815.1,333.8 814.1,332.8 814.1,324.4 815.1,323.4 836.3,323.4 836.3,366 843.7,366 843.7,318.9 837,318.9 836.3,317.5 837,316.2 843.7,316.2" fill="none" stroke="#5a0a0a" stroke-width="1.2" stroke-linejoin="round" />
<polygon points="836.6,394.9 843.9,394.9 843.9,388.4 836.6,388.4" fill="#deded4" stroke="none"/>
<polygon points="826.6,418.2 829.6,418.2 829.6,398.4 852.4,398.4 852.4,321.4 850.1,321.4 850.1,389.7 843.9,389.7 843.9,394.9 836.6,394.9 836.6,389.7 826.6,389.7" fill="#ffffb6" stroke="none"/>
<polygon points="826.6,418.2 829.6,418.2 829.6,398.4 852.4,398.4 852.4,321.4 850.1,321.4 850.1,389.7 843.9,389.7 843.9,394.9 836.6,394.9 836.6,389.7 826.6,389.7" fill="url(#hYel)" stroke="none"/>
<polygon points="826.6,418.2 829.6,418.2 829.6,398.4 852.4,398.4 852.4,321.4 850.1,321.4 850.1,389.7 843.9,389.7 843.9,394.9 836.6,394.9 836.6,389.7 826.6,389.7" fill="none" stroke="#55550a" stroke-width="1" stroke-linejoin="round" />
<line x1="827" y1="388.9" x2="827" y2="418.6" stroke="#5a0a0a" stroke-width="1.3"/>
<path d="M908.2 200.9 V196 Q913.6 194 916.3 200.9 Z" fill="#ebebe0" stroke="none" />
<rect x="908.2" y="201.2" width="8.1" height="6.2" fill="#55550a" />
<rect x="908.2" y="240" width="8.1" height="5.6" fill="#ebebe0" />
<rect x="908.2" y="246" width="8.1" height="6.5" fill="#55550a" />
<polygon points="908.2,252.5 916.3,252.5 908.2,263" fill="#dcd9cf" stroke="none"/>
<rect x="882.9" y="196" width="4.7" height="54" fill="#e3e3d6" />
<polygon points="889.2,196.2 902.8,196.2 904.3,215 904.3,271.1 899.3,271.1 899.3,268.2 892.6,268.2 891.9,266.8 892.6,265.5 899.3,265.5 899.3,245.5 891.9,245.5 891.9,261 870.7,261 869.7,260 869.7,251.6 870.7,250.6 887.7,250.6 887.7,215" fill="#fdcccc" stroke="none"/>
<polygon points="889.2,196.2 902.8,196.2 904.3,215 904.3,271.1 899.3,271.1 899.3,268.2 892.6,268.2 891.9,266.8 892.6,265.5 899.3,265.5 899.3,245.5 891.9,245.5 891.9,261 870.7,261 869.7,260 869.7,251.6 870.7,250.6 887.7,250.6 887.7,215" fill="url(#hImpB)" stroke="none"/>
<polygon points="889.2,196.2 902.8,196.2 904.3,215 904.3,271.1 899.3,271.1 899.3,268.2 892.6,268.2 891.9,266.8 892.6,265.5 899.3,265.5 899.3,245.5 891.9,245.5 891.9,261 870.7,261 869.7,260 869.7,251.6 870.7,250.6 887.7,250.6 887.7,215" fill="none" stroke="#5a0a0a" stroke-width="1.2" stroke-linejoin="round" />
<polygon points="891.9,200.5 899.3,200.5 899.3,240.1 891.9,240.1" fill="#e3e3d6" stroke="none"/>
<polygon points="891.9,200.5 899.3,200.5 899.3,240.1 891.9,240.1" fill="none" stroke="#5a0a0a" stroke-width="1" stroke-linejoin="round" />
<polygon points="892.2,184.9 899.5,184.9 899.5,196 892.2,196" fill="#d9d9cf" stroke="none"/>
<polygon points="882.2,166.2 885.2,166.2 885.2,180.4 908,180.4 908,263 905.7,263 905.7,194.7 899.5,194.7 899.5,184.9 892.2,184.9 892.2,194.7 882.2,194.7" fill="#ffffb6" stroke="none"/>
<polygon points="882.2,166.2 885.2,166.2 885.2,180.4 908,180.4 908,263 905.7,263 905.7,194.7 899.5,194.7 899.5,184.9 892.2,184.9 892.2,194.7 882.2,194.7" fill="url(#hYel)" stroke="none"/>
<polygon points="882.2,166.2 885.2,166.2 885.2,180.4 908,180.4 908,263 905.7,263 905.7,194.7 899.5,194.7 899.5,184.9 892.2,184.9 892.2,194.7 882.2,194.7" fill="none" stroke="#55550a" stroke-width="1" stroke-linejoin="round" />
<line x1="882.6" y1="165.8" x2="882.6" y2="195.5" stroke="#5a0a0a" stroke-width="1.3"/>
<rect x="908.2" y="314" width="8.1" height="75.8" fill="#f5f7e5" />
<rect x="908.2" y="322.1" width="8.1" height="6.6" fill="#55550a" />
<polygon points="908.2,386 915.6,386 913.9,393.3 908.2,393.3" fill="#55550a" stroke="none"/>
<rect x="882.9" y="334.4" width="4.7" height="54" fill="#dfe1d5" />
<polygon points="891.9,375.5 899.3,375.5 900.9,388.5 899.7,394.5 891.9,394.5 890.3,388.5" fill="#d9d9d0" stroke="none"/>
<rect x="891.9" y="318.9" width="7.4" height="47.1" fill="#f9e9ea" />
<polygon points="899.3,313.3 904.3,313.3 904.3,370 903,388.5 901,388.5 899.3,375.5 891.9,375.5 890.2,388.5 888.5,388.5 887.7,370 887.7,333.8 870.7,333.8 869.7,332.8 869.7,324.4 870.7,323.4 891.9,323.4 891.9,366 899.3,366 899.3,318.9 892.6,318.9 891.9,317.5 892.6,316.2 899.3,316.2" fill="#fdcccc" stroke="none"/>
<polygon points="899.3,313.3 904.3,313.3 904.3,370 903,388.5 901,388.5 899.3,375.5 891.9,375.5 890.2,388.5 888.5,388.5 887.7,370 887.7,333.8 870.7,333.8 869.7,332.8 869.7,324.4 870.7,323.4 891.9,323.4 891.9,366 899.3,366 899.3,318.9 892.6,318.9 891.9,317.5 892.6,316.2 899.3,316.2" fill="url(#hImpB)" stroke="none"/>
<polygon points="899.3,313.3 904.3,313.3 904.3,370 903,388.5 901,388.5 899.3,375.5 891.9,375.5 890.2,388.5 888.5,388.5 887.7,370 887.7,333.8 870.7,333.8 869.7,332.8 869.7,324.4 870.7,323.4 891.9,323.4 891.9,366 899.3,366 899.3,318.9 892.6,318.9 891.9,317.5 892.6,316.2 899.3,316.2" fill="none" stroke="#5a0a0a" stroke-width="1.2" stroke-linejoin="round" />
<polygon points="892.2,394.9 899.5,394.9 899.5,388.4 892.2,388.4" fill="#deded4" stroke="none"/>
<polygon points="882.2,418.2 885.2,418.2 885.2,398.4 908,398.4 908,321.4 905.7,321.4 905.7,389.7 899.5,389.7 899.5,394.9 892.2,394.9 892.2,389.7 882.2,389.7" fill="#ffffb6" stroke="none"/>
<polygon points="882.2,418.2 885.2,418.2 885.2,398.4 908,398.4 908,321.4 905.7,321.4 905.7,389.7 899.5,389.7 899.5,394.9 892.2,394.9 892.2,389.7 882.2,389.7" fill="url(#hYel)" stroke="none"/>
<polygon points="882.2,418.2 885.2,418.2 885.2,398.4 908,398.4 908,321.4 905.7,321.4 905.7,389.7 899.5,389.7 899.5,394.9 892.2,394.9 892.2,389.7 882.2,389.7" fill="none" stroke="#55550a" stroke-width="1" stroke-linejoin="round" />
<line x1="882.6" y1="388.9" x2="882.6" y2="418.6" stroke="#5a0a0a" stroke-width="1.3"/>
<rect x="938.4" y="196" width="4.7" height="54" fill="#e3e3d6" />
<polygon points="944.7,196.2 958.3,196.2 959.8,215 959.8,271.1 954.8,271.1 954.8,268.2 948.1,268.2 947.4,266.8 948.1,265.5 954.8,265.5 954.8,245.5 947.4,245.5 947.4,261 926.2,261 925.2,260 925.2,251.6 926.2,250.6 943.2,250.6 943.2,215" fill="#fdcccc" stroke="none"/>
<polygon points="944.7,196.2 958.3,196.2 959.8,215 959.8,271.1 954.8,271.1 954.8,268.2 948.1,268.2 947.4,266.8 948.1,265.5 954.8,265.5 954.8,245.5 947.4,245.5 947.4,261 926.2,261 925.2,260 925.2,251.6 926.2,250.6 943.2,250.6 943.2,215" fill="url(#hImpC)" stroke="none"/>
<polygon points="944.7,196.2 958.3,196.2 959.8,215 959.8,271.1 954.8,271.1 954.8,268.2 948.1,268.2 947.4,266.8 948.1,265.5 954.8,265.5 954.8,245.5 947.4,245.5 947.4,261 926.2,261 925.2,260 925.2,251.6 926.2,250.6 943.2,250.6 943.2,215" fill="none" stroke="#5a0a0a" stroke-width="1.2" stroke-linejoin="round" />
<polygon points="947.4,200.5 954.8,200.5 954.8,240.1 947.4,240.1" fill="#e3e3d6" stroke="none"/>
<polygon points="947.4,200.5 954.8,200.5 954.8,240.1 947.4,240.1" fill="none" stroke="#5a0a0a" stroke-width="1" stroke-linejoin="round" />
<rect x="938.4" y="334.4" width="4.7" height="54" fill="#dfe1d5" />
<polygon points="947.4,375.5 954.8,375.5 956.4,388.5 955.2,394.5 947.4,394.5 945.8,388.5" fill="#d9d9d0" stroke="none"/>
<rect x="947.4" y="318.9" width="7.4" height="47.1" fill="#f9e9ea" />
<polygon points="954.8,313.3 959.8,313.3 959.8,370 958.5,388.5 956.5,388.5 954.8,375.5 947.4,375.5 945.7,388.5 944,388.5 943.2,370 943.2,333.8 926.2,333.8 925.2,332.8 925.2,324.4 926.2,323.4 947.4,323.4 947.4,366 954.8,366 954.8,318.9 948.1,318.9 947.4,317.5 948.1,316.2 954.8,316.2" fill="#fdcccc" stroke="none"/>
<polygon points="954.8,313.3 959.8,313.3 959.8,370 958.5,388.5 956.5,388.5 954.8,375.5 947.4,375.5 945.7,388.5 944,388.5 943.2,370 943.2,333.8 926.2,333.8 925.2,332.8 925.2,324.4 926.2,323.4 947.4,323.4 947.4,366 954.8,366 954.8,318.9 948.1,318.9 947.4,317.5 948.1,316.2 954.8,316.2" fill="url(#hImpC)" stroke="none"/>
<polygon points="954.8,313.3 959.8,313.3 959.8,370 958.5,388.5 956.5,388.5 954.8,375.5 947.4,375.5 945.7,388.5 944,388.5 943.2,370 943.2,333.8 926.2,333.8 925.2,332.8 925.2,324.4 926.2,323.4 947.4,323.4 947.4,366 954.8,366 954.8,318.9 948.1,318.9 947.4,317.5 948.1,316.2 954.8,316.2" fill="none" stroke="#5a0a0a" stroke-width="1.2" stroke-linejoin="round" />
<polygon points="937.7,166.2 940.5,166.2 940.5,172.7 965.5,172.7 965.5,263.3 961.7,263.3 961.7,195 956.1,195 956.1,178.1 948.8,178.1 948.8,195 937.7,195" fill="#ffffb6" stroke="none"/>
<polygon points="937.7,166.2 940.5,166.2 940.5,172.7 965.5,172.7 965.5,263.3 961.7,263.3 961.7,195 956.1,195 956.1,178.1 948.8,178.1 948.8,195 937.7,195" fill="url(#hYel2)" stroke="none"/>
<polygon points="937.7,166.2 940.5,166.2 940.5,172.7 965.5,172.7 965.5,263.3 961.7,263.3 961.7,195 956.1,195 956.1,178.1 948.8,178.1 948.8,195 937.7,195" fill="none" stroke="#55550a" stroke-width="1" stroke-linejoin="round" />
<polygon points="937.7,418.2 940.5,418.2 940.5,406.4 965.5,406.4 965.5,321.1 961.7,321.1 961.7,389.4 956.1,389.4 956.1,401 948.8,401 948.8,389.4 937.7,389.4" fill="#ffffb6" stroke="none"/>
<polygon points="937.7,418.2 940.5,418.2 940.5,406.4 965.5,406.4 965.5,321.1 961.7,321.1 961.7,389.4 956.1,389.4 956.1,401 948.8,401 948.8,389.4 937.7,389.4" fill="url(#hYel2)" stroke="none"/>
<polygon points="937.7,418.2 940.5,418.2 940.5,406.4 965.5,406.4 965.5,321.1 961.7,321.1 961.7,389.4 956.1,389.4 956.1,401 948.8,401 948.8,389.4 937.7,389.4" fill="none" stroke="#55550a" stroke-width="1" stroke-linejoin="round" />
<polygon points="1039.9,271.1 1039.9,228.6 1039.9,228.6 1040.4,226.6 1041.9,225.1 1043.9,224.6 1061.1,224.6 1063.1,225.1 1064.6,226.6 1065.1,228.6 1065.1,271.1" fill="#fdcccc" stroke="none"/>
<polygon points="1039.9,271.1 1039.9,228.6 1039.9,228.6 1040.4,226.6 1041.9,225.1 1043.9,224.6 1061.1,224.6 1063.1,225.1 1064.6,226.6 1065.1,228.6 1065.1,271.1" fill="url(#hDrum)" stroke="none"/>
<polygon points="1039.9,271.1 1039.9,228.6 1039.9,228.6 1040.4,226.6 1041.9,225.1 1043.9,224.6 1061.1,224.6 1063.1,225.1 1064.6,226.6 1065.1,228.6 1065.1,271.1" fill="none" stroke="#5a0a0a" stroke-width="1.2" stroke-linejoin="round" />
<polygon points="1039.9,313.3 1039.9,355.8 1039.9,355.8 1040.4,357.8 1041.9,359.3 1043.9,359.8 1061.1,359.8 1063.1,359.3 1064.6,357.8 1065.1,355.8 1065.1,313.3" fill="#fdcccc" stroke="none"/>
<polygon points="1039.9,313.3 1039.9,355.8 1039.9,355.8 1040.4,357.8 1041.9,359.3 1043.9,359.8 1061.1,359.8 1063.1,359.3 1064.6,357.8 1065.1,355.8 1065.1,313.3" fill="url(#hDrum)" stroke="none"/>
<polygon points="1039.9,313.3 1039.9,355.8 1039.9,355.8 1040.4,357.8 1041.9,359.3 1043.9,359.8 1061.1,359.8 1063.1,359.3 1064.6,357.8 1065.1,355.8 1065.1,313.3" fill="none" stroke="#5a0a0a" stroke-width="1.2" stroke-linejoin="round" />
<rect x="1254" y="273" width="54.7" height="38.4" fill="#e6eee8" />
<rect x="360.9" y="270.9" width="64.6" height="6.5" fill="#fdcccc" />
<rect x="360.9" y="270.9" width="64.6" height="6.5" fill="url(#hImpD)"/>
<rect x="360.9" y="270.9" width="64.6" height="6.5" fill="none" stroke="#5a0a0a" stroke-width="1.2"/>
<rect x="360.9" y="307" width="64.6" height="6.5" fill="#fdcccc" />
<rect x="360.9" y="307" width="64.6" height="6.5" fill="url(#hImpD)"/>
<rect x="360.9" y="307" width="64.6" height="6.5" fill="none" stroke="#5a0a0a" stroke-width="1.2"/>
<rect x="425.5" y="271.1" width="55.5" height="6.3" fill="#fdcccc" />
<rect x="425.5" y="271.1" width="55.5" height="6.3" fill="url(#hImpA)"/>
<rect x="425.5" y="271.1" width="55.5" height="6.3" fill="none" stroke="#5a0a0a" stroke-width="1.2"/>
<rect x="425.5" y="307" width="55.5" height="6.3" fill="#fdcccc" />
<rect x="425.5" y="307" width="55.5" height="6.3" fill="url(#hImpA)"/>
<rect x="425.5" y="307" width="55.5" height="6.3" fill="none" stroke="#5a0a0a" stroke-width="1.2"/>
<rect x="481" y="271.1" width="55.5" height="6.3" fill="#fdcccc" />
<rect x="481" y="271.1" width="55.5" height="6.3" fill="url(#hImpB)"/>
<rect x="481" y="271.1" width="55.5" height="6.3" fill="none" stroke="#5a0a0a" stroke-width="1.2"/>
<rect x="481" y="307" width="55.5" height="6.3" fill="#fdcccc" />
<rect x="481" y="307" width="55.5" height="6.3" fill="url(#hImpB)"/>
<rect x="481" y="307" width="55.5" height="6.3" fill="none" stroke="#5a0a0a" stroke-width="1.2"/>
<rect x="536.6" y="271.1" width="55.5" height="6.3" fill="#fdcccc" />
<rect x="536.6" y="271.1" width="55.5" height="6.3" fill="url(#hImpA)"/>
<rect x="536.6" y="271.1" width="55.5" height="6.3" fill="none" stroke="#5a0a0a" stroke-width="1.2"/>
<rect x="536.6" y="307" width="55.5" height="6.3" fill="#fdcccc" />
<rect x="536.6" y="307" width="55.5" height="6.3" fill="url(#hImpA)"/>
<rect x="536.6" y="307" width="55.5" height="6.3" fill="none" stroke="#5a0a0a" stroke-width="1.2"/>
<rect x="592.1" y="271.1" width="55.5" height="6.3" fill="#fdcccc" />
<rect x="592.1" y="271.1" width="55.5" height="6.3" fill="url(#hImpB)"/>
<rect x="592.1" y="271.1" width="55.5" height="6.3" fill="none" stroke="#5a0a0a" stroke-width="1.2"/>
<rect x="592.1" y="307" width="55.5" height="6.3" fill="#fdcccc" />
<rect x="592.1" y="307" width="55.5" height="6.3" fill="url(#hImpB)"/>
<rect x="592.1" y="307" width="55.5" height="6.3" fill="none" stroke="#5a0a0a" stroke-width="1.2"/>
<rect x="647.6" y="271.1" width="55.5" height="6.3" fill="#fdcccc" />
<rect x="647.6" y="271.1" width="55.5" height="6.3" fill="url(#hImpD)"/>
<rect x="647.6" y="271.1" width="55.5" height="6.3" fill="none" stroke="#5a0a0a" stroke-width="1.2"/>
<rect x="647.6" y="307" width="55.5" height="6.3" fill="#fdcccc" />
<rect x="647.6" y="307" width="55.5" height="6.3" fill="url(#hImpD)"/>
<rect x="647.6" y="307" width="55.5" height="6.3" fill="none" stroke="#5a0a0a" stroke-width="1.2"/>
<rect x="703.1" y="271.1" width="55.5" height="6.3" fill="#fdcccc" />
<rect x="703.1" y="271.1" width="55.5" height="6.3" fill="url(#hImpC)"/>
<rect x="703.1" y="271.1" width="55.5" height="6.3" fill="none" stroke="#5a0a0a" stroke-width="1.2"/>
<rect x="703.1" y="307" width="55.5" height="6.3" fill="#fdcccc" />
<rect x="703.1" y="307" width="55.5" height="6.3" fill="url(#hImpC)"/>
<rect x="703.1" y="307" width="55.5" height="6.3" fill="none" stroke="#5a0a0a" stroke-width="1.2"/>
<rect x="758.7" y="271.1" width="55.5" height="6.3" fill="#fdcccc" />
<rect x="758.7" y="271.1" width="55.5" height="6.3" fill="url(#hImpD)"/>
<rect x="758.7" y="271.1" width="55.5" height="6.3" fill="none" stroke="#5a0a0a" stroke-width="1.2"/>
<rect x="758.7" y="307" width="55.5" height="6.3" fill="#fdcccc" />
<rect x="758.7" y="307" width="55.5" height="6.3" fill="url(#hImpD)"/>
<rect x="758.7" y="307" width="55.5" height="6.3" fill="none" stroke="#5a0a0a" stroke-width="1.2"/>
<rect x="814.2" y="271.1" width="55.5" height="6.3" fill="#fdcccc" />
<rect x="814.2" y="271.1" width="55.5" height="6.3" fill="url(#hImpB)"/>
<rect x="814.2" y="271.1" width="55.5" height="6.3" fill="none" stroke="#5a0a0a" stroke-width="1.2"/>
<rect x="814.2" y="307" width="55.5" height="6.3" fill="#fdcccc" />
<rect x="814.2" y="307" width="55.5" height="6.3" fill="url(#hImpB)"/>
<rect x="814.2" y="307" width="55.5" height="6.3" fill="none" stroke="#5a0a0a" stroke-width="1.2"/>
<rect x="869.7" y="271.1" width="55.5" height="6.3" fill="#fdcccc" />
<rect x="869.7" y="271.1" width="55.5" height="6.3" fill="url(#hImpB)"/>
<rect x="869.7" y="271.1" width="55.5" height="6.3" fill="none" stroke="#5a0a0a" stroke-width="1.2"/>
<rect x="869.7" y="307" width="55.5" height="6.3" fill="#fdcccc" />
<rect x="869.7" y="307" width="55.5" height="6.3" fill="url(#hImpB)"/>
<rect x="869.7" y="307" width="55.5" height="6.3" fill="none" stroke="#5a0a0a" stroke-width="1.2"/>
<rect x="925.3" y="271.1" width="55.5" height="6.3" fill="#fdcccc" />
<rect x="925.3" y="271.1" width="55.5" height="6.3" fill="url(#hImpB)"/>
<rect x="925.3" y="271.1" width="55.5" height="6.3" fill="none" stroke="#5a0a0a" stroke-width="1.2"/>
<rect x="925.3" y="307" width="55.5" height="6.3" fill="#fdcccc" />
<rect x="925.3" y="307" width="55.5" height="6.3" fill="url(#hImpB)"/>
<rect x="925.3" y="307" width="55.5" height="6.3" fill="none" stroke="#5a0a0a" stroke-width="1.2"/>
<rect x="980.8" y="271.1" width="86.2" height="6.3" fill="#fdcccc" />
<rect x="980.8" y="271.1" width="86.2" height="6.3" fill="url(#hDrum)"/>
<rect x="980.8" y="271.1" width="86.2" height="6.3" fill="none" stroke="#5a0a0a" stroke-width="1.2"/>
<rect x="980.8" y="307" width="86.2" height="6.3" fill="#fdcccc" />
<rect x="980.8" y="307" width="86.2" height="6.3" fill="url(#hDrum)"/>
<rect x="980.8" y="307" width="86.2" height="6.3" fill="none" stroke="#5a0a0a" stroke-width="1.2"/>
<polygon points="134.9,274.2 161.2,274.2 169.3,268.6 180.3,268.6 180.3,277.4 169.3,277.4 169.3,281.2 134.9,281.2" fill="#fdcccc" stroke="none"/>
<polygon points="134.9,274.2 161.2,274.2 169.3,268.6 180.3,268.6 180.3,277.4 169.3,277.4 169.3,281.2 134.9,281.2" fill="url(#hSl)" stroke="none"/>
<polygon points="134.9,274.2 161.2,274.2 169.3,268.6 180.3,268.6 180.3,277.4 169.3,277.4 169.3,281.2 134.9,281.2" fill="none" stroke="#5a0a0a" stroke-width="1.2" stroke-linejoin="round" />
<polygon points="134.9,310.2 161.2,310.2 169.3,315.8 180.3,315.8 180.3,307 169.3,307 169.3,303.2 134.9,303.2" fill="#fdcccc" stroke="none"/>
<polygon points="134.9,310.2 161.2,310.2 169.3,315.8 180.3,315.8 180.3,307 169.3,307 169.3,303.2 134.9,303.2" fill="url(#hSl)" stroke="none"/>
<polygon points="134.9,310.2 161.2,310.2 169.3,315.8 180.3,315.8 180.3,307 169.3,307 169.3,303.2 134.9,303.2" fill="none" stroke="#5a0a0a" stroke-width="1.2" stroke-linejoin="round" />
<rect x="180.3" y="268.8" width="148" height="8.6" fill="#fdcccc" />
<rect x="180.3" y="268.8" width="148" height="8.6" fill="url(#hSl)"/>
<rect x="180.3" y="268.8" width="148" height="8.6" fill="none" stroke="#5a0a0a" stroke-width="1.2"/>
<rect x="180.3" y="307" width="148" height="8.6" fill="#fdcccc" />
<rect x="180.3" y="307" width="148" height="8.6" fill="url(#hSl)"/>
<rect x="180.3" y="307" width="148" height="8.6" fill="none" stroke="#5a0a0a" stroke-width="1.2"/>
<rect x="328.4" y="268.4" width="32.5" height="9" fill="#f7b8b8" />
<rect x="328.4" y="268.4" width="32.5" height="9" fill="url(#hNut)"/>
<rect x="328.4" y="268.4" width="32.5" height="9" fill="none" stroke="#5a0a0a" stroke-width="1.2"/>
<rect x="328.4" y="307" width="32.5" height="9" fill="#f7b8b8" />
<rect x="328.4" y="307" width="32.5" height="9" fill="url(#hNut)"/>
<rect x="328.4" y="307" width="32.5" height="9" fill="none" stroke="#5a0a0a" stroke-width="1.2"/>
<rect x="1067" y="268.8" width="148.7" height="8.6" fill="#fdcccc" />
<rect x="1067" y="268.8" width="148.7" height="8.6" fill="url(#hImpB)"/>
<rect x="1067" y="268.8" width="148.7" height="8.6" fill="none" stroke="#5a0a0a" stroke-width="1.2"/>
<rect x="1067" y="307" width="148.7" height="8.6" fill="#fdcccc" />
<rect x="1067" y="307" width="148.7" height="8.6" fill="url(#hImpB)"/>
<rect x="1067" y="307" width="148.7" height="8.6" fill="none" stroke="#5a0a0a" stroke-width="1.2"/>
<polygon points="1215.7,268.4 1226.7,268.4 1236,274.1 1261.6,274.1 1261.6,280.9 1227.9,280.9 1227.9,277.4 1215.7,277.4" fill="#fdcccc" stroke="none"/>
<polygon points="1215.7,268.4 1226.7,268.4 1236,274.1 1261.6,274.1 1261.6,280.9 1227.9,280.9 1227.9,277.4 1215.7,277.4" fill="url(#hSl)" stroke="none"/>
<polygon points="1215.7,268.4 1226.7,268.4 1236,274.1 1261.6,274.1 1261.6,280.9 1227.9,280.9 1227.9,277.4 1215.7,277.4" fill="none" stroke="#5a0a0a" stroke-width="1.2" stroke-linejoin="round" />
<polygon points="1215.7,316 1226.7,316 1236,310.3 1261.6,310.3 1261.6,303.5 1227.9,303.5 1227.9,307 1215.7,307" fill="#fdcccc" stroke="none"/>
<polygon points="1215.7,316 1226.7,316 1236,310.3 1261.6,310.3 1261.6,303.5 1227.9,303.5 1227.9,307 1215.7,307" fill="url(#hSl)" stroke="none"/>
<polygon points="1215.7,316 1226.7,316 1236,310.3 1261.6,310.3 1261.6,303.5 1227.9,303.5 1227.9,307 1215.7,307" fill="none" stroke="#5a0a0a" stroke-width="1.2" stroke-linejoin="round" />
<rect x="238.1" y="255.9" width="13.4" height="12.6" fill="#c4c4c4" />
<rect x="238.1" y="255.9" width="13.4" height="12.6" fill="url(#xPk)"/>
<rect x="238.1" y="255.9" width="13.4" height="12.6" fill="none" stroke="#2a2a2a" stroke-width="1.2"/>
<rect x="238.1" y="315.9" width="13.4" height="12.6" fill="#c4c4c4" />
<rect x="238.1" y="315.9" width="13.4" height="12.6" fill="url(#xPk)"/>
<rect x="238.1" y="315.9" width="13.4" height="12.6" fill="none" stroke="#2a2a2a" stroke-width="1.2"/>
<rect x="251.5" y="255.9" width="14" height="12.6" fill="#d9d9dc" />
<rect x="251.5" y="255.9" width="14" height="12.6" fill="url(#hPk1)"/>
<rect x="251.5" y="255.9" width="14" height="12.6" fill="none" stroke="#2a2a2a" stroke-width="1.2"/>
<rect x="251.5" y="315.9" width="14" height="12.6" fill="#d9d9dc" />
<rect x="251.5" y="315.9" width="14" height="12.6" fill="url(#hPk1)"/>
<rect x="251.5" y="315.9" width="14" height="12.6" fill="none" stroke="#2a2a2a" stroke-width="1.2"/>
<rect x="265.5" y="255.9" width="13.9" height="12.6" fill="#bcbcbc" />
<rect x="265.5" y="255.9" width="13.9" height="12.6" fill="url(#xPk2)"/>
<rect x="265.5" y="255.9" width="13.9" height="12.6" fill="none" stroke="#2a2a2a" stroke-width="1.2"/>
<rect x="265.5" y="315.9" width="13.9" height="12.6" fill="#bcbcbc" />
<rect x="265.5" y="315.9" width="13.9" height="12.6" fill="url(#xPk2)"/>
<rect x="265.5" y="315.9" width="13.9" height="12.6" fill="none" stroke="#2a2a2a" stroke-width="1.2"/>
<rect x="279.4" y="255.9" width="14" height="12.6" fill="#d9d9dc" />
<rect x="279.4" y="255.9" width="14" height="12.6" fill="url(#hPk1)"/>
<rect x="279.4" y="255.9" width="14" height="12.6" fill="none" stroke="#2a2a2a" stroke-width="1.2"/>
<rect x="279.4" y="315.9" width="14" height="12.6" fill="#d9d9dc" />
<rect x="279.4" y="315.9" width="14" height="12.6" fill="url(#hPk1)"/>
<rect x="279.4" y="315.9" width="14" height="12.6" fill="none" stroke="#2a2a2a" stroke-width="1.2"/>
<rect x="293.4" y="255.9" width="14.5" height="12.6" fill="#d9d9dc" />
<rect x="293.4" y="255.9" width="14.5" height="12.6" fill="url(#hPk2)"/>
<rect x="293.4" y="255.9" width="14.5" height="12.6" fill="none" stroke="#2a2a2a" stroke-width="1.2"/>
<rect x="293.4" y="315.9" width="14.5" height="12.6" fill="#d9d9dc" />
<rect x="293.4" y="315.9" width="14.5" height="12.6" fill="url(#hPk2)"/>
<rect x="293.4" y="315.9" width="14.5" height="12.6" fill="none" stroke="#2a2a2a" stroke-width="1.2"/>
<rect x="1079.3" y="256.2" width="14.3" height="12.2" fill="#c4c4c4" />
<rect x="1079.3" y="256.2" width="14.3" height="12.2" fill="url(#xPk)"/>
<rect x="1079.3" y="256.2" width="14.3" height="12.2" fill="none" stroke="#2a2a2a" stroke-width="1.2"/>
<rect x="1079.3" y="316" width="14.3" height="12.2" fill="#c4c4c4" />
<rect x="1079.3" y="316" width="14.3" height="12.2" fill="url(#xPk)"/>
<rect x="1079.3" y="316" width="14.3" height="12.2" fill="none" stroke="#2a2a2a" stroke-width="1.2"/>
<rect x="1093.6" y="256.2" width="14.3" height="12.2" fill="#d9d9dc" />
<rect x="1093.6" y="256.2" width="14.3" height="12.2" fill="url(#hPk1)"/>
<rect x="1093.6" y="256.2" width="14.3" height="12.2" fill="none" stroke="#2a2a2a" stroke-width="1.2"/>
<rect x="1093.6" y="316" width="14.3" height="12.2" fill="#d9d9dc" />
<rect x="1093.6" y="316" width="14.3" height="12.2" fill="url(#hPk1)"/>
<rect x="1093.6" y="316" width="14.3" height="12.2" fill="none" stroke="#2a2a2a" stroke-width="1.2"/>
<rect x="1107.9" y="256.2" width="13.5" height="12.2" fill="#d9d9dc" />
<rect x="1107.9" y="256.2" width="13.5" height="12.2" fill="url(#hPk2)"/>
<rect x="1107.9" y="256.2" width="13.5" height="12.2" fill="none" stroke="#2a2a2a" stroke-width="1.2"/>
<rect x="1107.9" y="316" width="13.5" height="12.2" fill="#d9d9dc" />
<rect x="1107.9" y="316" width="13.5" height="12.2" fill="url(#hPk2)"/>
<rect x="1107.9" y="316" width="13.5" height="12.2" fill="none" stroke="#2a2a2a" stroke-width="1.2"/>
<rect x="1121.4" y="256.2" width="13.8" height="12.2" fill="#d9d9dc" />
<rect x="1121.4" y="256.2" width="13.8" height="12.2" fill="url(#hPk1)"/>
<rect x="1121.4" y="256.2" width="13.8" height="12.2" fill="none" stroke="#2a2a2a" stroke-width="1.2"/>
<rect x="1121.4" y="316" width="13.8" height="12.2" fill="#d9d9dc" />
<rect x="1121.4" y="316" width="13.8" height="12.2" fill="url(#hPk1)"/>
<rect x="1121.4" y="316" width="13.8" height="12.2" fill="none" stroke="#2a2a2a" stroke-width="1.2"/>
<rect x="1135.2" y="256.2" width="13.1" height="12.2" fill="#d9d9dc" />
<rect x="1135.2" y="256.2" width="13.1" height="12.2" fill="url(#hPk2)"/>
<rect x="1135.2" y="256.2" width="13.1" height="12.2" fill="none" stroke="#2a2a2a" stroke-width="1.2"/>
<rect x="1135.2" y="316" width="13.1" height="12.2" fill="#d9d9dc" />
<rect x="1135.2" y="316" width="13.1" height="12.2" fill="url(#hPk2)"/>
<rect x="1135.2" y="316" width="13.1" height="12.2" fill="none" stroke="#2a2a2a" stroke-width="1.2"/>
<polygon points="191.6,255.9 202.7,255.9 202.7,248.3 217.8,248.3 217.8,255.9 237.9,255.9 237.9,268.5 223.6,268.5 223.6,265.8 196.3,265.8 196.3,268.5 191.6,268.5" fill="#ffffb6" stroke="none"/>
<polygon points="191.6,255.9 202.7,255.9 202.7,248.3 217.8,248.3 217.8,255.9 237.9,255.9 237.9,268.5 223.6,268.5 223.6,265.8 196.3,265.8 196.3,268.5 191.6,268.5" fill="url(#hGl)" stroke="none"/>
<polygon points="191.6,255.9 202.7,255.9 202.7,248.3 217.8,248.3 217.8,255.9 237.9,255.9 237.9,268.5 223.6,268.5 223.6,265.8 196.3,265.8 196.3,268.5 191.6,268.5" fill="none" stroke="#55550a" stroke-width="1" stroke-linejoin="round" />
<polygon points="191.6,328.5 202.7,328.5 202.7,336.1 217.8,336.1 217.8,328.5 237.9,328.5 237.9,315.9 223.6,315.9 223.6,318.6 196.3,318.6 196.3,315.9 191.6,315.9" fill="#ffffb6" stroke="none"/>
<polygon points="191.6,328.5 202.7,328.5 202.7,336.1 217.8,336.1 217.8,328.5 237.9,328.5 237.9,315.9 223.6,315.9 223.6,318.6 196.3,318.6 196.3,315.9 191.6,315.9" fill="url(#hGl)" stroke="none"/>
<polygon points="191.6,328.5 202.7,328.5 202.7,336.1 217.8,336.1 217.8,328.5 237.9,328.5 237.9,315.9 223.6,315.9 223.6,318.6 196.3,318.6 196.3,315.9 191.6,315.9" fill="none" stroke="#55550a" stroke-width="1" stroke-linejoin="round" />
<polygon points="1148.3,256.5 1169.3,256.5 1169.3,248.7 1184,248.7 1184,256.5 1195.5,256.5 1195.5,268.5 1190.8,268.5 1190.8,265.8 1163.5,265.8 1163.5,268.5 1148.3,268.5" fill="#ffffb6" stroke="none"/>
<polygon points="1148.3,256.5 1169.3,256.5 1169.3,248.7 1184,248.7 1184,256.5 1195.5,256.5 1195.5,268.5 1190.8,268.5 1190.8,265.8 1163.5,265.8 1163.5,268.5 1148.3,268.5" fill="url(#hGl)" stroke="none"/>
<polygon points="1148.3,256.5 1169.3,256.5 1169.3,248.7 1184,248.7 1184,256.5 1195.5,256.5 1195.5,268.5 1190.8,268.5 1190.8,265.8 1163.5,265.8 1163.5,268.5 1148.3,268.5" fill="none" stroke="#55550a" stroke-width="1" stroke-linejoin="round" />
<polygon points="1148.3,327.9 1169.3,327.9 1169.3,335.7 1184,335.7 1184,327.9 1195.5,327.9 1195.5,315.9 1190.8,315.9 1190.8,318.6 1163.5,318.6 1163.5,315.9 1148.3,315.9" fill="#ffffb6" stroke="none"/>
<polygon points="1148.3,327.9 1169.3,327.9 1169.3,335.7 1184,335.7 1184,327.9 1195.5,327.9 1195.5,315.9 1190.8,315.9 1190.8,318.6 1163.5,318.6 1163.5,315.9 1148.3,315.9" fill="url(#hGl)" stroke="none"/>
<polygon points="1148.3,327.9 1169.3,327.9 1169.3,335.7 1184,335.7 1184,327.9 1195.5,327.9 1195.5,315.9 1190.8,315.9 1190.8,318.6 1163.5,318.6 1163.5,315.9 1148.3,315.9" fill="none" stroke="#55550a" stroke-width="1" stroke-linejoin="round" />
<polygon points="237.6,205.4 247.4,205.4 247.4,219.2 244,221.5 244,239.5 244,239.5 244.3,241.1 245.2,242.5 246.6,243.4 248.2,243.7 256.2,243.7 256.2,248.3 230.6,248.3 230.6,227.3 237.6,220.3" fill="#b8f5f5" stroke="none"/>
<polygon points="237.6,205.4 247.4,205.4 247.4,219.2 244,221.5 244,239.5 244,239.5 244.3,241.1 245.2,242.5 246.6,243.4 248.2,243.7 256.2,243.7 256.2,248.3 230.6,248.3 230.6,227.3 237.6,220.3" fill="url(#hCy)" stroke="none"/>
<polygon points="237.6,205.4 247.4,205.4 247.4,219.2 244,221.5 244,239.5 244,239.5 244.3,241.1 245.2,242.5 246.6,243.4 248.2,243.7 256.2,243.7 256.2,248.3 230.6,248.3 230.6,227.3 237.6,220.3" fill="none" stroke="#0a5c5c" stroke-width="1.2" stroke-linejoin="round" />
<polygon points="237.6,379 247.4,379 247.4,365.2 244,362.9 244,344.9 244,344.9 244.3,343.3 245.2,341.9 246.6,341 248.2,340.7 256.2,340.7 256.2,336.1 230.6,336.1 230.6,357.1 237.6,364.1" fill="#b8f5f5" stroke="none"/>
<polygon points="237.6,379 247.4,379 247.4,365.2 244,362.9 244,344.9 244,344.9 244.3,343.3 245.2,341.9 246.6,341 248.2,340.7 256.2,340.7 256.2,336.1 230.6,336.1 230.6,357.1 237.6,364.1" fill="url(#hCy)" stroke="none"/>
<polygon points="237.6,379 247.4,379 247.4,365.2 244,362.9 244,344.9 244,344.9 244.3,343.3 245.2,341.9 246.6,341 248.2,340.7 256.2,340.7 256.2,336.1 230.6,336.1 230.6,357.1 237.6,364.1" fill="none" stroke="#0a5c5c" stroke-width="1.2" stroke-linejoin="round" />
<polygon points="1157.6,205.4 1147.8,205.4 1147.8,219.2 1151.2,221.5 1151.2,239.5 1151.2,239.5 1150.9,241.1 1150,242.5 1148.6,243.4 1147,243.7 1139,243.7 1139,248.3 1164.6,248.3 1164.6,227.3 1157.6,220.3" fill="#b8f5f5" stroke="none"/>
<polygon points="1157.6,205.4 1147.8,205.4 1147.8,219.2 1151.2,221.5 1151.2,239.5 1151.2,239.5 1150.9,241.1 1150,242.5 1148.6,243.4 1147,243.7 1139,243.7 1139,248.3 1164.6,248.3 1164.6,227.3 1157.6,220.3" fill="url(#hCy2)" stroke="none"/>
<polygon points="1157.6,205.4 1147.8,205.4 1147.8,219.2 1151.2,221.5 1151.2,239.5 1151.2,239.5 1150.9,241.1 1150,242.5 1148.6,243.4 1147,243.7 1139,243.7 1139,248.3 1164.6,248.3 1164.6,227.3 1157.6,220.3" fill="none" stroke="#0a5c5c" stroke-width="1.2" stroke-linejoin="round" />
<polygon points="1157.6,379 1147.8,379 1147.8,365.2 1151.2,362.9 1151.2,344.9 1151.2,344.9 1150.9,343.3 1150,341.9 1148.6,341 1147,340.7 1139,340.7 1139,336.1 1164.6,336.1 1164.6,357.1 1157.6,364.1" fill="#b8f5f5" stroke="none"/>
<polygon points="1157.6,379 1147.8,379 1147.8,365.2 1151.2,362.9 1151.2,344.9 1151.2,344.9 1150.9,343.3 1150,341.9 1148.6,341 1147,340.7 1139,340.7 1139,336.1 1164.6,336.1 1164.6,357.1 1157.6,364.1" fill="url(#hCy2)" stroke="none"/>
<polygon points="1157.6,379 1147.8,379 1147.8,365.2 1151.2,362.9 1151.2,344.9 1151.2,344.9 1150.9,343.3 1150,341.9 1148.6,341 1147,340.7 1139,340.7 1139,336.1 1164.6,336.1 1164.6,357.1 1157.6,364.1" fill="none" stroke="#0a5c5c" stroke-width="1.2" stroke-linejoin="round" />
<rect x="86.8" y="281" width="8.5" height="22.4" fill="#f4dede" />
<polygon points="14.5,286.2 15.5,285.2 93.6,285.2 93.6,286.6 95.3,286.6 95.3,282 115,282 115,281.2 169.3,281.2 169.3,277.4 1227.9,277.4 1227.9,281.1 1298.2,281.1 1298.2,282.3 1303.4,282.3 1303.4,302.1 1298.2,302.1 1298.2,303.3 1227.9,303.3 1227.9,307 169.3,307 169.3,303.2 115,303.2 115,302.4 95.3,302.4 95.3,297.8 93.6,297.8 93.6,299.2 15.5,299.2 14.5,298.2" fill="#c9f0fd" stroke="none"/>
<polygon points="14.5,286.2 15.5,285.2 93.6,285.2 93.6,286.6 95.3,286.6 95.3,282 115,282 115,281.2 169.3,281.2 169.3,277.4 1227.9,277.4 1227.9,281.1 1298.2,281.1 1298.2,282.3 1303.4,282.3 1303.4,302.1 1298.2,302.1 1298.2,303.3 1227.9,303.3 1227.9,307 169.3,307 169.3,303.2 115,303.2 115,302.4 95.3,302.4 95.3,297.8 93.6,297.8 93.6,299.2 15.5,299.2 14.5,298.2" fill="url(#hShaft)" stroke="none"/>
<polygon points="14.5,286.2 15.5,285.2 93.6,285.2 93.6,286.6 95.3,286.6 95.3,282 115,282 115,281.2 169.3,281.2 169.3,277.4 1227.9,277.4 1227.9,281.1 1298.2,281.1 1298.2,282.3 1303.4,282.3 1303.4,302.1 1298.2,302.1 1298.2,303.3 1227.9,303.3 1227.9,307 169.3,307 169.3,303.2 115,303.2 115,302.4 95.3,302.4 95.3,297.8 93.6,297.8 93.6,299.2 15.5,299.2 14.5,298.2" fill="none" stroke="#0c4258" stroke-width="1.3" stroke-linejoin="round" />
<rect x="104.8" y="258.7" width="37.1" height="14.8" fill="#dfe9e2" />
<rect x="104.8" y="310.9" width="37.1" height="14.8" fill="#dfe9e2" />
<rect x="112.9" y="259.9" width="20.9" height="12.1" fill="#e2e2e2" />
<rect x="112.9" y="312.4" width="20.9" height="12.1" fill="#e2e2e2" />
<rect x="112.9" y="253.5" width="20.9" height="6.4" fill="#d9d9d9" />
<rect x="112.9" y="253.5" width="20.9" height="6.4" fill="url(#hBr)"/>
<rect x="112.9" y="253.5" width="20.9" height="6.4" fill="none" stroke="#333" stroke-width="1.2"/>
<rect x="112.9" y="324.5" width="20.9" height="6.4" fill="#d9d9d9" />
<rect x="112.9" y="324.5" width="20.9" height="6.4" fill="url(#hBr)"/>
<rect x="112.9" y="324.5" width="20.9" height="6.4" fill="none" stroke="#333" stroke-width="1.2"/>
<rect x="112.6" y="271.9" width="21.7" height="9.3" fill="#d9d9d9" />
<rect x="112.6" y="271.9" width="21.7" height="9.3" fill="url(#hBr)"/>
<rect x="112.6" y="271.9" width="21.7" height="9.3" fill="none" stroke="#333" stroke-width="1.2"/>
<rect x="112.6" y="303.2" width="21.7" height="9.3" fill="#d9d9d9" />
<rect x="112.6" y="303.2" width="21.7" height="9.3" fill="url(#hBr)"/>
<rect x="112.6" y="303.2" width="21.7" height="9.3" fill="none" stroke="#333" stroke-width="1.2"/>
<circle cx="123.4" cy="265.2" r="6.8" fill="#d9d9d9"/><circle cx="123.4" cy="265.2" r="6.8" fill="url(#hBr)"/><circle cx="123.4" cy="265.2" r="6.8" fill="none" stroke="#333" stroke-width="1"/>
<circle cx="123.6" cy="313" r="3.3" fill="#d9d9d9"/><circle cx="123.6" cy="313" r="3.3" fill="url(#hBr)"/><circle cx="123.6" cy="313" r="3.3" fill="none" stroke="#333" stroke-width="0.9"/>
<circle cx="123.4" cy="321.3" r="2.2" fill="#eee" stroke="#333" stroke-width="0.9"/>
<rect x="1254" y="258" width="54.7" height="15.3" fill="#dfe9e2" />
<rect x="1254" y="311.1" width="54.7" height="15.3" fill="#dfe9e2" />
<rect x="1261.6" y="260" width="21.5" height="12" fill="#e2e2e2" />
<rect x="1261.6" y="312.4" width="21.5" height="12" fill="#e2e2e2" />
<rect x="1261.6" y="253.7" width="21.5" height="6.6" fill="#cdcdcd" />
<rect x="1261.6" y="253.7" width="21.5" height="6.6" fill="url(#xBr)"/>
<rect x="1261.6" y="253.7" width="21.5" height="6.6" fill="none" stroke="#333" stroke-width="1.2"/>
<rect x="1261.6" y="324.1" width="21.5" height="6.6" fill="#cdcdcd" />
<rect x="1261.6" y="324.1" width="21.5" height="6.6" fill="url(#xBr)"/>
<rect x="1261.6" y="324.1" width="21.5" height="6.6" fill="none" stroke="#333" stroke-width="1.2"/>
<rect x="1261.6" y="271.2" width="21.5" height="9.9" fill="#cdcdcd" />
<rect x="1261.6" y="271.2" width="21.5" height="9.9" fill="url(#xBr)"/>
<rect x="1261.6" y="271.2" width="21.5" height="9.9" fill="none" stroke="#333" stroke-width="1.2"/>
<rect x="1261.6" y="303.3" width="21.5" height="9.9" fill="#cdcdcd" />
<rect x="1261.6" y="303.3" width="21.5" height="9.9" fill="url(#xBr)"/>
<rect x="1261.6" y="303.3" width="21.5" height="9.9" fill="none" stroke="#333" stroke-width="1.2"/>
<circle cx="1272.6" cy="263.6" r="3.2" fill="#c4c4c4"/><circle cx="1272.6" cy="263.6" r="3.2" fill="url(#xBr)"/><circle cx="1272.6" cy="263.6" r="3.2" fill="none" stroke="#444" stroke-width="0.8"/>
<circle cx="1272.6" cy="270.6" r="3.2" fill="#c4c4c4"/><circle cx="1272.6" cy="270.6" r="3.2" fill="url(#xBr)"/><circle cx="1272.6" cy="270.6" r="3.2" fill="none" stroke="#444" stroke-width="0.8"/>
<circle cx="1272.6" cy="319" r="6.8" fill="#bdbdbd"/><circle cx="1272.6" cy="319" r="6.8" fill="url(#xBr)"/><circle cx="1272.6" cy="319" r="6.8" fill="none" stroke="#444" stroke-width="0.9"/>
<polygon points="87.3,274.2 112.6,274.2 112.6,283.3 98.8,283.3 98.8,280.8 87.3,280.8 86.3,279.8 86.3,275.2" fill="#e09595" stroke="none"/>
<polygon points="87.3,274.2 112.6,274.2 112.6,283.3 98.8,283.3 98.8,280.8 87.3,280.8 86.3,279.8 86.3,275.2" fill="url(#xLn)" stroke="none"/>
<polygon points="87.3,274.2 112.6,274.2 112.6,283.3 98.8,283.3 98.8,280.8 87.3,280.8 86.3,279.8 86.3,275.2" fill="none" stroke="#5a0a0a" stroke-width="1.1" stroke-linejoin="round" />
<polygon points="87.3,310.2 112.6,310.2 112.6,301.1 98.8,301.1 98.8,303.6 87.3,303.6 86.3,304.6 86.3,309.2" fill="#e09595" stroke="none"/>
<polygon points="87.3,310.2 112.6,310.2 112.6,301.1 98.8,301.1 98.8,303.6 87.3,303.6 86.3,304.6 86.3,309.2" fill="url(#xLn)" stroke="none"/>
<polygon points="87.3,310.2 112.6,310.2 112.6,301.1 98.8,301.1 98.8,303.6 87.3,303.6 86.3,304.6 86.3,309.2" fill="none" stroke="#5a0a0a" stroke-width="1.1" stroke-linejoin="round" />
<rect x="1283.1" y="271.2" width="7" height="12.2" fill="#c46a6a" />
<rect x="1283.1" y="271.2" width="7" height="12.2" fill="url(#xLn)"/>
<rect x="1283.1" y="271.2" width="7" height="12.2" fill="none" stroke="#5a0a0a" stroke-width="1.2"/>
<rect x="1283.1" y="301" width="7" height="12.2" fill="#c46a6a" />
<rect x="1283.1" y="301" width="7" height="12.2" fill="url(#xLn)"/>
<rect x="1283.1" y="301" width="7" height="12.2" fill="none" stroke="#5a0a0a" stroke-width="1.2"/>
<rect x="1290.7" y="271.2" width="7.5" height="12.2" fill="#e8a8a8" />
<rect x="1290.7" y="271.2" width="7.5" height="12.2" fill="url(#xLn)"/>
<rect x="1290.7" y="271.2" width="7.5" height="12.2" fill="none" stroke="#5a0a0a" stroke-width="1.2"/>
<rect x="1290.7" y="301" width="7.5" height="12.2" fill="#e8a8a8" />
<rect x="1290.7" y="301" width="7.5" height="12.2" fill="url(#xLn)"/>
<rect x="1290.7" y="301" width="7.5" height="12.2" fill="none" stroke="#5a0a0a" stroke-width="1.2"/>
<polygon points="100.1,231.4 108.8,231.4 108.8,252.9 112.9,252.9 112.9,258.7 104.8,258.7 104.8,273.3 100.1,273.3" fill="#b6f2d2" stroke="none"/>
<polygon points="100.1,231.4 108.8,231.4 108.8,252.9 112.9,252.9 112.9,258.7 104.8,258.7 104.8,273.3 100.1,273.3" fill="url(#hGrL)" stroke="none"/>
<polygon points="100.1,231.4 108.8,231.4 108.8,252.9 112.9,252.9 112.9,258.7 104.8,258.7 104.8,273.3 100.1,273.3" fill="none" stroke="#0a5a2e" stroke-width="1.2" stroke-linejoin="round" />
<polygon points="146.6,231.4 138.5,231.4 138.5,252.9 133.8,252.9 133.8,258.7 141.9,258.7 141.9,273.3 146.6,273.3" fill="#b6f2d2" stroke="none"/>
<polygon points="146.6,231.4 138.5,231.4 138.5,252.9 133.8,252.9 133.8,258.7 141.9,258.7 141.9,273.3 146.6,273.3" fill="url(#hGrR)" stroke="none"/>
<polygon points="146.6,231.4 138.5,231.4 138.5,252.9 133.8,252.9 133.8,258.7 141.9,258.7 141.9,273.3 146.6,273.3" fill="none" stroke="#0a5a2e" stroke-width="1.2" stroke-linejoin="round" />
<polygon points="100.1,353 108.8,353 108.8,331.5 112.9,331.5 112.9,325.7 104.8,325.7 104.8,311.1 100.1,311.1" fill="#b6f2d2" stroke="none"/>
<polygon points="100.1,353 108.8,353 108.8,331.5 112.9,331.5 112.9,325.7 104.8,325.7 104.8,311.1 100.1,311.1" fill="url(#hGrL)" stroke="none"/>
<polygon points="100.1,353 108.8,353 108.8,331.5 112.9,331.5 112.9,325.7 104.8,325.7 104.8,311.1 100.1,311.1" fill="none" stroke="#0a5a2e" stroke-width="1.2" stroke-linejoin="round" />
<polygon points="146.6,353 138.5,353 138.5,331.5 133.8,331.5 133.8,325.7 141.9,325.7 141.9,311.1 146.6,311.1" fill="#b6f2d2" stroke="none"/>
<polygon points="146.6,353 138.5,353 138.5,331.5 133.8,331.5 133.8,325.7 141.9,325.7 141.9,311.1 146.6,311.1" fill="url(#hGrR)" stroke="none"/>
<polygon points="146.6,353 138.5,353 138.5,331.5 133.8,331.5 133.8,325.7 141.9,325.7 141.9,311.1 146.6,311.1" fill="none" stroke="#0a5a2e" stroke-width="1.2" stroke-linejoin="round" />
<polygon points="1249.7,231.5 1257.5,231.5 1257.5,253.3 1261.6,253.3 1261.6,258 1254,258 1254,273.1 1249.7,273.1" fill="#b6f2d2" stroke="none"/>
<polygon points="1249.7,231.5 1257.5,231.5 1257.5,253.3 1261.6,253.3 1261.6,258 1254,258 1254,273.1 1249.7,273.1" fill="url(#hGrR)" stroke="none"/>
<polygon points="1249.7,231.5 1257.5,231.5 1257.5,253.3 1261.6,253.3 1261.6,258 1254,258 1254,273.1 1249.7,273.1" fill="none" stroke="#0a5a2e" stroke-width="1.2" stroke-linejoin="round" />
<polygon points="1249.7,352.9 1257.5,352.9 1257.5,331.1 1261.6,331.1 1261.6,326.4 1254,326.4 1254,311.3 1249.7,311.3" fill="#b6f2d2" stroke="none"/>
<polygon points="1249.7,352.9 1257.5,352.9 1257.5,331.1 1261.6,331.1 1261.6,326.4 1254,326.4 1254,311.3 1249.7,311.3" fill="url(#hGrR)" stroke="none"/>
<polygon points="1249.7,352.9 1257.5,352.9 1257.5,331.1 1261.6,331.1 1261.6,326.4 1254,326.4 1254,311.3 1249.7,311.3" fill="none" stroke="#0a5a2e" stroke-width="1.2" stroke-linejoin="round" />
<polygon points="1287.2,231.5 1295.5,231.5 1295.5,253.3 1309.3,253.3 1309.3,253.3 1311.1,253.7 1312.6,254.6 1313.5,256.1 1313.9,257.9 1313.9,326.5 1313.5,328.3 1312.6,329.8 1311.1,330.7 1309.3,331.1 1295.5,331.1 1295.5,352.9 1287.2,352.9 1287.2,331.1 1283.1,331.1 1283.1,326.4 1306.2,326.4 1306.2,326.4 1307.5,326.1 1308.4,325.1 1308.7,323.9 1308.7,260.5 1308.4,259.2 1307.5,258.3 1306.2,258 1283.1,258 1283.1,253.3 1287.2,253.3" fill="#b6f2d2" stroke="none"/>
<polygon points="1287.2,231.5 1295.5,231.5 1295.5,253.3 1309.3,253.3 1309.3,253.3 1311.1,253.7 1312.6,254.6 1313.5,256.1 1313.9,257.9 1313.9,326.5 1313.5,328.3 1312.6,329.8 1311.1,330.7 1309.3,331.1 1295.5,331.1 1295.5,352.9 1287.2,352.9 1287.2,331.1 1283.1,331.1 1283.1,326.4 1306.2,326.4 1306.2,326.4 1307.5,326.1 1308.4,325.1 1308.7,323.9 1308.7,260.5 1308.4,259.2 1307.5,258.3 1306.2,258 1283.1,258 1283.1,253.3 1287.2,253.3" fill="url(#hGrL)" stroke="none"/>
<polygon points="1287.2,231.5 1295.5,231.5 1295.5,253.3 1309.3,253.3 1309.3,253.3 1311.1,253.7 1312.6,254.6 1313.5,256.1 1313.9,257.9 1313.9,326.5 1313.5,328.3 1312.6,329.8 1311.1,330.7 1309.3,331.1 1295.5,331.1 1295.5,352.9 1287.2,352.9 1287.2,331.1 1283.1,331.1 1283.1,326.4 1306.2,326.4 1306.2,326.4 1307.5,326.1 1308.4,325.1 1308.7,323.9 1308.7,260.5 1308.4,259.2 1307.5,258.3 1306.2,258 1283.1,258 1283.1,253.3 1287.2,253.3" fill="none" stroke="#0a5a2e" stroke-width="1.2" stroke-linejoin="round" />
<rect x="205" y="212.4" width="19.8" height="13.2" fill="#efefef" />
<rect x="205" y="212.4" width="19.8" height="13.2" fill="none" stroke="#d4d0d0" stroke-width="0.8"/>
<rect x="213.1" y="206.5" width="11.7" height="25" rx="1" fill="#e9e6e6" />
<rect x="213.1" y="206.5" width="11.7" height="25" rx="1" fill="none" stroke="#cfc8c8" stroke-width="0.8"/>
<line x1="213.1" y1="219" x2="224.8" y2="219" stroke="#cfc8c8" stroke-width="0.8"/>
<rect x="1170.4" y="212.4" width="19.8" height="13.2" fill="#efefef" />
<rect x="1170.4" y="212.4" width="19.8" height="13.2" fill="none" stroke="#d4d0d0" stroke-width="0.8"/>
<rect x="1170.4" y="206.5" width="11.7" height="25" rx="1" fill="#e9e6e6" />
<rect x="1170.4" y="206.5" width="11.7" height="25" rx="1" fill="none" stroke="#cfc8c8" stroke-width="0.8"/>
<line x1="1170.4" y1="219" x2="1182.1" y2="219" stroke="#cfc8c8" stroke-width="0.8"/>
<rect x="205" y="352.8" width="19.8" height="13.2" fill="#efefef" />
<rect x="205" y="352.8" width="19.8" height="13.2" fill="none" stroke="#d4d0d0" stroke-width="0.8"/>
<rect x="213.1" y="346.9" width="11.7" height="25" rx="1" fill="#e9e6e6" />
<rect x="213.1" y="346.9" width="11.7" height="25" rx="1" fill="none" stroke="#cfc8c8" stroke-width="0.8"/>
<line x1="213.1" y1="359.4" x2="224.8" y2="359.4" stroke="#cfc8c8" stroke-width="0.8"/>
<rect x="1170.4" y="352.8" width="19.8" height="13.2" fill="#efefef" />
<rect x="1170.4" y="352.8" width="19.8" height="13.2" fill="none" stroke="#d4d0d0" stroke-width="0.8"/>
<rect x="1170.4" y="346.9" width="11.7" height="25" rx="1" fill="#e9e6e6" />
<rect x="1170.4" y="346.9" width="11.7" height="25" rx="1" fill="none" stroke="#cfc8c8" stroke-width="0.8"/>
<line x1="1170.4" y1="359.4" x2="1182.1" y2="359.4" stroke="#cfc8c8" stroke-width="0.8"/>
<g style="mix-blend-mode:multiply"><rect width="1342" height="516" fill="url(#gMinF)"/><rect width="1342" height="516" fill="url(#gMajF)"/></g>
<line x1="0" y1="288.2" x2="1342" y2="288.2" stroke="#9fc0a4" stroke-width="0.8" opacity="0.55"/>
<line x1="953.6" y1="0" x2="953.6" y2="516" stroke="#e49aa0" stroke-width="0.8" opacity="0.6"/>
<line x1="713.3" y1="292.4" x2="784" y2="292.4" stroke="#f7dcdc" stroke-width="2.2"/>
<line x1="716" y1="292.4" x2="784" y2="292.4" stroke="#d89a9a" stroke-width="0.9" stroke-dasharray="15 4 3 4"/>
<rect x="952.1" y="256" width="2.7" height="32" fill="#1f9d3c" opacity="0.65"/><polygon points="953.5,239.8 957.2,257.8 949.8,257.8" fill="#1f9d3c" opacity="0.88"/>
<text x="953.4" y="232.4" font-size="10.5" font-weight="bold" fill="#2fa84a" opacity="0.8" text-anchor="middle">Y</text>
<rect x="921" y="287.1" width="32" height="2.7" fill="#4a6ef2" opacity="0.6"/><polygon points="904.4,288.4 922.8,284.8 922.8,292" fill="#4a6ef2" opacity="0.88"/>
<text x="893.6" y="292" font-size="10.5" font-weight="bold" fill="#4a6ef2" opacity="0.9" text-anchor="middle">Z</text>
<circle cx="953.4" cy="288.4" r="3.4" fill="#e0141c"/>
</svg>
</body></html>
